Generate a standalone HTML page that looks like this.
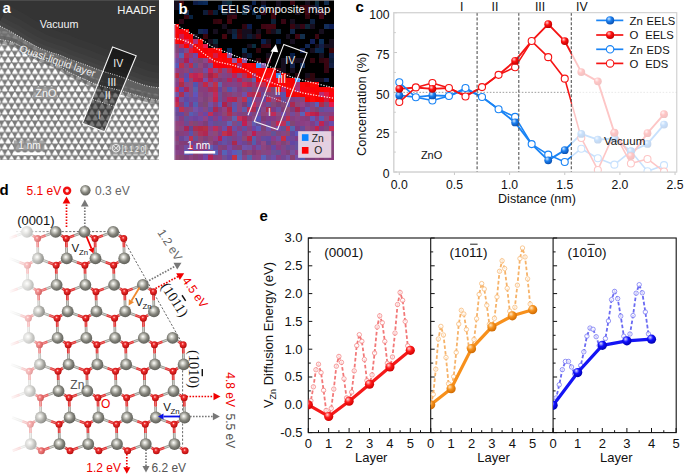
<!DOCTYPE html><html><head><meta charset="utf-8"><style>html,body{margin:0;padding:0;background:#fff;overflow:hidden;}svg{display:block}</style></head><body>
<svg width="685" height="474" viewBox="0 0 685 474">
<defs>
<radialGradient id="gZn" cx="0.45" cy="0.42" r="0.6" fx="0.42" fy="0.38"><stop offset="0" stop-color="#ffffff"/><stop offset="0.22" stop-color="#d6d6ce"/><stop offset="0.6" stop-color="#85857d"/><stop offset="1" stop-color="#5a5a54"/></radialGradient>
<radialGradient id="gO" cx="0.45" cy="0.42" r="0.6" fx="0.42" fy="0.38"><stop offset="0" stop-color="#ffd8d8"/><stop offset="0.3" stop-color="#f03030"/><stop offset="1" stop-color="#b00808"/></radialGradient>
<radialGradient id="gBlueC" cx="0.4" cy="0.35" r="0.65" fx="0.35" fy="0.3"><stop offset="0" stop-color="#d0e8ff"/><stop offset="0.45" stop-color="#1a7ff0"/><stop offset="1" stop-color="#0a50b0"/></radialGradient>
<radialGradient id="gRedC" cx="0.4" cy="0.35" r="0.65" fx="0.35" fy="0.3"><stop offset="0" stop-color="#ffd0d0"/><stop offset="0.45" stop-color="#ff1010"/><stop offset="1" stop-color="#c00000"/></radialGradient>
<radialGradient id="gRedE" cx="0.4" cy="0.35" r="0.65" fx="0.35" fy="0.3"><stop offset="0" stop-color="#ffd8d8"/><stop offset="0.45" stop-color="#ff1a1a"/><stop offset="1" stop-color="#d00000"/></radialGradient>
<radialGradient id="gOrE" cx="0.4" cy="0.35" r="0.65" fx="0.35" fy="0.3"><stop offset="0" stop-color="#ffe8c8"/><stop offset="0.45" stop-color="#f7931e"/><stop offset="1" stop-color="#d06a00"/></radialGradient>
<radialGradient id="gBlE" cx="0.4" cy="0.35" r="0.65" fx="0.35" fy="0.3"><stop offset="0" stop-color="#d8d8ff"/><stop offset="0.45" stop-color="#1010ff"/><stop offset="1" stop-color="#0000b0"/></radialGradient>
<radialGradient id="gZnAtom" cx="0.4" cy="0.35" r="0.65" fx="0.35" fy="0.3"><stop offset="0" stop-color="#ffffff"/><stop offset="0.45" stop-color="#a0a098"/><stop offset="1" stop-color="#5a5a52"/></radialGradient>
<linearGradient id="fadeL" x1="0" y1="0" x2="1" y2="0" gradientUnits="userSpaceOnUse" gradientTransform="translate(0,0) scale(60,1)"><stop offset="0" stop-color="#fff" stop-opacity="1"/><stop offset="0.14" stop-color="#fff" stop-opacity="1"/><stop offset="0.47" stop-color="#fff" stop-opacity="0.68"/><stop offset="0.63" stop-color="#fff" stop-opacity="0.45"/><stop offset="0.83" stop-color="#fff" stop-opacity="0.12"/><stop offset="0.95" stop-color="#fff" stop-opacity="0"/></linearGradient>
<clipPath id="clipA"><rect x="0" y="0" width="159" height="159.5"/></clipPath>
<clipPath id="clipB"><rect x="174" y="0" width="160" height="160"/></clipPath>
<clipPath id="clipC"><rect x="393.8" y="12.7" width="282.9" height="159.3"/></clipPath>
<clipPath id="clipE1"><rect x="308.3" y="238" width="122.4" height="194.6"/></clipPath>
<clipPath id="clipE2"><rect x="430.7" y="238" width="122.4" height="194.6"/></clipPath>
<clipPath id="clipE3"><rect x="553.1" y="238" width="123.1" height="194.6"/></clipPath>
</defs>
<defs>
<filter id="blur06" x="-0.2" y="-0.2" width="1.4" height="1.4"><feGaussianBlur stdDeviation="0.7"/></filter>
<pattern id="latt" patternUnits="userSpaceOnUse" width="6.7" height="11.6" patternTransform="translate(1.5,2)"><rect width="6.7" height="11.6" fill="#7a7a7a"/><g filter="url(#blur06)"><polygon points="-1.95,1.60 1.95,1.60 0.00,-1.95" fill="#ffffff" stroke="#ffffff" stroke-width="1.5" stroke-linejoin="round"/><polygon points="4.75,1.60 8.65,1.60 6.70,-1.95" fill="#ffffff" stroke="#ffffff" stroke-width="1.5" stroke-linejoin="round"/><polygon points="1.40,7.40 5.30,7.40 3.35,3.85" fill="#ffffff" stroke="#ffffff" stroke-width="1.5" stroke-linejoin="round"/><polygon points="-1.95,13.20 1.95,13.20 0.00,9.65" fill="#ffffff" stroke="#ffffff" stroke-width="1.5" stroke-linejoin="round"/><polygon points="4.75,13.20 8.65,13.20 6.70,9.65" fill="#ffffff" stroke="#ffffff" stroke-width="1.5" stroke-linejoin="round"/></g></pattern>
<linearGradient id="qllH" x1="0" y1="0" x2="1" y2="0"><stop offset="0" stop-color="#6e6e6e"/><stop offset="1" stop-color="#5e5e5e"/></linearGradient>
</defs>
<g clip-path="url(#clipA)">
<rect x="0" y="0" width="159" height="160" fill="#343434"/>
<rect x="0" y="0" width="159" height="1" fill="#4a4a4a"/>
<path d="M-2.00,25.00 C0.45,26.28 8.15,30.15 12.70,32.70 C17.25,35.25 21.08,37.88 25.30,40.30 C29.52,42.72 33.78,45.20 38.00,47.20 C42.22,49.20 46.93,50.97 50.60,52.30 C54.27,53.63 56.85,54.05 60.00,55.20 C63.15,56.35 65.45,57.67 69.50,59.20 C73.55,60.73 78.88,62.43 84.30,64.40 C89.72,66.37 96.05,68.98 102.00,71.00 C107.95,73.02 112.83,74.10 120.00,76.50 C127.17,78.90 138.17,83.48 145.00,85.40 C151.83,87.32 158.33,87.57 161.00,88.00" fill="none" stroke="#5a5a5a" stroke-width="44" stroke-opacity="0.1"/>
<path d="M-2.00,25.00 C0.45,26.28 8.15,30.15 12.70,32.70 C17.25,35.25 21.08,37.88 25.30,40.30 C29.52,42.72 33.78,45.20 38.00,47.20 C42.22,49.20 46.93,50.97 50.60,52.30 C54.27,53.63 56.85,54.05 60.00,55.20 C63.15,56.35 65.45,57.67 69.50,59.20 C73.55,60.73 78.88,62.43 84.30,64.40 C89.72,66.37 96.05,68.98 102.00,71.00 C107.95,73.02 112.83,74.10 120.00,76.50 C127.17,78.90 138.17,83.48 145.00,85.40 C151.83,87.32 158.33,87.57 161.00,88.00" fill="none" stroke="#5a5a5a" stroke-width="30" stroke-opacity="0.12"/>
<path d="M-2.00,25.00 C0.45,26.28 8.15,30.15 12.70,32.70 C17.25,35.25 21.08,37.88 25.30,40.30 C29.52,42.72 33.78,45.20 38.00,47.20 C42.22,49.20 46.93,50.97 50.60,52.30 C54.27,53.63 56.85,54.05 60.00,55.20 C63.15,56.35 65.45,57.67 69.50,59.20 C73.55,60.73 78.88,62.43 84.30,64.40 C89.72,66.37 96.05,68.98 102.00,71.00 C107.95,73.02 112.83,74.10 120.00,76.50 C127.17,78.90 138.17,83.48 145.00,85.40 C151.83,87.32 158.33,87.57 161.00,88.00" fill="none" stroke="#5a5a5a" stroke-width="18" stroke-opacity="0.15"/>
<path d="M-2.00,25.00 C0.45,26.28 8.15,30.15 12.70,32.70 C17.25,35.25 21.08,37.88 25.30,40.30 C29.52,42.72 33.78,45.20 38.00,47.20 C42.22,49.20 46.93,50.97 50.60,52.30 C54.27,53.63 56.85,54.05 60.00,55.20 C63.15,56.35 65.45,57.67 69.50,59.20 C73.55,60.73 78.88,62.43 84.30,64.40 C89.72,66.37 96.05,68.98 102.00,71.00 C107.95,73.02 112.83,74.10 120.00,76.50 C127.17,78.90 138.17,83.48 145.00,85.40 C151.83,87.32 158.33,87.57 161.00,88.00" fill="none" stroke="#5a5a5a" stroke-width="9" stroke-opacity="0.2"/>
<path d="M-2.00,25.00 C0.45,26.28 8.15,30.15 12.70,32.70 C17.25,35.25 21.08,37.88 25.30,40.30 C29.52,42.72 33.78,45.20 38.00,47.20 C42.22,49.20 46.93,50.97 50.60,52.30 C54.27,53.63 56.85,54.05 60.00,55.20 C63.15,56.35 65.45,57.67 69.50,59.20 C73.55,60.73 78.88,62.43 84.30,64.40 C89.72,66.37 96.05,68.98 102.00,71.00 C107.95,73.02 112.83,74.10 120.00,76.50 C127.17,78.90 138.17,83.48 145.00,85.40 C151.83,87.32 158.33,87.57 161.00,88.00 L161,160 L-2,160 Z" fill="url(#qllH)"/>
<path d="M-2.00,30.20 C0.45,30.70 8.15,31.55 12.70,33.20 C17.25,34.85 21.08,37.68 25.30,40.10 C29.52,42.52 33.78,45.58 38.00,47.70 C42.22,49.82 46.93,51.20 50.60,52.80 C54.27,54.40 56.85,55.55 60.00,57.30 C63.15,59.05 65.45,60.67 69.50,63.30 C73.55,65.93 79.38,70.43 84.30,73.10 C89.22,75.77 93.05,77.42 99.00,79.30 C104.95,81.18 112.33,82.37 120.00,84.40 C127.67,86.43 138.17,89.82 145.00,91.50 C151.83,93.18 158.33,94.00 161.00,94.50 L161,160 L-2,160 Z" fill="url(#latt)" opacity="0.16"/>
<path d="M-2.00,39.20 C0.45,39.70 8.15,40.55 12.70,42.20 C17.25,43.85 21.08,46.68 25.30,49.10 C29.52,51.52 33.78,54.58 38.00,56.70 C42.22,58.82 46.93,60.20 50.60,61.80 C54.27,63.40 56.85,64.55 60.00,66.30 C63.15,68.05 65.45,70.17 69.50,72.30 C73.55,74.43 79.38,76.93 84.30,79.10 C89.22,81.27 93.05,83.42 99.00,85.30 C104.95,87.18 112.33,88.37 120.00,90.40 C127.67,92.43 138.17,95.82 145.00,97.50 C151.83,99.18 158.33,100.00 161.00,100.50 L161,160 L-2,160 Z" fill="url(#latt)"/>
<path d="M-2.00,39.20 C0.45,39.70 8.15,40.55 12.70,42.20 C17.25,43.85 21.08,46.68 25.30,49.10 C29.52,51.52 33.78,54.58 38.00,56.70 C42.22,58.82 46.93,60.20 50.60,61.80 C54.27,63.40 56.85,64.55 60.00,66.30 C63.15,68.05 65.45,70.17 69.50,72.30 C73.55,74.43 79.38,76.93 84.30,79.10 C89.22,81.27 93.05,83.42 99.00,85.30 C104.95,87.18 112.33,88.37 120.00,90.40 C127.67,92.43 138.17,95.82 145.00,97.50 C151.83,99.18 158.33,100.00 161.00,100.50" fill="none" stroke="#555555" stroke-width="8" stroke-opacity="0.55"/>
<polygon points="112.6,47 136.2,55.8 104.5,131.8 82.4,123.3" fill="#000" fill-opacity="0.5"/>
<polygon points="112.6,47 136.2,55.8 104.5,131.8 82.4,123.3" fill="none" stroke="#f4f4f4" stroke-width="1.1"/>
<path d="M-2.00,25.00 C0.45,26.28 8.15,30.15 12.70,32.70 C17.25,35.25 21.08,37.88 25.30,40.30 C29.52,42.72 33.78,45.20 38.00,47.20 C42.22,49.20 46.93,50.97 50.60,52.30 C54.27,53.63 56.85,54.05 60.00,55.20 C63.15,56.35 65.45,57.67 69.50,59.20 C73.55,60.73 78.88,62.43 84.30,64.40 C89.72,66.37 96.05,68.98 102.00,71.00 C107.95,73.02 112.83,74.10 120.00,76.50 C127.17,78.90 138.17,83.48 145.00,85.40 C151.83,87.32 158.33,87.57 161.00,88.00" fill="none" stroke="#ffffff" stroke-width="0.9" stroke-dasharray="1,1.4" opacity="0.9"/>
<path d="M-2.00,39.20 C0.45,39.70 8.15,40.55 12.70,42.20 C17.25,43.85 21.08,46.68 25.30,49.10 C29.52,51.52 33.78,54.58 38.00,56.70 C42.22,58.82 46.93,60.20 50.60,61.80 C54.27,63.40 56.85,64.55 60.00,66.30 C63.15,68.05 65.45,70.17 69.50,72.30 C73.55,74.43 79.38,76.93 84.30,79.10 C89.22,81.27 93.05,83.42 99.00,85.30 C104.95,87.18 112.33,88.37 120.00,90.40 C127.67,92.43 138.17,95.82 145.00,97.50 C151.83,99.18 158.33,100.00 161.00,100.50" fill="none" stroke="#ffffff" stroke-width="0.9" stroke-dasharray="1,1.4" opacity="0.9"/>
<line x1="92.9" y1="99.5" x2="115.1" y2="106.5" stroke="#fff" stroke-width="0.9" stroke-dasharray="1,1.4" opacity="0.85"/>
<text x="2.50" y="12.80" style="font-family:'Liberation Sans',sans-serif;font-size:15px;font-weight:bold" fill="#fff" text-anchor="start" >a</text>
<text x="117.30" y="14.30" style="font-family:'Liberation Sans',sans-serif;font-size:11.3px;font-weight:normal" fill="#f2f2f2" text-anchor="start" >HAADF</text>
<text x="39.80" y="27.80" style="font-family:'Liberation Sans',sans-serif;font-size:10.8px;font-weight:normal" fill="#f2f2f2" text-anchor="start" >Vacuum</text>
<text x="18.80" y="51.60" style="font-family:'Liberation Sans',sans-serif;font-size:10.3px;font-weight:normal" fill="#f2f2f2" text-anchor="start" transform="rotate(18.8 18.8 51.6)">Quasi-liquid layer</text>
<rect x="33" y="87" width="24" height="12" fill="#8c8c8c" fill-opacity="0.75" filter="url(#blur06)"/>
<text x="35.30" y="97.00" style="font-family:'Liberation Sans',sans-serif;font-size:10.8px;font-weight:normal" fill="#f4f4f4" text-anchor="start" >ZnO</text>
<text x="118.20" y="66.60" style="font-family:'Liberation Sans',sans-serif;font-size:10.5px;font-weight:normal" fill="#f0f0f0" text-anchor="middle" >IV</text>
<text x="111.90" y="86.00" style="font-family:'Liberation Sans',sans-serif;font-size:10.5px;font-weight:normal" fill="#f0f0f0" text-anchor="middle" >III</text>
<text x="107.70" y="98.70" style="font-family:'Liberation Sans',sans-serif;font-size:10.5px;font-weight:normal" fill="#f0f0f0" text-anchor="middle" >II</text>
<text x="99.30" y="118.70" style="font-family:'Liberation Sans',sans-serif;font-size:10.5px;font-weight:normal" fill="#c8c8c8" text-anchor="middle" >I</text>
<rect x="13.8" y="140.4" width="30.6" height="11" fill="#8c8c8c" fill-opacity="0.75" filter="url(#blur06)"/>
<text x="18.30" y="148.90" style="font-family:'Liberation Sans',sans-serif;font-size:10px;font-weight:normal" fill="#f6f6f6" text-anchor="start" >1 nm</text>
<rect x="14.2" y="152.4" width="30.6" height="2.6" fill="#fff"/>
<rect x="110.5" y="142.5" width="38" height="12" fill="#8c8c8c" fill-opacity="0.75" filter="url(#blur06)"/>
<circle cx="116" cy="148.2" r="3.8" fill="none" stroke="#f0f0f0" stroke-width="0.9"/>
<line x1="113.4" y1="145.6" x2="118.6" y2="150.8" stroke="#f0f0f0" stroke-width="0.9"/><line x1="118.6" y1="145.6" x2="113.4" y2="150.8" stroke="#f0f0f0" stroke-width="0.9"/>
<text x="121.80" y="151.80" style="font-family:'Liberation Sans',sans-serif;font-size:9.5px;font-weight:normal" fill="#f0f0f0" text-anchor="start" textLength="24.6" lengthAdjust="spacingAndGlyphs">[1 1 2 0]</text>
</g>
<g clip-path="url(#clipB)">
<g shape-rendering="crispEdges">
<rect x="174.00" y="0.00" width="5.15" height="5.15" fill="#160e1e"/>
<rect x="178.85" y="0.00" width="5.15" height="5.15" fill="#3d050c"/>
<rect x="183.70" y="0.00" width="5.15" height="5.15" fill="#000000"/>
<rect x="188.55" y="0.00" width="5.15" height="5.15" fill="#000000"/>
<rect x="193.39" y="0.00" width="5.15" height="5.15" fill="#0e1c46"/>
<rect x="198.24" y="0.00" width="5.15" height="5.15" fill="#092553"/>
<rect x="203.09" y="0.00" width="5.15" height="5.15" fill="#0a2958"/>
<rect x="207.94" y="0.00" width="5.15" height="5.15" fill="#000000"/>
<rect x="212.79" y="0.00" width="5.15" height="5.15" fill="#000000"/>
<rect x="217.64" y="0.00" width="5.15" height="5.15" fill="#000000"/>
<rect x="222.48" y="0.00" width="5.15" height="5.15" fill="#12223c"/>
<rect x="227.33" y="0.00" width="5.15" height="5.15" fill="#0b2d3d"/>
<rect x="232.18" y="0.00" width="5.15" height="5.15" fill="#000000"/>
<rect x="237.03" y="0.00" width="5.15" height="5.15" fill="#000000"/>
<rect x="241.88" y="0.00" width="5.15" height="5.15" fill="#000000"/>
<rect x="246.73" y="0.00" width="5.15" height="5.15" fill="#000000"/>
<rect x="251.58" y="0.00" width="5.15" height="5.15" fill="#08204e"/>
<rect x="256.42" y="0.00" width="5.15" height="5.15" fill="#000000"/>
<rect x="261.27" y="0.00" width="5.15" height="5.15" fill="#160e1e"/>
<rect x="266.12" y="0.00" width="5.15" height="5.15" fill="#000000"/>
<rect x="270.97" y="0.00" width="5.15" height="5.15" fill="#000000"/>
<rect x="275.82" y="0.00" width="5.15" height="5.15" fill="#160e1e"/>
<rect x="280.67" y="0.00" width="5.15" height="5.15" fill="#000000"/>
<rect x="285.52" y="0.00" width="5.15" height="5.15" fill="#000000"/>
<rect x="290.36" y="0.00" width="5.15" height="5.15" fill="#3b0511"/>
<rect x="295.21" y="0.00" width="5.15" height="5.15" fill="#000000"/>
<rect x="300.06" y="0.00" width="5.15" height="5.15" fill="#000000"/>
<rect x="304.91" y="0.00" width="5.15" height="5.15" fill="#160e1e"/>
<rect x="309.76" y="0.00" width="5.15" height="5.15" fill="#000000"/>
<rect x="314.61" y="0.00" width="5.15" height="5.15" fill="#0d2c3c"/>
<rect x="319.45" y="0.00" width="5.15" height="5.15" fill="#000000"/>
<rect x="324.30" y="0.00" width="5.15" height="5.15" fill="#102c4b"/>
<rect x="329.15" y="0.00" width="5.15" height="5.15" fill="#000000"/>
<rect x="174.00" y="4.85" width="5.15" height="5.15" fill="#160e1e"/>
<rect x="178.85" y="4.85" width="5.15" height="5.15" fill="#000000"/>
<rect x="183.70" y="4.85" width="5.15" height="5.15" fill="#000000"/>
<rect x="188.55" y="4.85" width="5.15" height="5.15" fill="#000000"/>
<rect x="193.39" y="4.85" width="5.15" height="5.15" fill="#000000"/>
<rect x="198.24" y="4.85" width="5.15" height="5.15" fill="#000000"/>
<rect x="203.09" y="4.85" width="5.15" height="5.15" fill="#000000"/>
<rect x="207.94" y="4.85" width="5.15" height="5.15" fill="#000000"/>
<rect x="212.79" y="4.85" width="5.15" height="5.15" fill="#000000"/>
<rect x="217.64" y="4.85" width="5.15" height="5.15" fill="#102a59"/>
<rect x="222.48" y="4.85" width="5.15" height="5.15" fill="#000000"/>
<rect x="227.33" y="4.85" width="5.15" height="5.15" fill="#160e1e"/>
<rect x="232.18" y="4.85" width="5.15" height="5.15" fill="#000000"/>
<rect x="237.03" y="4.85" width="5.15" height="5.15" fill="#000000"/>
<rect x="241.88" y="4.85" width="5.15" height="5.15" fill="#0d1f3b"/>
<rect x="246.73" y="4.85" width="5.15" height="5.15" fill="#111e3f"/>
<rect x="251.58" y="4.85" width="5.15" height="5.15" fill="#000000"/>
<rect x="256.42" y="4.85" width="5.15" height="5.15" fill="#000000"/>
<rect x="261.27" y="4.85" width="5.15" height="5.15" fill="#0d2855"/>
<rect x="266.12" y="4.85" width="5.15" height="5.15" fill="#000000"/>
<rect x="270.97" y="4.85" width="5.15" height="5.15" fill="#000000"/>
<rect x="275.82" y="4.85" width="5.15" height="5.15" fill="#160e1e"/>
<rect x="280.67" y="4.85" width="5.15" height="5.15" fill="#000000"/>
<rect x="285.52" y="4.85" width="5.15" height="5.15" fill="#000000"/>
<rect x="290.36" y="4.85" width="5.15" height="5.15" fill="#000000"/>
<rect x="295.21" y="4.85" width="5.15" height="5.15" fill="#000000"/>
<rect x="300.06" y="4.85" width="5.15" height="5.15" fill="#31050e"/>
<rect x="304.91" y="4.85" width="5.15" height="5.15" fill="#390511"/>
<rect x="309.76" y="4.85" width="5.15" height="5.15" fill="#160e1e"/>
<rect x="314.61" y="4.85" width="5.15" height="5.15" fill="#0d244a"/>
<rect x="319.45" y="4.85" width="5.15" height="5.15" fill="#000000"/>
<rect x="324.30" y="4.85" width="5.15" height="5.15" fill="#000000"/>
<rect x="329.15" y="4.85" width="5.15" height="5.15" fill="#000000"/>
<rect x="174.00" y="9.70" width="5.15" height="5.15" fill="#000000"/>
<rect x="178.85" y="9.70" width="5.15" height="5.15" fill="#000000"/>
<rect x="183.70" y="9.70" width="5.15" height="5.15" fill="#122d55"/>
<rect x="188.55" y="9.70" width="5.15" height="5.15" fill="#000000"/>
<rect x="193.39" y="9.70" width="5.15" height="5.15" fill="#000000"/>
<rect x="198.24" y="9.70" width="5.15" height="5.15" fill="#000000"/>
<rect x="203.09" y="9.70" width="5.15" height="5.15" fill="#0f1d39"/>
<rect x="207.94" y="9.70" width="5.15" height="5.15" fill="#31050f"/>
<rect x="212.79" y="9.70" width="5.15" height="5.15" fill="#081f3a"/>
<rect x="217.64" y="9.70" width="5.15" height="5.15" fill="#000000"/>
<rect x="222.48" y="9.70" width="5.15" height="5.15" fill="#12293c"/>
<rect x="227.33" y="9.70" width="5.15" height="5.15" fill="#160e1e"/>
<rect x="232.18" y="9.70" width="5.15" height="5.15" fill="#160e1e"/>
<rect x="237.03" y="9.70" width="5.15" height="5.15" fill="#000000"/>
<rect x="241.88" y="9.70" width="5.15" height="5.15" fill="#123147"/>
<rect x="246.73" y="9.70" width="5.15" height="5.15" fill="#000000"/>
<rect x="251.58" y="9.70" width="5.15" height="5.15" fill="#092340"/>
<rect x="256.42" y="9.70" width="5.15" height="5.15" fill="#000000"/>
<rect x="261.27" y="9.70" width="5.15" height="5.15" fill="#2d0515"/>
<rect x="266.12" y="9.70" width="5.15" height="5.15" fill="#000000"/>
<rect x="270.97" y="9.70" width="5.15" height="5.15" fill="#3a050c"/>
<rect x="275.82" y="9.70" width="5.15" height="5.15" fill="#000000"/>
<rect x="280.67" y="9.70" width="5.15" height="5.15" fill="#000000"/>
<rect x="285.52" y="9.70" width="5.15" height="5.15" fill="#000000"/>
<rect x="290.36" y="9.70" width="5.15" height="5.15" fill="#000000"/>
<rect x="295.21" y="9.70" width="5.15" height="5.15" fill="#160e1e"/>
<rect x="300.06" y="9.70" width="5.15" height="5.15" fill="#000000"/>
<rect x="304.91" y="9.70" width="5.15" height="5.15" fill="#400511"/>
<rect x="309.76" y="9.70" width="5.15" height="5.15" fill="#000000"/>
<rect x="314.61" y="9.70" width="5.15" height="5.15" fill="#160e1e"/>
<rect x="319.45" y="9.70" width="5.15" height="5.15" fill="#410515"/>
<rect x="324.30" y="9.70" width="5.15" height="5.15" fill="#000000"/>
<rect x="329.15" y="9.70" width="5.15" height="5.15" fill="#000000"/>
<rect x="174.00" y="14.55" width="5.15" height="5.15" fill="#000000"/>
<rect x="178.85" y="14.55" width="5.15" height="5.15" fill="#000000"/>
<rect x="183.70" y="14.55" width="5.15" height="5.15" fill="#39050f"/>
<rect x="188.55" y="14.55" width="5.15" height="5.15" fill="#082240"/>
<rect x="193.39" y="14.55" width="5.15" height="5.15" fill="#000000"/>
<rect x="198.24" y="14.55" width="5.15" height="5.15" fill="#000000"/>
<rect x="203.09" y="14.55" width="5.15" height="5.15" fill="#000000"/>
<rect x="207.94" y="14.55" width="5.15" height="5.15" fill="#000000"/>
<rect x="212.79" y="14.55" width="5.15" height="5.15" fill="#000000"/>
<rect x="217.64" y="14.55" width="5.15" height="5.15" fill="#000000"/>
<rect x="222.48" y="14.55" width="5.15" height="5.15" fill="#000000"/>
<rect x="227.33" y="14.55" width="5.15" height="5.15" fill="#32050d"/>
<rect x="232.18" y="14.55" width="5.15" height="5.15" fill="#3c0515"/>
<rect x="237.03" y="14.55" width="5.15" height="5.15" fill="#000000"/>
<rect x="241.88" y="14.55" width="5.15" height="5.15" fill="#000000"/>
<rect x="246.73" y="14.55" width="5.15" height="5.15" fill="#000000"/>
<rect x="251.58" y="14.55" width="5.15" height="5.15" fill="#000000"/>
<rect x="256.42" y="14.55" width="5.15" height="5.15" fill="#0f3052"/>
<rect x="261.27" y="14.55" width="5.15" height="5.15" fill="#000000"/>
<rect x="266.12" y="14.55" width="5.15" height="5.15" fill="#000000"/>
<rect x="270.97" y="14.55" width="5.15" height="5.15" fill="#40050f"/>
<rect x="275.82" y="14.55" width="5.15" height="5.15" fill="#000000"/>
<rect x="280.67" y="14.55" width="5.15" height="5.15" fill="#000000"/>
<rect x="285.52" y="14.55" width="5.15" height="5.15" fill="#000000"/>
<rect x="290.36" y="14.55" width="5.15" height="5.15" fill="#000000"/>
<rect x="295.21" y="14.55" width="5.15" height="5.15" fill="#000000"/>
<rect x="300.06" y="14.55" width="5.15" height="5.15" fill="#000000"/>
<rect x="304.91" y="14.55" width="5.15" height="5.15" fill="#30050d"/>
<rect x="309.76" y="14.55" width="5.15" height="5.15" fill="#000000"/>
<rect x="314.61" y="14.55" width="5.15" height="5.15" fill="#000000"/>
<rect x="319.45" y="14.55" width="5.15" height="5.15" fill="#410515"/>
<rect x="324.30" y="14.55" width="5.15" height="5.15" fill="#000000"/>
<rect x="329.15" y="14.55" width="5.15" height="5.15" fill="#000000"/>
<rect x="174.00" y="19.39" width="5.15" height="5.15" fill="#000000"/>
<rect x="178.85" y="19.39" width="5.15" height="5.15" fill="#2d0515"/>
<rect x="183.70" y="19.39" width="5.15" height="5.15" fill="#000000"/>
<rect x="188.55" y="19.39" width="5.15" height="5.15" fill="#000000"/>
<rect x="193.39" y="19.39" width="5.15" height="5.15" fill="#000000"/>
<rect x="198.24" y="19.39" width="5.15" height="5.15" fill="#000000"/>
<rect x="203.09" y="19.39" width="5.15" height="5.15" fill="#000000"/>
<rect x="207.94" y="19.39" width="5.15" height="5.15" fill="#000000"/>
<rect x="212.79" y="19.39" width="5.15" height="5.15" fill="#33050e"/>
<rect x="217.64" y="19.39" width="5.15" height="5.15" fill="#3b050e"/>
<rect x="222.48" y="19.39" width="5.15" height="5.15" fill="#000000"/>
<rect x="227.33" y="19.39" width="5.15" height="5.15" fill="#43050f"/>
<rect x="232.18" y="19.39" width="5.15" height="5.15" fill="#000000"/>
<rect x="237.03" y="19.39" width="5.15" height="5.15" fill="#000000"/>
<rect x="241.88" y="19.39" width="5.15" height="5.15" fill="#000000"/>
<rect x="246.73" y="19.39" width="5.15" height="5.15" fill="#000000"/>
<rect x="251.58" y="19.39" width="5.15" height="5.15" fill="#000000"/>
<rect x="256.42" y="19.39" width="5.15" height="5.15" fill="#000000"/>
<rect x="261.27" y="19.39" width="5.15" height="5.15" fill="#000000"/>
<rect x="266.12" y="19.39" width="5.15" height="5.15" fill="#000000"/>
<rect x="270.97" y="19.39" width="5.15" height="5.15" fill="#0d2037"/>
<rect x="275.82" y="19.39" width="5.15" height="5.15" fill="#000000"/>
<rect x="280.67" y="19.39" width="5.15" height="5.15" fill="#380513"/>
<rect x="285.52" y="19.39" width="5.15" height="5.15" fill="#000000"/>
<rect x="290.36" y="19.39" width="5.15" height="5.15" fill="#160e1e"/>
<rect x="295.21" y="19.39" width="5.15" height="5.15" fill="#000000"/>
<rect x="300.06" y="19.39" width="5.15" height="5.15" fill="#000000"/>
<rect x="304.91" y="19.39" width="5.15" height="5.15" fill="#000000"/>
<rect x="309.76" y="19.39" width="5.15" height="5.15" fill="#0e2140"/>
<rect x="314.61" y="19.39" width="5.15" height="5.15" fill="#000000"/>
<rect x="319.45" y="19.39" width="5.15" height="5.15" fill="#000000"/>
<rect x="324.30" y="19.39" width="5.15" height="5.15" fill="#000000"/>
<rect x="329.15" y="19.39" width="5.15" height="5.15" fill="#000000"/>
<rect x="174.00" y="24.24" width="5.15" height="5.15" fill="#f90707"/>
<rect x="178.85" y="24.24" width="5.15" height="5.15" fill="#000000"/>
<rect x="183.70" y="24.24" width="5.15" height="5.15" fill="#000000"/>
<rect x="188.55" y="24.24" width="5.15" height="5.15" fill="#000000"/>
<rect x="193.39" y="24.24" width="5.15" height="5.15" fill="#000000"/>
<rect x="198.24" y="24.24" width="5.15" height="5.15" fill="#000000"/>
<rect x="203.09" y="24.24" width="5.15" height="5.15" fill="#000000"/>
<rect x="207.94" y="24.24" width="5.15" height="5.15" fill="#000000"/>
<rect x="212.79" y="24.24" width="5.15" height="5.15" fill="#000000"/>
<rect x="217.64" y="24.24" width="5.15" height="5.15" fill="#000000"/>
<rect x="222.48" y="24.24" width="5.15" height="5.15" fill="#160e1e"/>
<rect x="227.33" y="24.24" width="5.15" height="5.15" fill="#000000"/>
<rect x="232.18" y="24.24" width="5.15" height="5.15" fill="#000000"/>
<rect x="237.03" y="24.24" width="5.15" height="5.15" fill="#000000"/>
<rect x="241.88" y="24.24" width="5.15" height="5.15" fill="#300510"/>
<rect x="246.73" y="24.24" width="5.15" height="5.15" fill="#0a1d4e"/>
<rect x="251.58" y="24.24" width="5.15" height="5.15" fill="#000000"/>
<rect x="256.42" y="24.24" width="5.15" height="5.15" fill="#000000"/>
<rect x="261.27" y="24.24" width="5.15" height="5.15" fill="#3e0512"/>
<rect x="266.12" y="24.24" width="5.15" height="5.15" fill="#430515"/>
<rect x="270.97" y="24.24" width="5.15" height="5.15" fill="#44050f"/>
<rect x="275.82" y="24.24" width="5.15" height="5.15" fill="#000000"/>
<rect x="280.67" y="24.24" width="5.15" height="5.15" fill="#000000"/>
<rect x="285.52" y="24.24" width="5.15" height="5.15" fill="#000000"/>
<rect x="290.36" y="24.24" width="5.15" height="5.15" fill="#370511"/>
<rect x="295.21" y="24.24" width="5.15" height="5.15" fill="#160e1e"/>
<rect x="300.06" y="24.24" width="5.15" height="5.15" fill="#340513"/>
<rect x="304.91" y="24.24" width="5.15" height="5.15" fill="#0e2537"/>
<rect x="309.76" y="24.24" width="5.15" height="5.15" fill="#160e1e"/>
<rect x="314.61" y="24.24" width="5.15" height="5.15" fill="#000000"/>
<rect x="319.45" y="24.24" width="5.15" height="5.15" fill="#000000"/>
<rect x="324.30" y="24.24" width="5.15" height="5.15" fill="#132d59"/>
<rect x="329.15" y="24.24" width="5.15" height="5.15" fill="#0b1c52"/>
<rect x="174.00" y="29.09" width="5.15" height="5.15" fill="#f6050d"/>
<rect x="178.85" y="29.09" width="5.15" height="5.15" fill="#f7010d"/>
<rect x="183.70" y="29.09" width="5.15" height="5.15" fill="#fc0100"/>
<rect x="188.55" y="29.09" width="5.15" height="5.15" fill="#000000"/>
<rect x="193.39" y="29.09" width="5.15" height="5.15" fill="#000000"/>
<rect x="198.24" y="29.09" width="5.15" height="5.15" fill="#132953"/>
<rect x="203.09" y="29.09" width="5.15" height="5.15" fill="#121d55"/>
<rect x="207.94" y="29.09" width="5.15" height="5.15" fill="#000000"/>
<rect x="212.79" y="29.09" width="5.15" height="5.15" fill="#160e1e"/>
<rect x="217.64" y="29.09" width="5.15" height="5.15" fill="#000000"/>
<rect x="222.48" y="29.09" width="5.15" height="5.15" fill="#000000"/>
<rect x="227.33" y="29.09" width="5.15" height="5.15" fill="#160e1e"/>
<rect x="232.18" y="29.09" width="5.15" height="5.15" fill="#0e213a"/>
<rect x="237.03" y="29.09" width="5.15" height="5.15" fill="#2e050e"/>
<rect x="241.88" y="29.09" width="5.15" height="5.15" fill="#160e1e"/>
<rect x="246.73" y="29.09" width="5.15" height="5.15" fill="#160e1e"/>
<rect x="251.58" y="29.09" width="5.15" height="5.15" fill="#000000"/>
<rect x="256.42" y="29.09" width="5.15" height="5.15" fill="#160e1e"/>
<rect x="261.27" y="29.09" width="5.15" height="5.15" fill="#000000"/>
<rect x="266.12" y="29.09" width="5.15" height="5.15" fill="#35050c"/>
<rect x="270.97" y="29.09" width="5.15" height="5.15" fill="#160e1e"/>
<rect x="275.82" y="29.09" width="5.15" height="5.15" fill="#10283d"/>
<rect x="280.67" y="29.09" width="5.15" height="5.15" fill="#000000"/>
<rect x="285.52" y="29.09" width="5.15" height="5.15" fill="#000000"/>
<rect x="290.36" y="29.09" width="5.15" height="5.15" fill="#112548"/>
<rect x="295.21" y="29.09" width="5.15" height="5.15" fill="#000000"/>
<rect x="300.06" y="29.09" width="5.15" height="5.15" fill="#000000"/>
<rect x="304.91" y="29.09" width="5.15" height="5.15" fill="#000000"/>
<rect x="309.76" y="29.09" width="5.15" height="5.15" fill="#000000"/>
<rect x="314.61" y="29.09" width="5.15" height="5.15" fill="#000000"/>
<rect x="319.45" y="29.09" width="5.15" height="5.15" fill="#160e1e"/>
<rect x="324.30" y="29.09" width="5.15" height="5.15" fill="#000000"/>
<rect x="329.15" y="29.09" width="5.15" height="5.15" fill="#000000"/>
<rect x="174.00" y="33.94" width="5.15" height="5.15" fill="#f90400"/>
<rect x="178.85" y="33.94" width="5.15" height="5.15" fill="#cf194a"/>
<rect x="183.70" y="33.94" width="5.15" height="5.15" fill="#f6010c"/>
<rect x="188.55" y="33.94" width="5.15" height="5.15" fill="#fb0303"/>
<rect x="193.39" y="33.94" width="5.15" height="5.15" fill="#160e1e"/>
<rect x="198.24" y="33.94" width="5.15" height="5.15" fill="#000000"/>
<rect x="203.09" y="33.94" width="5.15" height="5.15" fill="#38050e"/>
<rect x="207.94" y="33.94" width="5.15" height="5.15" fill="#000000"/>
<rect x="212.79" y="33.94" width="5.15" height="5.15" fill="#000000"/>
<rect x="217.64" y="33.94" width="5.15" height="5.15" fill="#000000"/>
<rect x="222.48" y="33.94" width="5.15" height="5.15" fill="#45050f"/>
<rect x="227.33" y="33.94" width="5.15" height="5.15" fill="#000000"/>
<rect x="232.18" y="33.94" width="5.15" height="5.15" fill="#0c2648"/>
<rect x="237.03" y="33.94" width="5.15" height="5.15" fill="#39050c"/>
<rect x="241.88" y="33.94" width="5.15" height="5.15" fill="#160e1e"/>
<rect x="246.73" y="33.94" width="5.15" height="5.15" fill="#0c1c37"/>
<rect x="251.58" y="33.94" width="5.15" height="5.15" fill="#160e1e"/>
<rect x="256.42" y="33.94" width="5.15" height="5.15" fill="#3b0511"/>
<rect x="261.27" y="33.94" width="5.15" height="5.15" fill="#000000"/>
<rect x="266.12" y="33.94" width="5.15" height="5.15" fill="#000000"/>
<rect x="270.97" y="33.94" width="5.15" height="5.15" fill="#000000"/>
<rect x="275.82" y="33.94" width="5.15" height="5.15" fill="#000000"/>
<rect x="280.67" y="33.94" width="5.15" height="5.15" fill="#000000"/>
<rect x="285.52" y="33.94" width="5.15" height="5.15" fill="#160e1e"/>
<rect x="290.36" y="33.94" width="5.15" height="5.15" fill="#000000"/>
<rect x="295.21" y="33.94" width="5.15" height="5.15" fill="#3f0512"/>
<rect x="300.06" y="33.94" width="5.15" height="5.15" fill="#122f4c"/>
<rect x="304.91" y="33.94" width="5.15" height="5.15" fill="#000000"/>
<rect x="309.76" y="33.94" width="5.15" height="5.15" fill="#000000"/>
<rect x="314.61" y="33.94" width="5.15" height="5.15" fill="#3a0511"/>
<rect x="319.45" y="33.94" width="5.15" height="5.15" fill="#000000"/>
<rect x="324.30" y="33.94" width="5.15" height="5.15" fill="#000000"/>
<rect x="329.15" y="33.94" width="5.15" height="5.15" fill="#000000"/>
<rect x="174.00" y="38.79" width="5.15" height="5.15" fill="#fd080a"/>
<rect x="178.85" y="38.79" width="5.15" height="5.15" fill="#f50105"/>
<rect x="183.70" y="38.79" width="5.15" height="5.15" fill="#e61947"/>
<rect x="188.55" y="38.79" width="5.15" height="5.15" fill="#fb0807"/>
<rect x="193.39" y="38.79" width="5.15" height="5.15" fill="#b52d7a"/>
<rect x="198.24" y="38.79" width="5.15" height="5.15" fill="#fa0700"/>
<rect x="203.09" y="38.79" width="5.15" height="5.15" fill="#000000"/>
<rect x="207.94" y="38.79" width="5.15" height="5.15" fill="#160e1e"/>
<rect x="212.79" y="38.79" width="5.15" height="5.15" fill="#0b2c3e"/>
<rect x="217.64" y="38.79" width="5.15" height="5.15" fill="#000000"/>
<rect x="222.48" y="38.79" width="5.15" height="5.15" fill="#000000"/>
<rect x="227.33" y="38.79" width="5.15" height="5.15" fill="#000000"/>
<rect x="232.18" y="38.79" width="5.15" height="5.15" fill="#000000"/>
<rect x="237.03" y="38.79" width="5.15" height="5.15" fill="#000000"/>
<rect x="241.88" y="38.79" width="5.15" height="5.15" fill="#000000"/>
<rect x="246.73" y="38.79" width="5.15" height="5.15" fill="#000000"/>
<rect x="251.58" y="38.79" width="5.15" height="5.15" fill="#000000"/>
<rect x="256.42" y="38.79" width="5.15" height="5.15" fill="#000000"/>
<rect x="261.27" y="38.79" width="5.15" height="5.15" fill="#092151"/>
<rect x="266.12" y="38.79" width="5.15" height="5.15" fill="#160e1e"/>
<rect x="270.97" y="38.79" width="5.15" height="5.15" fill="#000000"/>
<rect x="275.82" y="38.79" width="5.15" height="5.15" fill="#08214e"/>
<rect x="280.67" y="38.79" width="5.15" height="5.15" fill="#000000"/>
<rect x="285.52" y="38.79" width="5.15" height="5.15" fill="#000000"/>
<rect x="290.36" y="38.79" width="5.15" height="5.15" fill="#160e1e"/>
<rect x="295.21" y="38.79" width="5.15" height="5.15" fill="#000000"/>
<rect x="300.06" y="38.79" width="5.15" height="5.15" fill="#000000"/>
<rect x="304.91" y="38.79" width="5.15" height="5.15" fill="#000000"/>
<rect x="309.76" y="38.79" width="5.15" height="5.15" fill="#122059"/>
<rect x="314.61" y="38.79" width="5.15" height="5.15" fill="#000000"/>
<rect x="319.45" y="38.79" width="5.15" height="5.15" fill="#0d2e58"/>
<rect x="324.30" y="38.79" width="5.15" height="5.15" fill="#000000"/>
<rect x="329.15" y="38.79" width="5.15" height="5.15" fill="#160e1e"/>
<rect x="174.00" y="43.64" width="5.15" height="5.15" fill="#824375"/>
<rect x="178.85" y="43.64" width="5.15" height="5.15" fill="#c22857"/>
<rect x="183.70" y="43.64" width="5.15" height="5.15" fill="#fd0500"/>
<rect x="188.55" y="43.64" width="5.15" height="5.15" fill="#a92d71"/>
<rect x="193.39" y="43.64" width="5.15" height="5.15" fill="#f60404"/>
<rect x="198.24" y="43.64" width="5.15" height="5.15" fill="#f5090c"/>
<rect x="203.09" y="43.64" width="5.15" height="5.15" fill="#e8194a"/>
<rect x="207.94" y="43.64" width="5.15" height="5.15" fill="#000000"/>
<rect x="212.79" y="43.64" width="5.15" height="5.15" fill="#160e1e"/>
<rect x="217.64" y="43.64" width="5.15" height="5.15" fill="#000000"/>
<rect x="222.48" y="43.64" width="5.15" height="5.15" fill="#000000"/>
<rect x="227.33" y="43.64" width="5.15" height="5.15" fill="#000000"/>
<rect x="232.18" y="43.64" width="5.15" height="5.15" fill="#000000"/>
<rect x="237.03" y="43.64" width="5.15" height="5.15" fill="#000000"/>
<rect x="241.88" y="43.64" width="5.15" height="5.15" fill="#000000"/>
<rect x="246.73" y="43.64" width="5.15" height="5.15" fill="#160e1e"/>
<rect x="251.58" y="43.64" width="5.15" height="5.15" fill="#092e40"/>
<rect x="256.42" y="43.64" width="5.15" height="5.15" fill="#000000"/>
<rect x="261.27" y="43.64" width="5.15" height="5.15" fill="#330511"/>
<rect x="266.12" y="43.64" width="5.15" height="5.15" fill="#360515"/>
<rect x="270.97" y="43.64" width="5.15" height="5.15" fill="#000000"/>
<rect x="275.82" y="43.64" width="5.15" height="5.15" fill="#000000"/>
<rect x="280.67" y="43.64" width="5.15" height="5.15" fill="#000000"/>
<rect x="285.52" y="43.64" width="5.15" height="5.15" fill="#000000"/>
<rect x="290.36" y="43.64" width="5.15" height="5.15" fill="#000000"/>
<rect x="295.21" y="43.64" width="5.15" height="5.15" fill="#000000"/>
<rect x="300.06" y="43.64" width="5.15" height="5.15" fill="#000000"/>
<rect x="304.91" y="43.64" width="5.15" height="5.15" fill="#102551"/>
<rect x="309.76" y="43.64" width="5.15" height="5.15" fill="#000000"/>
<rect x="314.61" y="43.64" width="5.15" height="5.15" fill="#160e1e"/>
<rect x="319.45" y="43.64" width="5.15" height="5.15" fill="#131e47"/>
<rect x="324.30" y="43.64" width="5.15" height="5.15" fill="#160e1e"/>
<rect x="329.15" y="43.64" width="5.15" height="5.15" fill="#160e1e"/>
<rect x="174.00" y="48.48" width="5.15" height="5.15" fill="#834479"/>
<rect x="178.85" y="48.48" width="5.15" height="5.15" fill="#654696"/>
<rect x="183.70" y="48.48" width="5.15" height="5.15" fill="#824889"/>
<rect x="188.55" y="48.48" width="5.15" height="5.15" fill="#e11937"/>
<rect x="193.39" y="48.48" width="5.15" height="5.15" fill="#f7060d"/>
<rect x="198.24" y="48.48" width="5.15" height="5.15" fill="#f90407"/>
<rect x="203.09" y="48.48" width="5.15" height="5.15" fill="#f80004"/>
<rect x="207.94" y="48.48" width="5.15" height="5.15" fill="#f60609"/>
<rect x="212.79" y="48.48" width="5.15" height="5.15" fill="#f70303"/>
<rect x="217.64" y="48.48" width="5.15" height="5.15" fill="#f90b0c"/>
<rect x="222.48" y="48.48" width="5.15" height="5.15" fill="#000000"/>
<rect x="227.33" y="48.48" width="5.15" height="5.15" fill="#082b56"/>
<rect x="232.18" y="48.48" width="5.15" height="5.15" fill="#000000"/>
<rect x="237.03" y="48.48" width="5.15" height="5.15" fill="#000000"/>
<rect x="241.88" y="48.48" width="5.15" height="5.15" fill="#0c3053"/>
<rect x="246.73" y="48.48" width="5.15" height="5.15" fill="#000000"/>
<rect x="251.58" y="48.48" width="5.15" height="5.15" fill="#000000"/>
<rect x="256.42" y="48.48" width="5.15" height="5.15" fill="#2f050d"/>
<rect x="261.27" y="48.48" width="5.15" height="5.15" fill="#000000"/>
<rect x="266.12" y="48.48" width="5.15" height="5.15" fill="#000000"/>
<rect x="270.97" y="48.48" width="5.15" height="5.15" fill="#000000"/>
<rect x="275.82" y="48.48" width="5.15" height="5.15" fill="#000000"/>
<rect x="280.67" y="48.48" width="5.15" height="5.15" fill="#000000"/>
<rect x="285.52" y="48.48" width="5.15" height="5.15" fill="#000000"/>
<rect x="290.36" y="48.48" width="5.15" height="5.15" fill="#000000"/>
<rect x="295.21" y="48.48" width="5.15" height="5.15" fill="#000000"/>
<rect x="300.06" y="48.48" width="5.15" height="5.15" fill="#112157"/>
<rect x="304.91" y="48.48" width="5.15" height="5.15" fill="#000000"/>
<rect x="309.76" y="48.48" width="5.15" height="5.15" fill="#160e1e"/>
<rect x="314.61" y="48.48" width="5.15" height="5.15" fill="#0b294f"/>
<rect x="319.45" y="48.48" width="5.15" height="5.15" fill="#08274b"/>
<rect x="324.30" y="48.48" width="5.15" height="5.15" fill="#000000"/>
<rect x="329.15" y="48.48" width="5.15" height="5.15" fill="#3c050c"/>
<rect x="174.00" y="53.33" width="5.15" height="5.15" fill="#914487"/>
<rect x="178.85" y="53.33" width="5.15" height="5.15" fill="#5265b6"/>
<rect x="183.70" y="53.33" width="5.15" height="5.15" fill="#b82b4e"/>
<rect x="188.55" y="53.33" width="5.15" height="5.15" fill="#903d72"/>
<rect x="193.39" y="53.33" width="5.15" height="5.15" fill="#6f47a5"/>
<rect x="198.24" y="53.33" width="5.15" height="5.15" fill="#fa020e"/>
<rect x="203.09" y="53.33" width="5.15" height="5.15" fill="#fd0203"/>
<rect x="207.94" y="53.33" width="5.15" height="5.15" fill="#f70b07"/>
<rect x="212.79" y="53.33" width="5.15" height="5.15" fill="#d31944"/>
<rect x="217.64" y="53.33" width="5.15" height="5.15" fill="#fe0105"/>
<rect x="222.48" y="53.33" width="5.15" height="5.15" fill="#fe0100"/>
<rect x="227.33" y="53.33" width="5.15" height="5.15" fill="#8a5aa8"/>
<rect x="232.18" y="53.33" width="5.15" height="5.15" fill="#000000"/>
<rect x="237.03" y="53.33" width="5.15" height="5.15" fill="#000000"/>
<rect x="241.88" y="53.33" width="5.15" height="5.15" fill="#160e1e"/>
<rect x="246.73" y="53.33" width="5.15" height="5.15" fill="#081f3d"/>
<rect x="251.58" y="53.33" width="5.15" height="5.15" fill="#000000"/>
<rect x="256.42" y="53.33" width="5.15" height="5.15" fill="#000000"/>
<rect x="261.27" y="53.33" width="5.15" height="5.15" fill="#000000"/>
<rect x="266.12" y="53.33" width="5.15" height="5.15" fill="#160e1e"/>
<rect x="270.97" y="53.33" width="5.15" height="5.15" fill="#000000"/>
<rect x="275.82" y="53.33" width="5.15" height="5.15" fill="#000000"/>
<rect x="280.67" y="53.33" width="5.15" height="5.15" fill="#000000"/>
<rect x="285.52" y="53.33" width="5.15" height="5.15" fill="#000000"/>
<rect x="290.36" y="53.33" width="5.15" height="5.15" fill="#081d45"/>
<rect x="295.21" y="53.33" width="5.15" height="5.15" fill="#000000"/>
<rect x="300.06" y="53.33" width="5.15" height="5.15" fill="#000000"/>
<rect x="304.91" y="53.33" width="5.15" height="5.15" fill="#000000"/>
<rect x="309.76" y="53.33" width="5.15" height="5.15" fill="#000000"/>
<rect x="314.61" y="53.33" width="5.15" height="5.15" fill="#000000"/>
<rect x="319.45" y="53.33" width="5.15" height="5.15" fill="#160e1e"/>
<rect x="324.30" y="53.33" width="5.15" height="5.15" fill="#000000"/>
<rect x="329.15" y="53.33" width="5.15" height="5.15" fill="#102049"/>
<rect x="174.00" y="58.18" width="5.15" height="5.15" fill="#704ba1"/>
<rect x="178.85" y="58.18" width="5.15" height="5.15" fill="#86407d"/>
<rect x="183.70" y="58.18" width="5.15" height="5.15" fill="#af1f52"/>
<rect x="188.55" y="58.18" width="5.15" height="5.15" fill="#7544a3"/>
<rect x="193.39" y="58.18" width="5.15" height="5.15" fill="#834580"/>
<rect x="198.24" y="58.18" width="5.15" height="5.15" fill="#7f4774"/>
<rect x="203.09" y="58.18" width="5.15" height="5.15" fill="#8d4687"/>
<rect x="207.94" y="58.18" width="5.15" height="5.15" fill="#db193c"/>
<rect x="212.79" y="58.18" width="5.15" height="5.15" fill="#f80802"/>
<rect x="217.64" y="58.18" width="5.15" height="5.15" fill="#fd050b"/>
<rect x="222.48" y="58.18" width="5.15" height="5.15" fill="#fa0402"/>
<rect x="227.33" y="58.18" width="5.15" height="5.15" fill="#fb0508"/>
<rect x="232.18" y="58.18" width="5.15" height="5.15" fill="#8a5aa8"/>
<rect x="237.03" y="58.18" width="5.15" height="5.15" fill="#fe0301"/>
<rect x="241.88" y="58.18" width="5.15" height="5.15" fill="#8a5aa8"/>
<rect x="246.73" y="58.18" width="5.15" height="5.15" fill="#000000"/>
<rect x="251.58" y="58.18" width="5.15" height="5.15" fill="#000000"/>
<rect x="256.42" y="58.18" width="5.15" height="5.15" fill="#300510"/>
<rect x="261.27" y="58.18" width="5.15" height="5.15" fill="#000000"/>
<rect x="266.12" y="58.18" width="5.15" height="5.15" fill="#3a0513"/>
<rect x="270.97" y="58.18" width="5.15" height="5.15" fill="#000000"/>
<rect x="275.82" y="58.18" width="5.15" height="5.15" fill="#000000"/>
<rect x="280.67" y="58.18" width="5.15" height="5.15" fill="#160e1e"/>
<rect x="285.52" y="58.18" width="5.15" height="5.15" fill="#160e1e"/>
<rect x="290.36" y="58.18" width="5.15" height="5.15" fill="#160e1e"/>
<rect x="295.21" y="58.18" width="5.15" height="5.15" fill="#160e1e"/>
<rect x="300.06" y="58.18" width="5.15" height="5.15" fill="#160e1e"/>
<rect x="304.91" y="58.18" width="5.15" height="5.15" fill="#000000"/>
<rect x="309.76" y="58.18" width="5.15" height="5.15" fill="#32050e"/>
<rect x="314.61" y="58.18" width="5.15" height="5.15" fill="#000000"/>
<rect x="319.45" y="58.18" width="5.15" height="5.15" fill="#2e050e"/>
<rect x="324.30" y="58.18" width="5.15" height="5.15" fill="#3a0512"/>
<rect x="329.15" y="58.18" width="5.15" height="5.15" fill="#0d1c37"/>
<rect x="174.00" y="63.03" width="5.15" height="5.15" fill="#5659b9"/>
<rect x="178.85" y="63.03" width="5.15" height="5.15" fill="#bc2e49"/>
<rect x="183.70" y="63.03" width="5.15" height="5.15" fill="#814384"/>
<rect x="188.55" y="63.03" width="5.15" height="5.15" fill="#bd2c4c"/>
<rect x="193.39" y="63.03" width="5.15" height="5.15" fill="#625392"/>
<rect x="198.24" y="63.03" width="5.15" height="5.15" fill="#8e477b"/>
<rect x="203.09" y="63.03" width="5.15" height="5.15" fill="#7f3a7d"/>
<rect x="207.94" y="63.03" width="5.15" height="5.15" fill="#714e95"/>
<rect x="212.79" y="63.03" width="5.15" height="5.15" fill="#f8030e"/>
<rect x="217.64" y="63.03" width="5.15" height="5.15" fill="#f9000b"/>
<rect x="222.48" y="63.03" width="5.15" height="5.15" fill="#f9000b"/>
<rect x="227.33" y="63.03" width="5.15" height="5.15" fill="#fb0406"/>
<rect x="232.18" y="63.03" width="5.15" height="5.15" fill="#f90101"/>
<rect x="237.03" y="63.03" width="5.15" height="5.15" fill="#ad2d6e"/>
<rect x="241.88" y="63.03" width="5.15" height="5.15" fill="#f60002"/>
<rect x="246.73" y="63.03" width="5.15" height="5.15" fill="#f8060d"/>
<rect x="251.58" y="63.03" width="5.15" height="5.15" fill="#f60402"/>
<rect x="256.42" y="63.03" width="5.15" height="5.15" fill="#3a8ff0"/>
<rect x="261.27" y="63.03" width="5.15" height="5.15" fill="#8a5aa8"/>
<rect x="266.12" y="63.03" width="5.15" height="5.15" fill="#000000"/>
<rect x="270.97" y="63.03" width="5.15" height="5.15" fill="#000000"/>
<rect x="275.82" y="63.03" width="5.15" height="5.15" fill="#000000"/>
<rect x="280.67" y="63.03" width="5.15" height="5.15" fill="#160e1e"/>
<rect x="285.52" y="63.03" width="5.15" height="5.15" fill="#000000"/>
<rect x="290.36" y="63.03" width="5.15" height="5.15" fill="#12224c"/>
<rect x="295.21" y="63.03" width="5.15" height="5.15" fill="#000000"/>
<rect x="300.06" y="63.03" width="5.15" height="5.15" fill="#102b56"/>
<rect x="304.91" y="63.03" width="5.15" height="5.15" fill="#000000"/>
<rect x="309.76" y="63.03" width="5.15" height="5.15" fill="#000000"/>
<rect x="314.61" y="63.03" width="5.15" height="5.15" fill="#000000"/>
<rect x="319.45" y="63.03" width="5.15" height="5.15" fill="#000000"/>
<rect x="324.30" y="63.03" width="5.15" height="5.15" fill="#380511"/>
<rect x="329.15" y="63.03" width="5.15" height="5.15" fill="#131f43"/>
<rect x="174.00" y="67.88" width="5.15" height="5.15" fill="#8e3d87"/>
<rect x="178.85" y="67.88" width="5.15" height="5.15" fill="#8b3f7b"/>
<rect x="183.70" y="67.88" width="5.15" height="5.15" fill="#8d4479"/>
<rect x="188.55" y="67.88" width="5.15" height="5.15" fill="#694c96"/>
<rect x="193.39" y="67.88" width="5.15" height="5.15" fill="#874180"/>
<rect x="198.24" y="67.88" width="5.15" height="5.15" fill="#8e4073"/>
<rect x="203.09" y="67.88" width="5.15" height="5.15" fill="#724ca1"/>
<rect x="207.94" y="67.88" width="5.15" height="5.15" fill="#c52454"/>
<rect x="212.79" y="67.88" width="5.15" height="5.15" fill="#8f4484"/>
<rect x="217.64" y="67.88" width="5.15" height="5.15" fill="#bc2b48"/>
<rect x="222.48" y="67.88" width="5.15" height="5.15" fill="#834685"/>
<rect x="227.33" y="67.88" width="5.15" height="5.15" fill="#c22a4b"/>
<rect x="232.18" y="67.88" width="5.15" height="5.15" fill="#fe0503"/>
<rect x="237.03" y="67.88" width="5.15" height="5.15" fill="#f90709"/>
<rect x="241.88" y="67.88" width="5.15" height="5.15" fill="#f80206"/>
<rect x="246.73" y="67.88" width="5.15" height="5.15" fill="#f70305"/>
<rect x="251.58" y="67.88" width="5.15" height="5.15" fill="#f70900"/>
<rect x="256.42" y="67.88" width="5.15" height="5.15" fill="#fe0507"/>
<rect x="261.27" y="67.88" width="5.15" height="5.15" fill="#fd0308"/>
<rect x="266.12" y="67.88" width="5.15" height="5.15" fill="#fc0405"/>
<rect x="270.97" y="67.88" width="5.15" height="5.15" fill="#f60301"/>
<rect x="275.82" y="67.88" width="5.15" height="5.15" fill="#3c0515"/>
<rect x="280.67" y="67.88" width="5.15" height="5.15" fill="#160e1e"/>
<rect x="285.52" y="67.88" width="5.15" height="5.15" fill="#000000"/>
<rect x="290.36" y="67.88" width="5.15" height="5.15" fill="#160e1e"/>
<rect x="295.21" y="67.88" width="5.15" height="5.15" fill="#000000"/>
<rect x="300.06" y="67.88" width="5.15" height="5.15" fill="#000000"/>
<rect x="304.91" y="67.88" width="5.15" height="5.15" fill="#000000"/>
<rect x="309.76" y="67.88" width="5.15" height="5.15" fill="#000000"/>
<rect x="314.61" y="67.88" width="5.15" height="5.15" fill="#000000"/>
<rect x="319.45" y="67.88" width="5.15" height="5.15" fill="#000000"/>
<rect x="324.30" y="67.88" width="5.15" height="5.15" fill="#340512"/>
<rect x="329.15" y="67.88" width="5.15" height="5.15" fill="#000000"/>
<rect x="174.00" y="72.73" width="5.15" height="5.15" fill="#b82a46"/>
<rect x="178.85" y="72.73" width="5.15" height="5.15" fill="#84427e"/>
<rect x="183.70" y="72.73" width="5.15" height="5.15" fill="#6449a5"/>
<rect x="188.55" y="72.73" width="5.15" height="5.15" fill="#c22c4f"/>
<rect x="193.39" y="72.73" width="5.15" height="5.15" fill="#bd2356"/>
<rect x="198.24" y="72.73" width="5.15" height="5.15" fill="#c22f51"/>
<rect x="203.09" y="72.73" width="5.15" height="5.15" fill="#884175"/>
<rect x="207.94" y="72.73" width="5.15" height="5.15" fill="#aa2149"/>
<rect x="212.79" y="72.73" width="5.15" height="5.15" fill="#bc2b49"/>
<rect x="217.64" y="72.73" width="5.15" height="5.15" fill="#8a447b"/>
<rect x="222.48" y="72.73" width="5.15" height="5.15" fill="#7f4489"/>
<rect x="227.33" y="72.73" width="5.15" height="5.15" fill="#88407c"/>
<rect x="232.18" y="72.73" width="5.15" height="5.15" fill="#bd2159"/>
<rect x="237.03" y="72.73" width="5.15" height="5.15" fill="#804888"/>
<rect x="241.88" y="72.73" width="5.15" height="5.15" fill="#bd2b53"/>
<rect x="246.73" y="72.73" width="5.15" height="5.15" fill="#f70b0d"/>
<rect x="251.58" y="72.73" width="5.15" height="5.15" fill="#aa2d69"/>
<rect x="256.42" y="72.73" width="5.15" height="5.15" fill="#fd0202"/>
<rect x="261.27" y="72.73" width="5.15" height="5.15" fill="#f60409"/>
<rect x="266.12" y="72.73" width="5.15" height="5.15" fill="#fd0b0e"/>
<rect x="270.97" y="72.73" width="5.15" height="5.15" fill="#fa0507"/>
<rect x="275.82" y="72.73" width="5.15" height="5.15" fill="#3a8ff0"/>
<rect x="280.67" y="72.73" width="5.15" height="5.15" fill="#fc0604"/>
<rect x="285.52" y="72.73" width="5.15" height="5.15" fill="#3c050c"/>
<rect x="290.36" y="72.73" width="5.15" height="5.15" fill="#000000"/>
<rect x="295.21" y="72.73" width="5.15" height="5.15" fill="#2d050d"/>
<rect x="300.06" y="72.73" width="5.15" height="5.15" fill="#000000"/>
<rect x="304.91" y="72.73" width="5.15" height="5.15" fill="#160e1e"/>
<rect x="309.76" y="72.73" width="5.15" height="5.15" fill="#2d050c"/>
<rect x="314.61" y="72.73" width="5.15" height="5.15" fill="#000000"/>
<rect x="319.45" y="72.73" width="5.15" height="5.15" fill="#000000"/>
<rect x="324.30" y="72.73" width="5.15" height="5.15" fill="#000000"/>
<rect x="329.15" y="72.73" width="5.15" height="5.15" fill="#000000"/>
<rect x="174.00" y="77.58" width="5.15" height="5.15" fill="#854785"/>
<rect x="178.85" y="77.58" width="5.15" height="5.15" fill="#c43058"/>
<rect x="183.70" y="77.58" width="5.15" height="5.15" fill="#5052b8"/>
<rect x="188.55" y="77.58" width="5.15" height="5.15" fill="#8e4478"/>
<rect x="193.39" y="77.58" width="5.15" height="5.15" fill="#c0224c"/>
<rect x="198.24" y="77.58" width="5.15" height="5.15" fill="#b12354"/>
<rect x="203.09" y="77.58" width="5.15" height="5.15" fill="#754ca6"/>
<rect x="207.94" y="77.58" width="5.15" height="5.15" fill="#b62655"/>
<rect x="212.79" y="77.58" width="5.15" height="5.15" fill="#883d86"/>
<rect x="217.64" y="77.58" width="5.15" height="5.15" fill="#813a76"/>
<rect x="222.48" y="77.58" width="5.15" height="5.15" fill="#7e417d"/>
<rect x="227.33" y="77.58" width="5.15" height="5.15" fill="#b82456"/>
<rect x="232.18" y="77.58" width="5.15" height="5.15" fill="#833d82"/>
<rect x="237.03" y="77.58" width="5.15" height="5.15" fill="#bd1f55"/>
<rect x="241.88" y="77.58" width="5.15" height="5.15" fill="#8a3f7b"/>
<rect x="246.73" y="77.58" width="5.15" height="5.15" fill="#7f4872"/>
<rect x="251.58" y="77.58" width="5.15" height="5.15" fill="#605caf"/>
<rect x="256.42" y="77.58" width="5.15" height="5.15" fill="#f9060b"/>
<rect x="261.27" y="77.58" width="5.15" height="5.15" fill="#fb0404"/>
<rect x="266.12" y="77.58" width="5.15" height="5.15" fill="#e61949"/>
<rect x="270.97" y="77.58" width="5.15" height="5.15" fill="#f6050b"/>
<rect x="275.82" y="77.58" width="5.15" height="5.15" fill="#f6050d"/>
<rect x="280.67" y="77.58" width="5.15" height="5.15" fill="#f6030a"/>
<rect x="285.52" y="77.58" width="5.15" height="5.15" fill="#f60103"/>
<rect x="290.36" y="77.58" width="5.15" height="5.15" fill="#fa0104"/>
<rect x="295.21" y="77.58" width="5.15" height="5.15" fill="#3a8ff0"/>
<rect x="300.06" y="77.58" width="5.15" height="5.15" fill="#000000"/>
<rect x="304.91" y="77.58" width="5.15" height="5.15" fill="#3d050d"/>
<rect x="309.76" y="77.58" width="5.15" height="5.15" fill="#30050f"/>
<rect x="314.61" y="77.58" width="5.15" height="5.15" fill="#160e1e"/>
<rect x="319.45" y="77.58" width="5.15" height="5.15" fill="#160e1e"/>
<rect x="324.30" y="77.58" width="5.15" height="5.15" fill="#122255"/>
<rect x="329.15" y="77.58" width="5.15" height="5.15" fill="#000000"/>
<rect x="174.00" y="82.42" width="5.15" height="5.15" fill="#863d89"/>
<rect x="178.85" y="82.42" width="5.15" height="5.15" fill="#b12c46"/>
<rect x="183.70" y="82.42" width="5.15" height="5.15" fill="#8c4381"/>
<rect x="188.55" y="82.42" width="5.15" height="5.15" fill="#8b4881"/>
<rect x="193.39" y="82.42" width="5.15" height="5.15" fill="#5154b0"/>
<rect x="198.24" y="82.42" width="5.15" height="5.15" fill="#8f3d7b"/>
<rect x="203.09" y="82.42" width="5.15" height="5.15" fill="#c32746"/>
<rect x="207.94" y="82.42" width="5.15" height="5.15" fill="#8b4787"/>
<rect x="212.79" y="82.42" width="5.15" height="5.15" fill="#c23048"/>
<rect x="217.64" y="82.42" width="5.15" height="5.15" fill="#5c65ab"/>
<rect x="222.48" y="82.42" width="5.15" height="5.15" fill="#873d7d"/>
<rect x="227.33" y="82.42" width="5.15" height="5.15" fill="#853f83"/>
<rect x="232.18" y="82.42" width="5.15" height="5.15" fill="#814288"/>
<rect x="237.03" y="82.42" width="5.15" height="5.15" fill="#8a3e7b"/>
<rect x="241.88" y="82.42" width="5.15" height="5.15" fill="#c52a53"/>
<rect x="246.73" y="82.42" width="5.15" height="5.15" fill="#b32659"/>
<rect x="251.58" y="82.42" width="5.15" height="5.15" fill="#914175"/>
<rect x="256.42" y="82.42" width="5.15" height="5.15" fill="#c12152"/>
<rect x="261.27" y="82.42" width="5.15" height="5.15" fill="#bd2e55"/>
<rect x="266.12" y="82.42" width="5.15" height="5.15" fill="#fc070b"/>
<rect x="270.97" y="82.42" width="5.15" height="5.15" fill="#fc020a"/>
<rect x="275.82" y="82.42" width="5.15" height="5.15" fill="#fe0807"/>
<rect x="280.67" y="82.42" width="5.15" height="5.15" fill="#fc0409"/>
<rect x="285.52" y="82.42" width="5.15" height="5.15" fill="#f90701"/>
<rect x="290.36" y="82.42" width="5.15" height="5.15" fill="#f60305"/>
<rect x="295.21" y="82.42" width="5.15" height="5.15" fill="#ac2d6d"/>
<rect x="300.06" y="82.42" width="5.15" height="5.15" fill="#fa0408"/>
<rect x="304.91" y="82.42" width="5.15" height="5.15" fill="#f70004"/>
<rect x="309.76" y="82.42" width="5.15" height="5.15" fill="#fa0a02"/>
<rect x="314.61" y="82.42" width="5.15" height="5.15" fill="#fc0206"/>
<rect x="319.45" y="82.42" width="5.15" height="5.15" fill="#000000"/>
<rect x="324.30" y="82.42" width="5.15" height="5.15" fill="#000000"/>
<rect x="329.15" y="82.42" width="5.15" height="5.15" fill="#000000"/>
<rect x="174.00" y="87.27" width="5.15" height="5.15" fill="#c52852"/>
<rect x="178.85" y="87.27" width="5.15" height="5.15" fill="#6645a6"/>
<rect x="183.70" y="87.27" width="5.15" height="5.15" fill="#ad2656"/>
<rect x="188.55" y="87.27" width="5.15" height="5.15" fill="#874882"/>
<rect x="193.39" y="87.27" width="5.15" height="5.15" fill="#5960ab"/>
<rect x="198.24" y="87.27" width="5.15" height="5.15" fill="#873e7d"/>
<rect x="203.09" y="87.27" width="5.15" height="5.15" fill="#8b3c7a"/>
<rect x="207.94" y="87.27" width="5.15" height="5.15" fill="#ab2c59"/>
<rect x="212.79" y="87.27" width="5.15" height="5.15" fill="#b82d48"/>
<rect x="217.64" y="87.27" width="5.15" height="5.15" fill="#6445a1"/>
<rect x="222.48" y="87.27" width="5.15" height="5.15" fill="#894878"/>
<rect x="227.33" y="87.27" width="5.15" height="5.15" fill="#4f57af"/>
<rect x="232.18" y="87.27" width="5.15" height="5.15" fill="#75519a"/>
<rect x="237.03" y="87.27" width="5.15" height="5.15" fill="#803d83"/>
<rect x="241.88" y="87.27" width="5.15" height="5.15" fill="#7f497b"/>
<rect x="246.73" y="87.27" width="5.15" height="5.15" fill="#6d4a94"/>
<rect x="251.58" y="87.27" width="5.15" height="5.15" fill="#874673"/>
<rect x="256.42" y="87.27" width="5.15" height="5.15" fill="#853c82"/>
<rect x="261.27" y="87.27" width="5.15" height="5.15" fill="#7f3a81"/>
<rect x="266.12" y="87.27" width="5.15" height="5.15" fill="#bd2f4e"/>
<rect x="270.97" y="87.27" width="5.15" height="5.15" fill="#7e4775"/>
<rect x="275.82" y="87.27" width="5.15" height="5.15" fill="#fd0200"/>
<rect x="280.67" y="87.27" width="5.15" height="5.15" fill="#ac2d75"/>
<rect x="285.52" y="87.27" width="5.15" height="5.15" fill="#f9060c"/>
<rect x="290.36" y="87.27" width="5.15" height="5.15" fill="#f90806"/>
<rect x="295.21" y="87.27" width="5.15" height="5.15" fill="#b12d75"/>
<rect x="300.06" y="87.27" width="5.15" height="5.15" fill="#fb010b"/>
<rect x="304.91" y="87.27" width="5.15" height="5.15" fill="#f5050d"/>
<rect x="309.76" y="87.27" width="5.15" height="5.15" fill="#f9000a"/>
<rect x="314.61" y="87.27" width="5.15" height="5.15" fill="#fd0201"/>
<rect x="319.45" y="87.27" width="5.15" height="5.15" fill="#f70606"/>
<rect x="324.30" y="87.27" width="5.15" height="5.15" fill="#fe040b"/>
<rect x="329.15" y="87.27" width="5.15" height="5.15" fill="#f60904"/>
<rect x="174.00" y="92.12" width="5.15" height="5.15" fill="#6f52a7"/>
<rect x="178.85" y="92.12" width="5.15" height="5.15" fill="#ab2f53"/>
<rect x="183.70" y="92.12" width="5.15" height="5.15" fill="#684da8"/>
<rect x="188.55" y="92.12" width="5.15" height="5.15" fill="#844983"/>
<rect x="193.39" y="92.12" width="5.15" height="5.15" fill="#6154bb"/>
<rect x="198.24" y="92.12" width="5.15" height="5.15" fill="#87467c"/>
<rect x="203.09" y="92.12" width="5.15" height="5.15" fill="#843e80"/>
<rect x="207.94" y="92.12" width="5.15" height="5.15" fill="#894783"/>
<rect x="212.79" y="92.12" width="5.15" height="5.15" fill="#c22959"/>
<rect x="217.64" y="92.12" width="5.15" height="5.15" fill="#695097"/>
<rect x="222.48" y="92.12" width="5.15" height="5.15" fill="#843e75"/>
<rect x="227.33" y="92.12" width="5.15" height="5.15" fill="#8d3e75"/>
<rect x="232.18" y="92.12" width="5.15" height="5.15" fill="#804985"/>
<rect x="237.03" y="92.12" width="5.15" height="5.15" fill="#87427e"/>
<rect x="241.88" y="92.12" width="5.15" height="5.15" fill="#714fa9"/>
<rect x="246.73" y="92.12" width="5.15" height="5.15" fill="#b52c58"/>
<rect x="251.58" y="92.12" width="5.15" height="5.15" fill="#b52850"/>
<rect x="256.42" y="92.12" width="5.15" height="5.15" fill="#b5284b"/>
<rect x="261.27" y="92.12" width="5.15" height="5.15" fill="#6c4797"/>
<rect x="266.12" y="92.12" width="5.15" height="5.15" fill="#83437a"/>
<rect x="270.97" y="92.12" width="5.15" height="5.15" fill="#82487d"/>
<rect x="275.82" y="92.12" width="5.15" height="5.15" fill="#6b4599"/>
<rect x="280.67" y="92.12" width="5.15" height="5.15" fill="#5a53ac"/>
<rect x="285.52" y="92.12" width="5.15" height="5.15" fill="#fa020d"/>
<rect x="290.36" y="92.12" width="5.15" height="5.15" fill="#f50508"/>
<rect x="295.21" y="92.12" width="5.15" height="5.15" fill="#f60a05"/>
<rect x="300.06" y="92.12" width="5.15" height="5.15" fill="#f80000"/>
<rect x="304.91" y="92.12" width="5.15" height="5.15" fill="#fc050c"/>
<rect x="309.76" y="92.12" width="5.15" height="5.15" fill="#fd070d"/>
<rect x="314.61" y="92.12" width="5.15" height="5.15" fill="#f50303"/>
<rect x="319.45" y="92.12" width="5.15" height="5.15" fill="#ba2d73"/>
<rect x="324.30" y="92.12" width="5.15" height="5.15" fill="#e61943"/>
<rect x="329.15" y="92.12" width="5.15" height="5.15" fill="#fc020e"/>
<rect x="174.00" y="96.97" width="5.15" height="5.15" fill="#ba1e58"/>
<rect x="178.85" y="96.97" width="5.15" height="5.15" fill="#70509d"/>
<rect x="183.70" y="96.97" width="5.15" height="5.15" fill="#6247a3"/>
<rect x="188.55" y="96.97" width="5.15" height="5.15" fill="#6f4b9a"/>
<rect x="193.39" y="96.97" width="5.15" height="5.15" fill="#694ba5"/>
<rect x="198.24" y="96.97" width="5.15" height="5.15" fill="#874885"/>
<rect x="203.09" y="96.97" width="5.15" height="5.15" fill="#7f437a"/>
<rect x="207.94" y="96.97" width="5.15" height="5.15" fill="#91487b"/>
<rect x="212.79" y="96.97" width="5.15" height="5.15" fill="#c7244a"/>
<rect x="217.64" y="96.97" width="5.15" height="5.15" fill="#684f96"/>
<rect x="222.48" y="96.97" width="5.15" height="5.15" fill="#863c7c"/>
<rect x="227.33" y="96.97" width="5.15" height="5.15" fill="#bb2356"/>
<rect x="232.18" y="96.97" width="5.15" height="5.15" fill="#b72749"/>
<rect x="237.03" y="96.97" width="5.15" height="5.15" fill="#8d487f"/>
<rect x="241.88" y="96.97" width="5.15" height="5.15" fill="#c0314e"/>
<rect x="246.73" y="96.97" width="5.15" height="5.15" fill="#5259b0"/>
<rect x="251.58" y="96.97" width="5.15" height="5.15" fill="#913c81"/>
<rect x="256.42" y="96.97" width="5.15" height="5.15" fill="#884184"/>
<rect x="261.27" y="96.97" width="5.15" height="5.15" fill="#69449b"/>
<rect x="266.12" y="96.97" width="5.15" height="5.15" fill="#c3284a"/>
<rect x="270.97" y="96.97" width="5.15" height="5.15" fill="#8e4883"/>
<rect x="275.82" y="96.97" width="5.15" height="5.15" fill="#ae2b52"/>
<rect x="280.67" y="96.97" width="5.15" height="5.15" fill="#624f9e"/>
<rect x="285.52" y="96.97" width="5.15" height="5.15" fill="#883f78"/>
<rect x="290.36" y="96.97" width="5.15" height="5.15" fill="#7f4084"/>
<rect x="295.21" y="96.97" width="5.15" height="5.15" fill="#824389"/>
<rect x="300.06" y="96.97" width="5.15" height="5.15" fill="#89477a"/>
<rect x="304.91" y="96.97" width="5.15" height="5.15" fill="#f50403"/>
<rect x="309.76" y="96.97" width="5.15" height="5.15" fill="#fe090d"/>
<rect x="314.61" y="96.97" width="5.15" height="5.15" fill="#fd0301"/>
<rect x="319.45" y="96.97" width="5.15" height="5.15" fill="#f9000c"/>
<rect x="324.30" y="96.97" width="5.15" height="5.15" fill="#d4193d"/>
<rect x="329.15" y="96.97" width="5.15" height="5.15" fill="#f60308"/>
<rect x="174.00" y="101.82" width="5.15" height="5.15" fill="#c52c4b"/>
<rect x="178.85" y="101.82" width="5.15" height="5.15" fill="#873d7c"/>
<rect x="183.70" y="101.82" width="5.15" height="5.15" fill="#5157b1"/>
<rect x="188.55" y="101.82" width="5.15" height="5.15" fill="#803b87"/>
<rect x="193.39" y="101.82" width="5.15" height="5.15" fill="#525fb1"/>
<rect x="198.24" y="101.82" width="5.15" height="5.15" fill="#7e4482"/>
<rect x="203.09" y="101.82" width="5.15" height="5.15" fill="#7e4973"/>
<rect x="207.94" y="101.82" width="5.15" height="5.15" fill="#724fa6"/>
<rect x="212.79" y="101.82" width="5.15" height="5.15" fill="#84407f"/>
<rect x="217.64" y="101.82" width="5.15" height="5.15" fill="#5b59b9"/>
<rect x="222.48" y="101.82" width="5.15" height="5.15" fill="#ad214c"/>
<rect x="227.33" y="101.82" width="5.15" height="5.15" fill="#82407b"/>
<rect x="232.18" y="101.82" width="5.15" height="5.15" fill="#6253a9"/>
<rect x="237.03" y="101.82" width="5.15" height="5.15" fill="#8a4880"/>
<rect x="241.88" y="101.82" width="5.15" height="5.15" fill="#7e3b74"/>
<rect x="246.73" y="101.82" width="5.15" height="5.15" fill="#4e54ae"/>
<rect x="251.58" y="101.82" width="5.15" height="5.15" fill="#c63058"/>
<rect x="256.42" y="101.82" width="5.15" height="5.15" fill="#90417e"/>
<rect x="261.27" y="101.82" width="5.15" height="5.15" fill="#893e83"/>
<rect x="266.12" y="101.82" width="5.15" height="5.15" fill="#6b4f97"/>
<rect x="270.97" y="101.82" width="5.15" height="5.15" fill="#854879"/>
<rect x="275.82" y="101.82" width="5.15" height="5.15" fill="#7e3f76"/>
<rect x="280.67" y="101.82" width="5.15" height="5.15" fill="#854875"/>
<rect x="285.52" y="101.82" width="5.15" height="5.15" fill="#6848a7"/>
<rect x="290.36" y="101.82" width="5.15" height="5.15" fill="#aa2952"/>
<rect x="295.21" y="101.82" width="5.15" height="5.15" fill="#88477a"/>
<rect x="300.06" y="101.82" width="5.15" height="5.15" fill="#914488"/>
<rect x="304.91" y="101.82" width="5.15" height="5.15" fill="#803d80"/>
<rect x="309.76" y="101.82" width="5.15" height="5.15" fill="#7f4788"/>
<rect x="314.61" y="101.82" width="5.15" height="5.15" fill="#5a5eb6"/>
<rect x="319.45" y="101.82" width="5.15" height="5.15" fill="#b62848"/>
<rect x="324.30" y="101.82" width="5.15" height="5.15" fill="#804778"/>
<rect x="329.15" y="101.82" width="5.15" height="5.15" fill="#e61949"/>
<rect x="174.00" y="106.67" width="5.15" height="5.15" fill="#694ca0"/>
<rect x="178.85" y="106.67" width="5.15" height="5.15" fill="#c0314d"/>
<rect x="183.70" y="106.67" width="5.15" height="5.15" fill="#8e407b"/>
<rect x="188.55" y="106.67" width="5.15" height="5.15" fill="#844980"/>
<rect x="193.39" y="106.67" width="5.15" height="5.15" fill="#7552a8"/>
<rect x="198.24" y="106.67" width="5.15" height="5.15" fill="#73489e"/>
<rect x="203.09" y="106.67" width="5.15" height="5.15" fill="#864783"/>
<rect x="207.94" y="106.67" width="5.15" height="5.15" fill="#624e9c"/>
<rect x="212.79" y="106.67" width="5.15" height="5.15" fill="#b02650"/>
<rect x="217.64" y="106.67" width="5.15" height="5.15" fill="#813d7c"/>
<rect x="222.48" y="106.67" width="5.15" height="5.15" fill="#8f4382"/>
<rect x="227.33" y="106.67" width="5.15" height="5.15" fill="#b42547"/>
<rect x="232.18" y="106.67" width="5.15" height="5.15" fill="#5b57ae"/>
<rect x="237.03" y="106.67" width="5.15" height="5.15" fill="#91447e"/>
<rect x="241.88" y="106.67" width="5.15" height="5.15" fill="#5f5aa9"/>
<rect x="246.73" y="106.67" width="5.15" height="5.15" fill="#bb2a54"/>
<rect x="251.58" y="106.67" width="5.15" height="5.15" fill="#aa2c51"/>
<rect x="256.42" y="106.67" width="5.15" height="5.15" fill="#634492"/>
<rect x="261.27" y="106.67" width="5.15" height="5.15" fill="#894787"/>
<rect x="266.12" y="106.67" width="5.15" height="5.15" fill="#af2a48"/>
<rect x="270.97" y="106.67" width="5.15" height="5.15" fill="#7e3b88"/>
<rect x="275.82" y="106.67" width="5.15" height="5.15" fill="#6a50a1"/>
<rect x="280.67" y="106.67" width="5.15" height="5.15" fill="#803d78"/>
<rect x="285.52" y="106.67" width="5.15" height="5.15" fill="#8f4973"/>
<rect x="290.36" y="106.67" width="5.15" height="5.15" fill="#7e3d7b"/>
<rect x="295.21" y="106.67" width="5.15" height="5.15" fill="#ab224a"/>
<rect x="300.06" y="106.67" width="5.15" height="5.15" fill="#813a86"/>
<rect x="304.91" y="106.67" width="5.15" height="5.15" fill="#6752a9"/>
<rect x="309.76" y="106.67" width="5.15" height="5.15" fill="#8b437b"/>
<rect x="314.61" y="106.67" width="5.15" height="5.15" fill="#7e4774"/>
<rect x="319.45" y="106.67" width="5.15" height="5.15" fill="#62529b"/>
<rect x="324.30" y="106.67" width="5.15" height="5.15" fill="#7349a1"/>
<rect x="329.15" y="106.67" width="5.15" height="5.15" fill="#744c9b"/>
<rect x="174.00" y="111.52" width="5.15" height="5.15" fill="#6a4892"/>
<rect x="178.85" y="111.52" width="5.15" height="5.15" fill="#64479f"/>
<rect x="183.70" y="111.52" width="5.15" height="5.15" fill="#874677"/>
<rect x="188.55" y="111.52" width="5.15" height="5.15" fill="#565eb3"/>
<rect x="193.39" y="111.52" width="5.15" height="5.15" fill="#6651a2"/>
<rect x="198.24" y="111.52" width="5.15" height="5.15" fill="#894189"/>
<rect x="203.09" y="111.52" width="5.15" height="5.15" fill="#6c46a4"/>
<rect x="207.94" y="111.52" width="5.15" height="5.15" fill="#c32c55"/>
<rect x="212.79" y="111.52" width="5.15" height="5.15" fill="#803a83"/>
<rect x="217.64" y="111.52" width="5.15" height="5.15" fill="#823d87"/>
<rect x="222.48" y="111.52" width="5.15" height="5.15" fill="#8e4676"/>
<rect x="227.33" y="111.52" width="5.15" height="5.15" fill="#b22e4d"/>
<rect x="232.18" y="111.52" width="5.15" height="5.15" fill="#874481"/>
<rect x="237.03" y="111.52" width="5.15" height="5.15" fill="#813f85"/>
<rect x="241.88" y="111.52" width="5.15" height="5.15" fill="#7e457d"/>
<rect x="246.73" y="111.52" width="5.15" height="5.15" fill="#744598"/>
<rect x="251.58" y="111.52" width="5.15" height="5.15" fill="#82447b"/>
<rect x="256.42" y="111.52" width="5.15" height="5.15" fill="#7146a3"/>
<rect x="261.27" y="111.52" width="5.15" height="5.15" fill="#904377"/>
<rect x="266.12" y="111.52" width="5.15" height="5.15" fill="#90447f"/>
<rect x="270.97" y="111.52" width="5.15" height="5.15" fill="#c02b58"/>
<rect x="275.82" y="111.52" width="5.15" height="5.15" fill="#8b4982"/>
<rect x="280.67" y="111.52" width="5.15" height="5.15" fill="#7149a7"/>
<rect x="285.52" y="111.52" width="5.15" height="5.15" fill="#914377"/>
<rect x="290.36" y="111.52" width="5.15" height="5.15" fill="#744b9a"/>
<rect x="295.21" y="111.52" width="5.15" height="5.15" fill="#8e447e"/>
<rect x="300.06" y="111.52" width="5.15" height="5.15" fill="#5b62b7"/>
<rect x="304.91" y="111.52" width="5.15" height="5.15" fill="#c62e51"/>
<rect x="309.76" y="111.52" width="5.15" height="5.15" fill="#c1224b"/>
<rect x="314.61" y="111.52" width="5.15" height="5.15" fill="#b41f52"/>
<rect x="319.45" y="111.52" width="5.15" height="5.15" fill="#874182"/>
<rect x="324.30" y="111.52" width="5.15" height="5.15" fill="#804482"/>
<rect x="329.15" y="111.52" width="5.15" height="5.15" fill="#893d81"/>
<rect x="174.00" y="116.36" width="5.15" height="5.15" fill="#744e95"/>
<rect x="178.85" y="116.36" width="5.15" height="5.15" fill="#863d82"/>
<rect x="183.70" y="116.36" width="5.15" height="5.15" fill="#625299"/>
<rect x="188.55" y="116.36" width="5.15" height="5.15" fill="#75469c"/>
<rect x="193.39" y="116.36" width="5.15" height="5.15" fill="#6d449d"/>
<rect x="198.24" y="116.36" width="5.15" height="5.15" fill="#7049a3"/>
<rect x="203.09" y="116.36" width="5.15" height="5.15" fill="#914184"/>
<rect x="207.94" y="116.36" width="5.15" height="5.15" fill="#6348a0"/>
<rect x="212.79" y="116.36" width="5.15" height="5.15" fill="#8b3b83"/>
<rect x="217.64" y="116.36" width="5.15" height="5.15" fill="#6449a9"/>
<rect x="222.48" y="116.36" width="5.15" height="5.15" fill="#8b3b83"/>
<rect x="227.33" y="116.36" width="5.15" height="5.15" fill="#85447a"/>
<rect x="232.18" y="116.36" width="5.15" height="5.15" fill="#6062ad"/>
<rect x="237.03" y="116.36" width="5.15" height="5.15" fill="#c23059"/>
<rect x="241.88" y="116.36" width="5.15" height="5.15" fill="#b02654"/>
<rect x="246.73" y="116.36" width="5.15" height="5.15" fill="#8a3c77"/>
<rect x="251.58" y="116.36" width="5.15" height="5.15" fill="#864986"/>
<rect x="256.42" y="116.36" width="5.15" height="5.15" fill="#5552b4"/>
<rect x="261.27" y="116.36" width="5.15" height="5.15" fill="#803b73"/>
<rect x="266.12" y="116.36" width="5.15" height="5.15" fill="#7f3a88"/>
<rect x="270.97" y="116.36" width="5.15" height="5.15" fill="#853a85"/>
<rect x="275.82" y="116.36" width="5.15" height="5.15" fill="#87427e"/>
<rect x="280.67" y="116.36" width="5.15" height="5.15" fill="#8a3c7b"/>
<rect x="285.52" y="116.36" width="5.15" height="5.15" fill="#c22c4c"/>
<rect x="290.36" y="116.36" width="5.15" height="5.15" fill="#863f81"/>
<rect x="295.21" y="116.36" width="5.15" height="5.15" fill="#884486"/>
<rect x="300.06" y="116.36" width="5.15" height="5.15" fill="#8b3c7f"/>
<rect x="304.91" y="116.36" width="5.15" height="5.15" fill="#853d7c"/>
<rect x="309.76" y="116.36" width="5.15" height="5.15" fill="#6156b6"/>
<rect x="314.61" y="116.36" width="5.15" height="5.15" fill="#8a3d82"/>
<rect x="319.45" y="116.36" width="5.15" height="5.15" fill="#575cb5"/>
<rect x="324.30" y="116.36" width="5.15" height="5.15" fill="#894782"/>
<rect x="329.15" y="116.36" width="5.15" height="5.15" fill="#b92856"/>
<rect x="174.00" y="121.21" width="5.15" height="5.15" fill="#91427d"/>
<rect x="178.85" y="121.21" width="5.15" height="5.15" fill="#913d7d"/>
<rect x="183.70" y="121.21" width="5.15" height="5.15" fill="#6e4a93"/>
<rect x="188.55" y="121.21" width="5.15" height="5.15" fill="#914174"/>
<rect x="193.39" y="121.21" width="5.15" height="5.15" fill="#7f4976"/>
<rect x="198.24" y="121.21" width="5.15" height="5.15" fill="#853f86"/>
<rect x="203.09" y="121.21" width="5.15" height="5.15" fill="#7e3e77"/>
<rect x="207.94" y="121.21" width="5.15" height="5.15" fill="#694ba5"/>
<rect x="212.79" y="121.21" width="5.15" height="5.15" fill="#684d92"/>
<rect x="217.64" y="121.21" width="5.15" height="5.15" fill="#694f92"/>
<rect x="222.48" y="121.21" width="5.15" height="5.15" fill="#714b93"/>
<rect x="227.33" y="121.21" width="5.15" height="5.15" fill="#6063b5"/>
<rect x="232.18" y="121.21" width="5.15" height="5.15" fill="#834984"/>
<rect x="237.03" y="121.21" width="5.15" height="5.15" fill="#62539d"/>
<rect x="241.88" y="121.21" width="5.15" height="5.15" fill="#c31f52"/>
<rect x="246.73" y="121.21" width="5.15" height="5.15" fill="#8e4982"/>
<rect x="251.58" y="121.21" width="5.15" height="5.15" fill="#615caf"/>
<rect x="256.42" y="121.21" width="5.15" height="5.15" fill="#644d97"/>
<rect x="261.27" y="121.21" width="5.15" height="5.15" fill="#844188"/>
<rect x="266.12" y="121.21" width="5.15" height="5.15" fill="#6b4797"/>
<rect x="270.97" y="121.21" width="5.15" height="5.15" fill="#8a4575"/>
<rect x="275.82" y="121.21" width="5.15" height="5.15" fill="#c72551"/>
<rect x="280.67" y="121.21" width="5.15" height="5.15" fill="#be3058"/>
<rect x="285.52" y="121.21" width="5.15" height="5.15" fill="#565da9"/>
<rect x="290.36" y="121.21" width="5.15" height="5.15" fill="#824675"/>
<rect x="295.21" y="121.21" width="5.15" height="5.15" fill="#843f86"/>
<rect x="300.06" y="121.21" width="5.15" height="5.15" fill="#8c3f82"/>
<rect x="304.91" y="121.21" width="5.15" height="5.15" fill="#8d4287"/>
<rect x="309.76" y="121.21" width="5.15" height="5.15" fill="#813d87"/>
<rect x="314.61" y="121.21" width="5.15" height="5.15" fill="#6950a8"/>
<rect x="319.45" y="121.21" width="5.15" height="5.15" fill="#bf2351"/>
<rect x="324.30" y="121.21" width="5.15" height="5.15" fill="#7f3d88"/>
<rect x="329.15" y="121.21" width="5.15" height="5.15" fill="#694ba9"/>
<rect x="174.00" y="126.06" width="5.15" height="5.15" fill="#904779"/>
<rect x="178.85" y="126.06" width="5.15" height="5.15" fill="#884681"/>
<rect x="183.70" y="126.06" width="5.15" height="5.15" fill="#ab2657"/>
<rect x="188.55" y="126.06" width="5.15" height="5.15" fill="#634793"/>
<rect x="193.39" y="126.06" width="5.15" height="5.15" fill="#ac2e51"/>
<rect x="198.24" y="126.06" width="5.15" height="5.15" fill="#b22a46"/>
<rect x="203.09" y="126.06" width="5.15" height="5.15" fill="#b32f46"/>
<rect x="207.94" y="126.06" width="5.15" height="5.15" fill="#8e3c86"/>
<rect x="212.79" y="126.06" width="5.15" height="5.15" fill="#bc2d59"/>
<rect x="217.64" y="126.06" width="5.15" height="5.15" fill="#8f3a79"/>
<rect x="222.48" y="126.06" width="5.15" height="5.15" fill="#6a4fa6"/>
<rect x="227.33" y="126.06" width="5.15" height="5.15" fill="#b02856"/>
<rect x="232.18" y="126.06" width="5.15" height="5.15" fill="#684ea6"/>
<rect x="237.03" y="126.06" width="5.15" height="5.15" fill="#893d80"/>
<rect x="241.88" y="126.06" width="5.15" height="5.15" fill="#624ea1"/>
<rect x="246.73" y="126.06" width="5.15" height="5.15" fill="#893f7e"/>
<rect x="251.58" y="126.06" width="5.15" height="5.15" fill="#6d45a5"/>
<rect x="256.42" y="126.06" width="5.15" height="5.15" fill="#5a5abb"/>
<rect x="261.27" y="126.06" width="5.15" height="5.15" fill="#804276"/>
<rect x="266.12" y="126.06" width="5.15" height="5.15" fill="#6e4fa7"/>
<rect x="270.97" y="126.06" width="5.15" height="5.15" fill="#8d427a"/>
<rect x="275.82" y="126.06" width="5.15" height="5.15" fill="#7347a7"/>
<rect x="280.67" y="126.06" width="5.15" height="5.15" fill="#665092"/>
<rect x="285.52" y="126.06" width="5.15" height="5.15" fill="#c23053"/>
<rect x="290.36" y="126.06" width="5.15" height="5.15" fill="#5564af"/>
<rect x="295.21" y="126.06" width="5.15" height="5.15" fill="#7e3a83"/>
<rect x="300.06" y="126.06" width="5.15" height="5.15" fill="#684a98"/>
<rect x="304.91" y="126.06" width="5.15" height="5.15" fill="#91467d"/>
<rect x="309.76" y="126.06" width="5.15" height="5.15" fill="#913c79"/>
<rect x="314.61" y="126.06" width="5.15" height="5.15" fill="#c4224c"/>
<rect x="319.45" y="126.06" width="5.15" height="5.15" fill="#823a84"/>
<rect x="324.30" y="126.06" width="5.15" height="5.15" fill="#7e467c"/>
<rect x="329.15" y="126.06" width="5.15" height="5.15" fill="#c62b56"/>
<rect x="174.00" y="130.91" width="5.15" height="5.15" fill="#803e7e"/>
<rect x="178.85" y="130.91" width="5.15" height="5.15" fill="#87407b"/>
<rect x="183.70" y="130.91" width="5.15" height="5.15" fill="#853f87"/>
<rect x="188.55" y="130.91" width="5.15" height="5.15" fill="#5a52aa"/>
<rect x="193.39" y="130.91" width="5.15" height="5.15" fill="#8b4573"/>
<rect x="198.24" y="130.91" width="5.15" height="5.15" fill="#ad3159"/>
<rect x="203.09" y="130.91" width="5.15" height="5.15" fill="#b02852"/>
<rect x="207.94" y="130.91" width="5.15" height="5.15" fill="#884788"/>
<rect x="212.79" y="130.91" width="5.15" height="5.15" fill="#8f4977"/>
<rect x="217.64" y="130.91" width="5.15" height="5.15" fill="#7e3e89"/>
<rect x="222.48" y="130.91" width="5.15" height="5.15" fill="#c1314b"/>
<rect x="227.33" y="130.91" width="5.15" height="5.15" fill="#b7234c"/>
<rect x="232.18" y="130.91" width="5.15" height="5.15" fill="#8c3e7c"/>
<rect x="237.03" y="130.91" width="5.15" height="5.15" fill="#6550a7"/>
<rect x="241.88" y="130.91" width="5.15" height="5.15" fill="#8a3d7e"/>
<rect x="246.73" y="130.91" width="5.15" height="5.15" fill="#8c4985"/>
<rect x="251.58" y="130.91" width="5.15" height="5.15" fill="#bc1e54"/>
<rect x="256.42" y="130.91" width="5.15" height="5.15" fill="#8b4182"/>
<rect x="261.27" y="130.91" width="5.15" height="5.15" fill="#87447d"/>
<rect x="266.12" y="130.91" width="5.15" height="5.15" fill="#854784"/>
<rect x="270.97" y="130.91" width="5.15" height="5.15" fill="#635398"/>
<rect x="275.82" y="130.91" width="5.15" height="5.15" fill="#7f4681"/>
<rect x="280.67" y="130.91" width="5.15" height="5.15" fill="#834786"/>
<rect x="285.52" y="130.91" width="5.15" height="5.15" fill="#894973"/>
<rect x="290.36" y="130.91" width="5.15" height="5.15" fill="#66469a"/>
<rect x="295.21" y="130.91" width="5.15" height="5.15" fill="#5b55ba"/>
<rect x="300.06" y="130.91" width="5.15" height="5.15" fill="#903f7a"/>
<rect x="304.91" y="130.91" width="5.15" height="5.15" fill="#6a4f9b"/>
<rect x="309.76" y="130.91" width="5.15" height="5.15" fill="#883e81"/>
<rect x="314.61" y="130.91" width="5.15" height="5.15" fill="#6a45a1"/>
<rect x="319.45" y="130.91" width="5.15" height="5.15" fill="#5852aa"/>
<rect x="324.30" y="130.91" width="5.15" height="5.15" fill="#8a4285"/>
<rect x="329.15" y="130.91" width="5.15" height="5.15" fill="#7e3e80"/>
<rect x="174.00" y="135.76" width="5.15" height="5.15" fill="#903e78"/>
<rect x="178.85" y="135.76" width="5.15" height="5.15" fill="#6b4595"/>
<rect x="183.70" y="135.76" width="5.15" height="5.15" fill="#7152a3"/>
<rect x="188.55" y="135.76" width="5.15" height="5.15" fill="#c0314e"/>
<rect x="193.39" y="135.76" width="5.15" height="5.15" fill="#665195"/>
<rect x="198.24" y="135.76" width="5.15" height="5.15" fill="#8f4373"/>
<rect x="203.09" y="135.76" width="5.15" height="5.15" fill="#7f417b"/>
<rect x="207.94" y="135.76" width="5.15" height="5.15" fill="#8a4674"/>
<rect x="212.79" y="135.76" width="5.15" height="5.15" fill="#8c4089"/>
<rect x="217.64" y="135.76" width="5.15" height="5.15" fill="#b52055"/>
<rect x="222.48" y="135.76" width="5.15" height="5.15" fill="#664ca8"/>
<rect x="227.33" y="135.76" width="5.15" height="5.15" fill="#694b94"/>
<rect x="232.18" y="135.76" width="5.15" height="5.15" fill="#7e4186"/>
<rect x="237.03" y="135.76" width="5.15" height="5.15" fill="#72479a"/>
<rect x="241.88" y="135.76" width="5.15" height="5.15" fill="#8c4775"/>
<rect x="246.73" y="135.76" width="5.15" height="5.15" fill="#bc2449"/>
<rect x="251.58" y="135.76" width="5.15" height="5.15" fill="#585ca9"/>
<rect x="256.42" y="135.76" width="5.15" height="5.15" fill="#834087"/>
<rect x="261.27" y="135.76" width="5.15" height="5.15" fill="#664a9c"/>
<rect x="266.12" y="135.76" width="5.15" height="5.15" fill="#6447a1"/>
<rect x="270.97" y="135.76" width="5.15" height="5.15" fill="#8c3c88"/>
<rect x="275.82" y="135.76" width="5.15" height="5.15" fill="#704ea3"/>
<rect x="280.67" y="135.76" width="5.15" height="5.15" fill="#c62e46"/>
<rect x="285.52" y="135.76" width="5.15" height="5.15" fill="#6647a9"/>
<rect x="290.36" y="135.76" width="5.15" height="5.15" fill="#704796"/>
<rect x="295.21" y="135.76" width="5.15" height="5.15" fill="#803c87"/>
<rect x="300.06" y="135.76" width="5.15" height="5.15" fill="#624fa3"/>
<rect x="304.91" y="135.76" width="5.15" height="5.15" fill="#5c60b8"/>
<rect x="309.76" y="135.76" width="5.15" height="5.15" fill="#5d60b2"/>
<rect x="314.61" y="135.76" width="5.15" height="5.15" fill="#4f53ac"/>
<rect x="319.45" y="135.76" width="5.15" height="5.15" fill="#864086"/>
<rect x="324.30" y="135.76" width="5.15" height="5.15" fill="#ae2655"/>
<rect x="329.15" y="135.76" width="5.15" height="5.15" fill="#8c4579"/>
<rect x="174.00" y="140.61" width="5.15" height="5.15" fill="#824981"/>
<rect x="178.85" y="140.61" width="5.15" height="5.15" fill="#843c78"/>
<rect x="183.70" y="140.61" width="5.15" height="5.15" fill="#813c76"/>
<rect x="188.55" y="140.61" width="5.15" height="5.15" fill="#6249a1"/>
<rect x="193.39" y="140.61" width="5.15" height="5.15" fill="#883b7d"/>
<rect x="198.24" y="140.61" width="5.15" height="5.15" fill="#8f4876"/>
<rect x="203.09" y="140.61" width="5.15" height="5.15" fill="#6d5096"/>
<rect x="207.94" y="140.61" width="5.15" height="5.15" fill="#8d487f"/>
<rect x="212.79" y="140.61" width="5.15" height="5.15" fill="#803a76"/>
<rect x="217.64" y="140.61" width="5.15" height="5.15" fill="#65499d"/>
<rect x="222.48" y="140.61" width="5.15" height="5.15" fill="#6451a5"/>
<rect x="227.33" y="140.61" width="5.15" height="5.15" fill="#704595"/>
<rect x="232.18" y="140.61" width="5.15" height="5.15" fill="#ab294e"/>
<rect x="237.03" y="140.61" width="5.15" height="5.15" fill="#7245a3"/>
<rect x="241.88" y="140.61" width="5.15" height="5.15" fill="#6f4592"/>
<rect x="246.73" y="140.61" width="5.15" height="5.15" fill="#843e74"/>
<rect x="251.58" y="140.61" width="5.15" height="5.15" fill="#535cae"/>
<rect x="256.42" y="140.61" width="5.15" height="5.15" fill="#7e3e88"/>
<rect x="261.27" y="140.61" width="5.15" height="5.15" fill="#914883"/>
<rect x="266.12" y="140.61" width="5.15" height="5.15" fill="#634593"/>
<rect x="270.97" y="140.61" width="5.15" height="5.15" fill="#824574"/>
<rect x="275.82" y="140.61" width="5.15" height="5.15" fill="#914080"/>
<rect x="280.67" y="140.61" width="5.15" height="5.15" fill="#804477"/>
<rect x="285.52" y="140.61" width="5.15" height="5.15" fill="#884785"/>
<rect x="290.36" y="140.61" width="5.15" height="5.15" fill="#6347a4"/>
<rect x="295.21" y="140.61" width="5.15" height="5.15" fill="#6350a0"/>
<rect x="300.06" y="140.61" width="5.15" height="5.15" fill="#745092"/>
<rect x="304.91" y="140.61" width="5.15" height="5.15" fill="#5855b7"/>
<rect x="309.76" y="140.61" width="5.15" height="5.15" fill="#605fb6"/>
<rect x="314.61" y="140.61" width="5.15" height="5.15" fill="#c41e50"/>
<rect x="319.45" y="140.61" width="5.15" height="5.15" fill="#bc1f57"/>
<rect x="324.30" y="140.61" width="5.15" height="5.15" fill="#6a4ea9"/>
<rect x="329.15" y="140.61" width="5.15" height="5.15" fill="#87467d"/>
<rect x="174.00" y="145.45" width="5.15" height="5.15" fill="#843a7d"/>
<rect x="178.85" y="145.45" width="5.15" height="5.15" fill="#814081"/>
<rect x="183.70" y="145.45" width="5.15" height="5.15" fill="#704da1"/>
<rect x="188.55" y="145.45" width="5.15" height="5.15" fill="#c12e55"/>
<rect x="193.39" y="145.45" width="5.15" height="5.15" fill="#6d4ca7"/>
<rect x="198.24" y="145.45" width="5.15" height="5.15" fill="#8f3a81"/>
<rect x="203.09" y="145.45" width="5.15" height="5.15" fill="#8d3f7b"/>
<rect x="207.94" y="145.45" width="5.15" height="5.15" fill="#5b61b5"/>
<rect x="212.79" y="145.45" width="5.15" height="5.15" fill="#6848a0"/>
<rect x="217.64" y="145.45" width="5.15" height="5.15" fill="#874079"/>
<rect x="222.48" y="145.45" width="5.15" height="5.15" fill="#7f407d"/>
<rect x="227.33" y="145.45" width="5.15" height="5.15" fill="#7546a7"/>
<rect x="232.18" y="145.45" width="5.15" height="5.15" fill="#823d81"/>
<rect x="237.03" y="145.45" width="5.15" height="5.15" fill="#853f75"/>
<rect x="241.88" y="145.45" width="5.15" height="5.15" fill="#7252a9"/>
<rect x="246.73" y="145.45" width="5.15" height="5.15" fill="#7350a0"/>
<rect x="251.58" y="145.45" width="5.15" height="5.15" fill="#853a86"/>
<rect x="256.42" y="145.45" width="5.15" height="5.15" fill="#6d4ea3"/>
<rect x="261.27" y="145.45" width="5.15" height="5.15" fill="#8c4681"/>
<rect x="266.12" y="145.45" width="5.15" height="5.15" fill="#83407e"/>
<rect x="270.97" y="145.45" width="5.15" height="5.15" fill="#6748a3"/>
<rect x="275.82" y="145.45" width="5.15" height="5.15" fill="#8e3a81"/>
<rect x="280.67" y="145.45" width="5.15" height="5.15" fill="#7e4887"/>
<rect x="285.52" y="145.45" width="5.15" height="5.15" fill="#684c95"/>
<rect x="290.36" y="145.45" width="5.15" height="5.15" fill="#744b92"/>
<rect x="295.21" y="145.45" width="5.15" height="5.15" fill="#65529e"/>
<rect x="300.06" y="145.45" width="5.15" height="5.15" fill="#5965b4"/>
<rect x="304.91" y="145.45" width="5.15" height="5.15" fill="#7e427b"/>
<rect x="309.76" y="145.45" width="5.15" height="5.15" fill="#8a4189"/>
<rect x="314.61" y="145.45" width="5.15" height="5.15" fill="#84477d"/>
<rect x="319.45" y="145.45" width="5.15" height="5.15" fill="#8f3d85"/>
<rect x="324.30" y="145.45" width="5.15" height="5.15" fill="#6c4ea7"/>
<rect x="329.15" y="145.45" width="5.15" height="5.15" fill="#8d3f82"/>
<rect x="174.00" y="150.30" width="5.15" height="5.15" fill="#874388"/>
<rect x="178.85" y="150.30" width="5.15" height="5.15" fill="#853f85"/>
<rect x="183.70" y="150.30" width="5.15" height="5.15" fill="#605eb2"/>
<rect x="188.55" y="150.30" width="5.15" height="5.15" fill="#5f52ad"/>
<rect x="193.39" y="150.30" width="5.15" height="5.15" fill="#8e4073"/>
<rect x="198.24" y="150.30" width="5.15" height="5.15" fill="#854686"/>
<rect x="203.09" y="150.30" width="5.15" height="5.15" fill="#624ca2"/>
<rect x="207.94" y="150.30" width="5.15" height="5.15" fill="#854987"/>
<rect x="212.79" y="150.30" width="5.15" height="5.15" fill="#5a62b8"/>
<rect x="217.64" y="150.30" width="5.15" height="5.15" fill="#813c83"/>
<rect x="222.48" y="150.30" width="5.15" height="5.15" fill="#5662b7"/>
<rect x="227.33" y="150.30" width="5.15" height="5.15" fill="#6b49a6"/>
<rect x="232.18" y="150.30" width="5.15" height="5.15" fill="#5c5aba"/>
<rect x="237.03" y="150.30" width="5.15" height="5.15" fill="#5b64a9"/>
<rect x="241.88" y="150.30" width="5.15" height="5.15" fill="#824077"/>
<rect x="246.73" y="150.30" width="5.15" height="5.15" fill="#8b4775"/>
<rect x="251.58" y="150.30" width="5.15" height="5.15" fill="#823b78"/>
<rect x="256.42" y="150.30" width="5.15" height="5.15" fill="#904078"/>
<rect x="261.27" y="150.30" width="5.15" height="5.15" fill="#854883"/>
<rect x="266.12" y="150.30" width="5.15" height="5.15" fill="#884387"/>
<rect x="270.97" y="150.30" width="5.15" height="5.15" fill="#6d5293"/>
<rect x="275.82" y="150.30" width="5.15" height="5.15" fill="#645397"/>
<rect x="280.67" y="150.30" width="5.15" height="5.15" fill="#864289"/>
<rect x="285.52" y="150.30" width="5.15" height="5.15" fill="#7e427d"/>
<rect x="290.36" y="150.30" width="5.15" height="5.15" fill="#74539e"/>
<rect x="295.21" y="150.30" width="5.15" height="5.15" fill="#8e3e89"/>
<rect x="300.06" y="150.30" width="5.15" height="5.15" fill="#823c85"/>
<rect x="304.91" y="150.30" width="5.15" height="5.15" fill="#754894"/>
<rect x="309.76" y="150.30" width="5.15" height="5.15" fill="#754aa2"/>
<rect x="314.61" y="150.30" width="5.15" height="5.15" fill="#b52853"/>
<rect x="319.45" y="150.30" width="5.15" height="5.15" fill="#894089"/>
<rect x="324.30" y="150.30" width="5.15" height="5.15" fill="#814374"/>
<rect x="329.15" y="150.30" width="5.15" height="5.15" fill="#7f4872"/>
<rect x="174.00" y="155.15" width="5.15" height="5.15" fill="#8c4676"/>
<rect x="178.85" y="155.15" width="5.15" height="5.15" fill="#834672"/>
<rect x="183.70" y="155.15" width="5.15" height="5.15" fill="#7e3f7c"/>
<rect x="188.55" y="155.15" width="5.15" height="5.15" fill="#8c427f"/>
<rect x="193.39" y="155.15" width="5.15" height="5.15" fill="#843f74"/>
<rect x="198.24" y="155.15" width="5.15" height="5.15" fill="#863a83"/>
<rect x="203.09" y="155.15" width="5.15" height="5.15" fill="#7349a7"/>
<rect x="207.94" y="155.15" width="5.15" height="5.15" fill="#b42457"/>
<rect x="212.79" y="155.15" width="5.15" height="5.15" fill="#883e7b"/>
<rect x="217.64" y="155.15" width="5.15" height="5.15" fill="#903d78"/>
<rect x="222.48" y="155.15" width="5.15" height="5.15" fill="#714f95"/>
<rect x="227.33" y="155.15" width="5.15" height="5.15" fill="#6445a3"/>
<rect x="232.18" y="155.15" width="5.15" height="5.15" fill="#c23147"/>
<rect x="237.03" y="155.15" width="5.15" height="5.15" fill="#5964b9"/>
<rect x="241.88" y="155.15" width="5.15" height="5.15" fill="#874687"/>
<rect x="246.73" y="155.15" width="5.15" height="5.15" fill="#5563a9"/>
<rect x="251.58" y="155.15" width="5.15" height="5.15" fill="#864388"/>
<rect x="256.42" y="155.15" width="5.15" height="5.15" fill="#8d4383"/>
<rect x="261.27" y="155.15" width="5.15" height="5.15" fill="#5b63bb"/>
<rect x="266.12" y="155.15" width="5.15" height="5.15" fill="#734d94"/>
<rect x="270.97" y="155.15" width="5.15" height="5.15" fill="#6f50a7"/>
<rect x="275.82" y="155.15" width="5.15" height="5.15" fill="#8c3d83"/>
<rect x="280.67" y="155.15" width="5.15" height="5.15" fill="#744792"/>
<rect x="285.52" y="155.15" width="5.15" height="5.15" fill="#7453a4"/>
<rect x="290.36" y="155.15" width="5.15" height="5.15" fill="#894072"/>
<rect x="295.21" y="155.15" width="5.15" height="5.15" fill="#7550a7"/>
<rect x="300.06" y="155.15" width="5.15" height="5.15" fill="#585eae"/>
<rect x="304.91" y="155.15" width="5.15" height="5.15" fill="#854873"/>
<rect x="309.76" y="155.15" width="5.15" height="5.15" fill="#7f4280"/>
<rect x="314.61" y="155.15" width="5.15" height="5.15" fill="#8c4480"/>
<rect x="319.45" y="155.15" width="5.15" height="5.15" fill="#893d76"/>
<rect x="324.30" y="155.15" width="5.15" height="5.15" fill="#824583"/>
<rect x="329.15" y="155.15" width="5.15" height="5.15" fill="#8a3b7e"/>
</g>
<rect x="174" y="0" width="160" height="0.8" fill="#888"/>
<rect x="174" y="24" width="1.3" height="136" fill="#c0b0d0" fill-opacity="0.8"/>
<path d="M172.00,23.00 C174.02,24.08 180.38,27.43 184.10,29.50 C187.82,31.57 190.92,33.42 194.30,35.40 C197.68,37.38 201.03,39.28 204.40,41.40 C207.77,43.52 211.13,46.42 214.50,48.10 C217.87,49.78 221.22,50.23 224.60,51.50 C227.98,52.77 231.42,54.43 234.80,55.70 C238.18,56.97 241.70,58.22 244.90,59.10 C248.10,59.98 249.67,59.67 254.00,61.00 C258.33,62.33 265.27,64.67 270.90,67.10 C276.53,69.53 282.18,73.35 287.80,75.60 C293.42,77.85 296.57,78.45 304.60,80.60 C312.63,82.75 330.77,87.18 336.00,88.50" fill="none" stroke="#fff" stroke-width="1.2" stroke-dasharray="1.2,1.5" opacity="0.95"/>
<path d="M172.00,38.00 C174.02,38.42 180.38,39.23 184.10,40.50 C187.82,41.77 190.92,43.35 194.30,45.60 C197.68,47.85 201.03,51.47 204.40,54.00 C207.77,56.53 211.13,59.25 214.50,60.80 C217.87,62.35 221.22,62.47 224.60,63.30 C227.98,64.13 231.42,64.78 234.80,65.80 C238.18,66.82 241.70,67.92 244.90,69.40 C248.10,70.88 249.67,72.55 254.00,74.70 C258.33,76.85 265.27,80.05 270.90,82.30 C276.53,84.55 282.18,86.37 287.80,88.20 C293.42,90.03 296.57,91.57 304.60,93.30 C312.63,95.03 330.77,97.72 336.00,98.60" fill="none" stroke="#fff" stroke-width="1.2" stroke-dasharray="1.2,1.5" opacity="0.95"/>
<polygon points="283.8,44.4 307.1,52.9 277.6,129.5 254.3,121.5" fill="none" stroke="#f4f4f4" stroke-width="1.1"/>
<line x1="264.9" y1="95.1" x2="286.4" y2="102.9" stroke="#fff" stroke-width="0.9" stroke-dasharray="1,1.4" opacity="0.85"/>
<line x1="248" y1="115.2" x2="274" y2="48.5" stroke="#fff" stroke-width="1.1"/>
<polygon points="275.9,44.3 270.6,51.6 278.2,52.3" fill="#fff"/>
<text x="290.30" y="64.20" style="font-family:'Liberation Sans',sans-serif;font-size:10.5px;font-weight:normal" fill="#e8e8e8" text-anchor="middle" >IV</text>
<text x="281.80" y="82.70" style="font-family:'Liberation Sans',sans-serif;font-size:10.5px;font-weight:normal" fill="#f0f0f0" text-anchor="middle" >III</text>
<text x="277.60" y="95.40" style="font-family:'Liberation Sans',sans-serif;font-size:10.5px;font-weight:normal" fill="#f0f0f0" text-anchor="middle" >II</text>
<text x="269.50" y="115.80" style="font-family:'Liberation Sans',sans-serif;font-size:10.5px;font-weight:normal" fill="#f0f0f0" text-anchor="middle" >I</text>
<text x="178.50" y="14.00" style="font-family:'Liberation Sans',sans-serif;font-size:15px;font-weight:bold" fill="#fff" text-anchor="start" >b</text>
<text x="220.70" y="13.10" style="font-family:'Liberation Sans',sans-serif;font-size:11.4px;font-weight:normal" fill="#f4f4f4" text-anchor="start" >EELS composite map</text>
<text x="186.90" y="149.00" style="font-family:'Liberation Sans',sans-serif;font-size:10.5px;font-weight:normal" fill="#fff" text-anchor="start" >1 nm</text>
<rect x="184.4" y="151" width="30.8" height="2.6" fill="#fff"/>
<rect x="298.1" y="131.2" width="33.2" height="26.6" fill="#efe0ea" fill-opacity="0.9"/>
<rect x="301.9" y="134.2" width="6.6" height="6.7" fill="#0a84ff"/>
<rect x="301.9" y="147" width="6.6" height="6.7" fill="#ff0000"/>
<text x="311.80" y="141.60" style="font-family:'Liberation Sans',sans-serif;font-size:10.3px;font-weight:normal" fill="#222" text-anchor="start" >Zn</text>
<text x="314.20" y="154.20" style="font-family:'Liberation Sans',sans-serif;font-size:10.3px;font-weight:normal" fill="#222" text-anchor="start" >O</text>
</g>
<g>
<rect x="393.8" y="12.7" width="282.9" height="159.3" fill="none" stroke="#cfcfcf" stroke-width="1"/>
<line x1="393.8" y1="172.00" x2="397" y2="172.00" stroke="#c8c8c8" stroke-width="1"/>
<line x1="393.8" y1="152.09" x2="395.8" y2="152.09" stroke="#c8c8c8" stroke-width="1"/>
<text x="389.60" y="178.30" style="font-family:'Liberation Sans',sans-serif;font-size:12.2px;font-weight:normal" fill="#111" text-anchor="end" >0</text>
<line x1="393.8" y1="132.18" x2="397" y2="132.18" stroke="#c8c8c8" stroke-width="1"/>
<line x1="393.8" y1="112.26" x2="395.8" y2="112.26" stroke="#c8c8c8" stroke-width="1"/>
<text x="389.60" y="138.48" style="font-family:'Liberation Sans',sans-serif;font-size:12.2px;font-weight:normal" fill="#111" text-anchor="end" >25</text>
<line x1="393.8" y1="92.35" x2="397" y2="92.35" stroke="#c8c8c8" stroke-width="1"/>
<line x1="393.8" y1="72.44" x2="395.8" y2="72.44" stroke="#c8c8c8" stroke-width="1"/>
<text x="389.60" y="98.65" style="font-family:'Liberation Sans',sans-serif;font-size:12.2px;font-weight:normal" fill="#111" text-anchor="end" >50</text>
<line x1="393.8" y1="52.53" x2="397" y2="52.53" stroke="#c8c8c8" stroke-width="1"/>
<line x1="393.8" y1="32.61" x2="395.8" y2="32.61" stroke="#c8c8c8" stroke-width="1"/>
<text x="389.60" y="58.83" style="font-family:'Liberation Sans',sans-serif;font-size:12.2px;font-weight:normal" fill="#111" text-anchor="end" >75</text>
<line x1="393.8" y1="12.70" x2="397" y2="12.70" stroke="#c8c8c8" stroke-width="1"/>
<text x="389.60" y="19.00" style="font-family:'Liberation Sans',sans-serif;font-size:12.2px;font-weight:normal" fill="#111" text-anchor="end" >100</text>
<line x1="399.30" y1="172" x2="399.30" y2="175" stroke="#c8c8c8" stroke-width="1"/>
<text x="399.30" y="189.20" style="font-family:'Liberation Sans',sans-serif;font-size:12.2px;font-weight:normal" fill="#111" text-anchor="middle" >0.0</text>
<line x1="454.45" y1="172" x2="454.45" y2="175" stroke="#c8c8c8" stroke-width="1"/>
<text x="454.45" y="189.20" style="font-family:'Liberation Sans',sans-serif;font-size:12.2px;font-weight:normal" fill="#111" text-anchor="middle" >0.5</text>
<line x1="509.60" y1="172" x2="509.60" y2="175" stroke="#c8c8c8" stroke-width="1"/>
<text x="509.60" y="189.20" style="font-family:'Liberation Sans',sans-serif;font-size:12.2px;font-weight:normal" fill="#111" text-anchor="middle" >1.0</text>
<line x1="564.75" y1="172" x2="564.75" y2="175" stroke="#c8c8c8" stroke-width="1"/>
<text x="564.75" y="189.20" style="font-family:'Liberation Sans',sans-serif;font-size:12.2px;font-weight:normal" fill="#111" text-anchor="middle" >1.5</text>
<line x1="619.90" y1="172" x2="619.90" y2="175" stroke="#c8c8c8" stroke-width="1"/>
<text x="619.90" y="189.20" style="font-family:'Liberation Sans',sans-serif;font-size:12.2px;font-weight:normal" fill="#111" text-anchor="middle" >2.0</text>
<line x1="675.05" y1="172" x2="675.05" y2="175" stroke="#c8c8c8" stroke-width="1"/>
<text x="675.05" y="189.20" style="font-family:'Liberation Sans',sans-serif;font-size:12.2px;font-weight:normal" fill="#111" text-anchor="middle" >2.5</text>
<text x="365.60" y="104.40" style="font-family:'Liberation Sans',sans-serif;font-size:12.8px;font-weight:normal" fill="#111" text-anchor="middle" transform="rotate(-90 365.6 104.4)">Concentration (%)</text>
<text x="537.00" y="202.70" style="font-family:'Liberation Sans',sans-serif;font-size:12.5px;font-weight:normal" fill="#111" text-anchor="middle" >Distance (nm)</text>
<text x="355.50" y="12.20" style="font-family:'Liberation Sans',sans-serif;font-size:15px;font-weight:bold" fill="#000" text-anchor="start" >c</text>
<text x="461.70" y="10.60" style="font-family:'Liberation Sans',sans-serif;font-size:12.3px;font-weight:normal" fill="#111" text-anchor="middle" >I</text>
<text x="495.00" y="10.60" style="font-family:'Liberation Sans',sans-serif;font-size:12.3px;font-weight:normal" fill="#111" text-anchor="middle" >II</text>
<text x="540.00" y="10.60" style="font-family:'Liberation Sans',sans-serif;font-size:12.3px;font-weight:normal" fill="#111" text-anchor="middle" >III</text>
<text x="581.80" y="10.60" style="font-family:'Liberation Sans',sans-serif;font-size:12.3px;font-weight:normal" fill="#111" text-anchor="middle" >IV</text>
<line x1="393.8" y1="92.35" x2="676.7" y2="92.35" stroke="#888" stroke-width="0.8" stroke-dasharray="1.6,1.6"/>
<g clip-path="url(#clipC)">
<polyline points="399.30,95.38 415.85,97.13 432.39,95.38 448.94,96.01 465.48,89.16 482.02,96.97 498.57,109.24 515.12,122.46 531.66,144.12 548.21,160.37 564.75,150.18 581.29,133.93 597.84,139.66 614.38,138.55 630.93,151.29 647.48,143.96 664.02,124.53" fill="none" stroke="#1a84f5" stroke-width="1.9" stroke-linejoin="round"/>
<polyline points="399.30,88.85 415.85,87.57 432.39,88.85 448.94,88.05 465.48,95.54 482.02,87.25 498.57,74.83 515.12,60.81 531.66,41.06 548.21,24.17 564.75,41.06 581.29,72.12 597.84,81.36 614.38,132.81 630.93,156.07 647.48,133.13 664.02,114.17" fill="none" stroke="#f51414" stroke-width="1.9" stroke-linejoin="round"/>
<polyline points="399.30,82.31 415.85,97.29 432.39,100.47 448.94,96.01 465.48,88.05 482.02,96.97 498.57,109.24 515.12,116.88 531.66,144.12 548.21,154.64 564.75,161.96 581.29,148.74 597.84,158.30 614.38,164.67 630.93,151.29 647.48,171.20 664.02,165.15" fill="none" stroke="#1a84f5" stroke-width="1.6" stroke-linejoin="round"/>
<polyline points="399.30,102.07 415.85,87.41 432.39,82.95 448.94,88.05 465.48,96.49 482.02,87.09 498.57,74.83 515.12,67.18 531.66,41.06 548.21,57.14 564.75,78.65 581.29,138.07 597.84,169.93 614.38,132.81 630.93,163.56 647.48,158.94 664.02,171.52" fill="none" stroke="#f51414" stroke-width="1.6" stroke-linejoin="round"/>
<circle cx="399.30" cy="82.31" r="3.5" fill="#fff" stroke="#1a84f5" stroke-width="1.1"/>
<circle cx="415.85" cy="97.29" r="3.5" fill="#fff" stroke="#1a84f5" stroke-width="1.1"/>
<circle cx="432.39" cy="100.47" r="3.5" fill="#fff" stroke="#1a84f5" stroke-width="1.1"/>
<circle cx="448.94" cy="96.01" r="3.5" fill="#fff" stroke="#1a84f5" stroke-width="1.1"/>
<circle cx="465.48" cy="88.05" r="3.5" fill="#fff" stroke="#1a84f5" stroke-width="1.1"/>
<circle cx="482.02" cy="96.97" r="3.5" fill="#fff" stroke="#1a84f5" stroke-width="1.1"/>
<circle cx="498.57" cy="109.24" r="3.5" fill="#fff" stroke="#1a84f5" stroke-width="1.1"/>
<circle cx="515.12" cy="116.88" r="3.5" fill="#fff" stroke="#1a84f5" stroke-width="1.1"/>
<circle cx="531.66" cy="144.12" r="3.5" fill="#fff" stroke="#1a84f5" stroke-width="1.1"/>
<circle cx="548.21" cy="154.64" r="3.5" fill="#fff" stroke="#1a84f5" stroke-width="1.1"/>
<circle cx="564.75" cy="161.96" r="3.5" fill="#fff" stroke="#1a84f5" stroke-width="1.1"/>
<circle cx="581.29" cy="148.74" r="3.5" fill="#fff" stroke="#1a84f5" stroke-width="1.1"/>
<circle cx="597.84" cy="158.30" r="3.5" fill="#fff" stroke="#1a84f5" stroke-width="1.1"/>
<circle cx="614.38" cy="164.67" r="3.5" fill="#fff" stroke="#1a84f5" stroke-width="1.1"/>
<circle cx="630.93" cy="151.29" r="3.5" fill="#fff" stroke="#1a84f5" stroke-width="1.1"/>
<circle cx="647.48" cy="171.20" r="3.5" fill="#fff" stroke="#1a84f5" stroke-width="1.1"/>
<circle cx="664.02" cy="165.15" r="3.5" fill="#fff" stroke="#1a84f5" stroke-width="1.1"/>
<circle cx="399.30" cy="102.07" r="3.5" fill="#fff" stroke="#f51414" stroke-width="1.1"/>
<circle cx="415.85" cy="87.41" r="3.5" fill="#fff" stroke="#f51414" stroke-width="1.1"/>
<circle cx="432.39" cy="82.95" r="3.5" fill="#fff" stroke="#f51414" stroke-width="1.1"/>
<circle cx="448.94" cy="88.05" r="3.5" fill="#fff" stroke="#f51414" stroke-width="1.1"/>
<circle cx="465.48" cy="96.49" r="3.5" fill="#fff" stroke="#f51414" stroke-width="1.1"/>
<circle cx="482.02" cy="87.09" r="3.5" fill="#fff" stroke="#f51414" stroke-width="1.1"/>
<circle cx="498.57" cy="74.83" r="3.5" fill="#fff" stroke="#f51414" stroke-width="1.1"/>
<circle cx="515.12" cy="67.18" r="3.5" fill="#fff" stroke="#f51414" stroke-width="1.1"/>
<circle cx="531.66" cy="41.06" r="3.5" fill="#fff" stroke="#f51414" stroke-width="1.1"/>
<circle cx="548.21" cy="57.14" r="3.5" fill="#fff" stroke="#f51414" stroke-width="1.1"/>
<circle cx="564.75" cy="78.65" r="3.5" fill="#fff" stroke="#f51414" stroke-width="1.1"/>
<circle cx="581.29" cy="138.07" r="3.5" fill="#fff" stroke="#f51414" stroke-width="1.1"/>
<circle cx="597.84" cy="169.93" r="3.5" fill="#fff" stroke="#f51414" stroke-width="1.1"/>
<circle cx="614.38" cy="132.81" r="3.5" fill="#fff" stroke="#f51414" stroke-width="1.1"/>
<circle cx="630.93" cy="163.56" r="3.5" fill="#fff" stroke="#f51414" stroke-width="1.1"/>
<circle cx="647.48" cy="158.94" r="3.5" fill="#fff" stroke="#f51414" stroke-width="1.1"/>
<circle cx="664.02" cy="171.52" r="3.5" fill="#fff" stroke="#f51414" stroke-width="1.1"/>
<circle cx="399.30" cy="95.38" r="3.9" fill="url(#gBlueC)"/>
<circle cx="432.39" cy="95.38" r="3.9" fill="url(#gBlueC)"/>
<circle cx="515.12" cy="122.46" r="3.9" fill="url(#gBlueC)"/>
<circle cx="548.21" cy="160.37" r="3.9" fill="url(#gBlueC)"/>
<circle cx="564.75" cy="150.18" r="3.9" fill="url(#gBlueC)"/>
<circle cx="581.29" cy="133.93" r="3.9" fill="url(#gBlueC)"/>
<circle cx="597.84" cy="139.66" r="3.9" fill="url(#gBlueC)"/>
<circle cx="614.38" cy="138.55" r="3.9" fill="url(#gBlueC)"/>
<circle cx="630.93" cy="151.29" r="3.9" fill="url(#gBlueC)"/>
<circle cx="647.48" cy="143.96" r="3.9" fill="url(#gBlueC)"/>
<circle cx="664.02" cy="124.53" r="3.9" fill="url(#gBlueC)"/>
<circle cx="399.30" cy="88.85" r="3.9" fill="url(#gRedC)"/>
<circle cx="432.39" cy="88.85" r="3.9" fill="url(#gRedC)"/>
<circle cx="515.12" cy="60.81" r="3.9" fill="url(#gRedC)"/>
<circle cx="548.21" cy="24.17" r="3.9" fill="url(#gRedC)"/>
<circle cx="564.75" cy="41.06" r="3.9" fill="url(#gRedC)"/>
<circle cx="581.29" cy="72.12" r="3.9" fill="url(#gRedC)"/>
<circle cx="597.84" cy="81.36" r="3.9" fill="url(#gRedC)"/>
<circle cx="614.38" cy="132.81" r="3.9" fill="url(#gRedC)"/>
<circle cx="630.93" cy="156.07" r="3.9" fill="url(#gRedC)"/>
<circle cx="647.48" cy="133.13" r="3.9" fill="url(#gRedC)"/>
<circle cx="664.02" cy="114.17" r="3.9" fill="url(#gRedC)"/>
<rect x="571.8" y="12.7" width="105" height="159.3" fill="#fff" fill-opacity="0.76"/>
</g>
<line x1="477.1" y1="12.7" x2="477.1" y2="172" stroke="#555" stroke-width="1.1" stroke-dasharray="3,1.8"/>
<line x1="518.8" y1="12.7" x2="518.8" y2="172" stroke="#555" stroke-width="1.1" stroke-dasharray="3,1.8"/>
<line x1="571.3" y1="12.7" x2="571.3" y2="172" stroke="#555" stroke-width="1.1" stroke-dasharray="3,1.8"/>
<rect x="393.8" y="12.7" width="282.9" height="159.3" fill="none" stroke="#d4d4d4" stroke-width="1"/>
<text x="420.90" y="159.30" style="font-family:'Liberation Sans',sans-serif;font-size:11px;font-weight:normal" fill="#111" text-anchor="start" >ZnO</text>
<text x="603.90" y="144.90" style="font-family:'Liberation Sans',sans-serif;font-size:11.5px;font-weight:normal" fill="#111" text-anchor="start" >Vacuum</text>
<line x1="596.2" y1="20.4" x2="623.3" y2="20.4" stroke="#1a84f5" stroke-width="1.7"/>
<circle cx="610.1" cy="20.4" r="4.1" fill="url(#gBlueC)"/>
<text x="629.50" y="24.60" style="font-family:'Liberation Sans',sans-serif;font-size:11.4px;font-weight:normal" fill="#111" text-anchor="start" >Zn</text>
<text x="646.60" y="24.60" style="font-family:'Liberation Sans',sans-serif;font-size:11.2px;font-weight:normal" fill="#111" text-anchor="start" >EELS</text>
<line x1="596.2" y1="35" x2="623.3" y2="35" stroke="#f51414" stroke-width="1.7"/>
<circle cx="610.1" cy="35" r="4.1" fill="url(#gRedC)"/>
<text x="629.50" y="39.20" style="font-family:'Liberation Sans',sans-serif;font-size:11.4px;font-weight:normal" fill="#111" text-anchor="start" >O</text>
<text x="645.20" y="39.20" style="font-family:'Liberation Sans',sans-serif;font-size:11.2px;font-weight:normal" fill="#111" text-anchor="start" >EELS</text>
<line x1="596.2" y1="49.3" x2="623.3" y2="49.3" stroke="#1a84f5" stroke-width="1.7"/>
<circle cx="610.1" cy="49.3" r="3.7" fill="#fff" stroke="#1a84f5" stroke-width="1.1"/>
<text x="629.50" y="53.50" style="font-family:'Liberation Sans',sans-serif;font-size:11.4px;font-weight:normal" fill="#111" text-anchor="start" >Zn</text>
<text x="646.60" y="53.50" style="font-family:'Liberation Sans',sans-serif;font-size:11.2px;font-weight:normal" fill="#111" text-anchor="start" >EDS</text>
<line x1="596.2" y1="63.4" x2="623.3" y2="63.4" stroke="#f51414" stroke-width="1.7"/>
<circle cx="610.1" cy="63.4" r="3.7" fill="#fff" stroke="#f51414" stroke-width="1.1"/>
<text x="629.50" y="67.60" style="font-family:'Liberation Sans',sans-serif;font-size:11.4px;font-weight:normal" fill="#111" text-anchor="start" >O</text>
<text x="645.20" y="67.60" style="font-family:'Liberation Sans',sans-serif;font-size:11.2px;font-weight:normal" fill="#111" text-anchor="start" >EDS</text>
</g>
<g>
<rect x="308.3" y="238" width="367.9" height="194.6" fill="none" stroke="#111" stroke-width="1.1"/>
<line x1="308.3" y1="432.60" x2="312.30" y2="432.60" stroke="#111" stroke-width="1"/>
<line x1="308.3" y1="418.70" x2="310.80" y2="418.70" stroke="#111" stroke-width="1"/>
<line x1="308.3" y1="404.80" x2="312.30" y2="404.80" stroke="#111" stroke-width="1"/>
<line x1="308.3" y1="390.90" x2="310.80" y2="390.90" stroke="#111" stroke-width="1"/>
<line x1="308.3" y1="377.00" x2="312.30" y2="377.00" stroke="#111" stroke-width="1"/>
<line x1="308.3" y1="363.10" x2="310.80" y2="363.10" stroke="#111" stroke-width="1"/>
<line x1="308.3" y1="349.20" x2="312.30" y2="349.20" stroke="#111" stroke-width="1"/>
<line x1="308.3" y1="335.30" x2="310.80" y2="335.30" stroke="#111" stroke-width="1"/>
<line x1="308.3" y1="321.40" x2="312.30" y2="321.40" stroke="#111" stroke-width="1"/>
<line x1="308.3" y1="307.50" x2="310.80" y2="307.50" stroke="#111" stroke-width="1"/>
<line x1="308.3" y1="293.60" x2="312.30" y2="293.60" stroke="#111" stroke-width="1"/>
<line x1="308.3" y1="279.70" x2="310.80" y2="279.70" stroke="#111" stroke-width="1"/>
<line x1="308.3" y1="265.80" x2="312.30" y2="265.80" stroke="#111" stroke-width="1"/>
<line x1="308.3" y1="251.90" x2="310.80" y2="251.90" stroke="#111" stroke-width="1"/>
<line x1="308.3" y1="238.00" x2="312.30" y2="238.00" stroke="#111" stroke-width="1"/>
<line x1="308.30" y1="432.6" x2="308.30" y2="428" stroke="#111" stroke-width="1"/>
<line x1="318.50" y1="432.6" x2="318.50" y2="430.2" stroke="#111" stroke-width="1"/>
<text x="308.30" y="448.00" style="font-family:'Liberation Sans',sans-serif;font-size:13px;font-weight:normal" fill="#111" text-anchor="middle" >0</text>
<line x1="328.70" y1="432.6" x2="328.70" y2="428" stroke="#111" stroke-width="1"/>
<line x1="338.90" y1="432.6" x2="338.90" y2="430.2" stroke="#111" stroke-width="1"/>
<text x="328.70" y="448.00" style="font-family:'Liberation Sans',sans-serif;font-size:13px;font-weight:normal" fill="#111" text-anchor="middle" >1</text>
<line x1="349.10" y1="432.6" x2="349.10" y2="428" stroke="#111" stroke-width="1"/>
<line x1="359.30" y1="432.6" x2="359.30" y2="430.2" stroke="#111" stroke-width="1"/>
<text x="349.10" y="448.00" style="font-family:'Liberation Sans',sans-serif;font-size:13px;font-weight:normal" fill="#111" text-anchor="middle" >2</text>
<line x1="369.50" y1="432.6" x2="369.50" y2="428" stroke="#111" stroke-width="1"/>
<line x1="379.70" y1="432.6" x2="379.70" y2="430.2" stroke="#111" stroke-width="1"/>
<text x="369.50" y="448.00" style="font-family:'Liberation Sans',sans-serif;font-size:13px;font-weight:normal" fill="#111" text-anchor="middle" >3</text>
<line x1="389.90" y1="432.6" x2="389.90" y2="428" stroke="#111" stroke-width="1"/>
<line x1="400.10" y1="432.6" x2="400.10" y2="430.2" stroke="#111" stroke-width="1"/>
<text x="389.90" y="448.00" style="font-family:'Liberation Sans',sans-serif;font-size:13px;font-weight:normal" fill="#111" text-anchor="middle" >4</text>
<line x1="410.30" y1="432.6" x2="410.30" y2="428" stroke="#111" stroke-width="1"/>
<line x1="420.50" y1="432.6" x2="420.50" y2="430.2" stroke="#111" stroke-width="1"/>
<text x="410.30" y="448.00" style="font-family:'Liberation Sans',sans-serif;font-size:13px;font-weight:normal" fill="#111" text-anchor="middle" >5</text>
<line x1="430.70" y1="432.6" x2="430.70" y2="428" stroke="#111" stroke-width="1"/>
<text x="371.20" y="461.60" style="font-family:'Liberation Sans',sans-serif;font-size:13px;font-weight:normal" fill="#111" text-anchor="middle" >Layer</text>
<line x1="430.7" y1="238" x2="430.7" y2="432.6" stroke="#111" stroke-width="1.1"/>
<line x1="430.7" y1="432.60" x2="434.70" y2="432.60" stroke="#111" stroke-width="1"/>
<line x1="430.7" y1="418.70" x2="433.20" y2="418.70" stroke="#111" stroke-width="1"/>
<line x1="430.7" y1="404.80" x2="434.70" y2="404.80" stroke="#111" stroke-width="1"/>
<line x1="430.7" y1="390.90" x2="433.20" y2="390.90" stroke="#111" stroke-width="1"/>
<line x1="430.7" y1="377.00" x2="434.70" y2="377.00" stroke="#111" stroke-width="1"/>
<line x1="430.7" y1="363.10" x2="433.20" y2="363.10" stroke="#111" stroke-width="1"/>
<line x1="430.7" y1="349.20" x2="434.70" y2="349.20" stroke="#111" stroke-width="1"/>
<line x1="430.7" y1="335.30" x2="433.20" y2="335.30" stroke="#111" stroke-width="1"/>
<line x1="430.7" y1="321.40" x2="434.70" y2="321.40" stroke="#111" stroke-width="1"/>
<line x1="430.7" y1="307.50" x2="433.20" y2="307.50" stroke="#111" stroke-width="1"/>
<line x1="430.7" y1="293.60" x2="434.70" y2="293.60" stroke="#111" stroke-width="1"/>
<line x1="430.7" y1="279.70" x2="433.20" y2="279.70" stroke="#111" stroke-width="1"/>
<line x1="430.7" y1="265.80" x2="434.70" y2="265.80" stroke="#111" stroke-width="1"/>
<line x1="430.7" y1="251.90" x2="433.20" y2="251.90" stroke="#111" stroke-width="1"/>
<line x1="430.7" y1="238.00" x2="434.70" y2="238.00" stroke="#111" stroke-width="1"/>
<line x1="430.70" y1="432.6" x2="430.70" y2="428" stroke="#111" stroke-width="1"/>
<line x1="440.90" y1="432.6" x2="440.90" y2="430.2" stroke="#111" stroke-width="1"/>
<text x="430.70" y="448.00" style="font-family:'Liberation Sans',sans-serif;font-size:13px;font-weight:normal" fill="#111" text-anchor="middle" >0</text>
<line x1="451.10" y1="432.6" x2="451.10" y2="428" stroke="#111" stroke-width="1"/>
<line x1="461.30" y1="432.6" x2="461.30" y2="430.2" stroke="#111" stroke-width="1"/>
<text x="451.10" y="448.00" style="font-family:'Liberation Sans',sans-serif;font-size:13px;font-weight:normal" fill="#111" text-anchor="middle" >1</text>
<line x1="471.50" y1="432.6" x2="471.50" y2="428" stroke="#111" stroke-width="1"/>
<line x1="481.70" y1="432.6" x2="481.70" y2="430.2" stroke="#111" stroke-width="1"/>
<text x="471.50" y="448.00" style="font-family:'Liberation Sans',sans-serif;font-size:13px;font-weight:normal" fill="#111" text-anchor="middle" >2</text>
<line x1="491.90" y1="432.6" x2="491.90" y2="428" stroke="#111" stroke-width="1"/>
<line x1="502.10" y1="432.6" x2="502.10" y2="430.2" stroke="#111" stroke-width="1"/>
<text x="491.90" y="448.00" style="font-family:'Liberation Sans',sans-serif;font-size:13px;font-weight:normal" fill="#111" text-anchor="middle" >3</text>
<line x1="512.30" y1="432.6" x2="512.30" y2="428" stroke="#111" stroke-width="1"/>
<line x1="522.50" y1="432.6" x2="522.50" y2="430.2" stroke="#111" stroke-width="1"/>
<text x="512.30" y="448.00" style="font-family:'Liberation Sans',sans-serif;font-size:13px;font-weight:normal" fill="#111" text-anchor="middle" >4</text>
<line x1="532.70" y1="432.6" x2="532.70" y2="428" stroke="#111" stroke-width="1"/>
<line x1="542.90" y1="432.6" x2="542.90" y2="430.2" stroke="#111" stroke-width="1"/>
<text x="532.70" y="448.00" style="font-family:'Liberation Sans',sans-serif;font-size:13px;font-weight:normal" fill="#111" text-anchor="middle" >5</text>
<line x1="553.10" y1="432.6" x2="553.10" y2="428" stroke="#111" stroke-width="1"/>
<text x="493.60" y="461.60" style="font-family:'Liberation Sans',sans-serif;font-size:13px;font-weight:normal" fill="#111" text-anchor="middle" >Layer</text>
<line x1="553.1" y1="238" x2="553.1" y2="432.6" stroke="#111" stroke-width="1.1"/>
<line x1="553.1" y1="432.60" x2="557.10" y2="432.60" stroke="#111" stroke-width="1"/>
<line x1="553.1" y1="418.70" x2="555.60" y2="418.70" stroke="#111" stroke-width="1"/>
<line x1="553.1" y1="404.80" x2="557.10" y2="404.80" stroke="#111" stroke-width="1"/>
<line x1="553.1" y1="390.90" x2="555.60" y2="390.90" stroke="#111" stroke-width="1"/>
<line x1="553.1" y1="377.00" x2="557.10" y2="377.00" stroke="#111" stroke-width="1"/>
<line x1="553.1" y1="363.10" x2="555.60" y2="363.10" stroke="#111" stroke-width="1"/>
<line x1="553.1" y1="349.20" x2="557.10" y2="349.20" stroke="#111" stroke-width="1"/>
<line x1="553.1" y1="335.30" x2="555.60" y2="335.30" stroke="#111" stroke-width="1"/>
<line x1="553.1" y1="321.40" x2="557.10" y2="321.40" stroke="#111" stroke-width="1"/>
<line x1="553.1" y1="307.50" x2="555.60" y2="307.50" stroke="#111" stroke-width="1"/>
<line x1="553.1" y1="293.60" x2="557.10" y2="293.60" stroke="#111" stroke-width="1"/>
<line x1="553.1" y1="279.70" x2="555.60" y2="279.70" stroke="#111" stroke-width="1"/>
<line x1="553.1" y1="265.80" x2="557.10" y2="265.80" stroke="#111" stroke-width="1"/>
<line x1="553.1" y1="251.90" x2="555.60" y2="251.90" stroke="#111" stroke-width="1"/>
<line x1="553.1" y1="238.00" x2="557.10" y2="238.00" stroke="#111" stroke-width="1"/>
<line x1="553.10" y1="432.6" x2="553.10" y2="428" stroke="#111" stroke-width="1"/>
<line x1="565.40" y1="432.6" x2="565.40" y2="430.2" stroke="#111" stroke-width="1"/>
<text x="553.10" y="448.00" style="font-family:'Liberation Sans',sans-serif;font-size:13px;font-weight:normal" fill="#111" text-anchor="middle" >0</text>
<line x1="577.70" y1="432.6" x2="577.70" y2="428" stroke="#111" stroke-width="1"/>
<line x1="590.00" y1="432.6" x2="590.00" y2="430.2" stroke="#111" stroke-width="1"/>
<text x="577.70" y="448.00" style="font-family:'Liberation Sans',sans-serif;font-size:13px;font-weight:normal" fill="#111" text-anchor="middle" >1</text>
<line x1="602.30" y1="432.6" x2="602.30" y2="428" stroke="#111" stroke-width="1"/>
<line x1="614.60" y1="432.6" x2="614.60" y2="430.2" stroke="#111" stroke-width="1"/>
<text x="602.30" y="448.00" style="font-family:'Liberation Sans',sans-serif;font-size:13px;font-weight:normal" fill="#111" text-anchor="middle" >2</text>
<line x1="626.90" y1="432.6" x2="626.90" y2="428" stroke="#111" stroke-width="1"/>
<line x1="639.20" y1="432.6" x2="639.20" y2="430.2" stroke="#111" stroke-width="1"/>
<text x="626.90" y="448.00" style="font-family:'Liberation Sans',sans-serif;font-size:13px;font-weight:normal" fill="#111" text-anchor="middle" >3</text>
<line x1="651.50" y1="432.6" x2="651.50" y2="428" stroke="#111" stroke-width="1"/>
<line x1="663.80" y1="432.6" x2="663.80" y2="430.2" stroke="#111" stroke-width="1"/>
<text x="651.50" y="448.00" style="font-family:'Liberation Sans',sans-serif;font-size:13px;font-weight:normal" fill="#111" text-anchor="middle" >4</text>
<line x1="676.10" y1="432.6" x2="676.10" y2="428" stroke="#111" stroke-width="1"/>
<text x="676.10" y="448.00" style="font-family:'Liberation Sans',sans-serif;font-size:13px;font-weight:normal" fill="#111" text-anchor="middle" >5</text>
<text x="616.30" y="461.60" style="font-family:'Liberation Sans',sans-serif;font-size:13px;font-weight:normal" fill="#111" text-anchor="middle" >Layer</text>
<text x="302.60" y="436.90" style="font-family:'Liberation Sans',sans-serif;font-size:13px;font-weight:normal" fill="#111" text-anchor="end" >-0.5</text>
<text x="302.60" y="409.10" style="font-family:'Liberation Sans',sans-serif;font-size:13px;font-weight:normal" fill="#111" text-anchor="end" >0.0</text>
<text x="302.60" y="381.30" style="font-family:'Liberation Sans',sans-serif;font-size:13px;font-weight:normal" fill="#111" text-anchor="end" >0.5</text>
<text x="302.60" y="353.50" style="font-family:'Liberation Sans',sans-serif;font-size:13px;font-weight:normal" fill="#111" text-anchor="end" >1.0</text>
<text x="302.60" y="325.70" style="font-family:'Liberation Sans',sans-serif;font-size:13px;font-weight:normal" fill="#111" text-anchor="end" >1.5</text>
<text x="302.60" y="297.90" style="font-family:'Liberation Sans',sans-serif;font-size:13px;font-weight:normal" fill="#111" text-anchor="end" >2.0</text>
<text x="302.60" y="270.10" style="font-family:'Liberation Sans',sans-serif;font-size:13px;font-weight:normal" fill="#111" text-anchor="end" >2.5</text>
<text x="302.60" y="242.30" style="font-family:'Liberation Sans',sans-serif;font-size:13px;font-weight:normal" fill="#111" text-anchor="end" >3.0</text>
<text x="259.50" y="220.80" style="font-family:'Liberation Sans',sans-serif;font-size:15px;font-weight:bold" fill="#000" text-anchor="start" >e</text>
<text transform="translate(272.6 335) rotate(-90)" style="font-family:'Liberation Sans',sans-serif;font-size:13px" fill="#111" text-anchor="middle">V<tspan dy="3.4" style="font-size:9px">Zn</tspan><tspan dy="-3.4"> Diffusion Energy (eV)</tspan></text>
<text x="324.20" y="256.70" style="font-family:'Liberation Sans',sans-serif;font-size:13.5px;font-weight:normal" fill="#111" text-anchor="start" >(0001)</text>
<text x="449.40" y="256.80" style="font-family:'Liberation Sans',sans-serif;font-size:13.5px;font-weight:normal" fill="#111" text-anchor="start" >(1011)</text>
<line x1="470.1" y1="244.2" x2="477.6" y2="244.2" stroke="#222" stroke-width="1"/>
<text x="567.50" y="256.80" style="font-family:'Liberation Sans',sans-serif;font-size:13.5px;font-weight:normal" fill="#111" text-anchor="start" >(1010)</text>
<line x1="587.5" y1="244.4" x2="594.8" y2="244.4" stroke="#222" stroke-width="1"/>
<g clip-path="url(#clipE1)">
<polyline points="308.30,404.80 310.85,400.69 313.40,386.83 315.95,369.72 318.50,364.21 321.05,372.64 323.60,390.34 326.15,410.37 328.70,416.48 331.25,408.28 333.80,389.07 336.35,366.20 338.90,356.43 341.45,362.38 344.00,378.81 346.55,397.86 349.10,401.19 351.65,392.11 354.20,370.86 356.75,345.56 359.30,334.74 361.85,341.32 364.40,359.49 366.95,380.55 369.50,384.23 372.05,374.90 374.60,353.02 377.15,326.96 379.70,315.84 382.25,322.65 384.80,341.42 387.35,363.17 389.90,366.99 392.45,356.97 395.00,333.05 397.55,304.50 400.10,292.49 402.65,300.33 405.20,321.40 407.75,345.78 410.30,350.31" fill="none" stroke="#f27878" stroke-width="1.8" stroke-dasharray="3.6,2.2"/>
<circle cx="310.85" cy="400.69" r="2.2" fill="#fff" fill-opacity="0.7" stroke="#f27878" stroke-width="0.7"/>
<circle cx="313.40" cy="386.83" r="2.2" fill="#fff" fill-opacity="0.7" stroke="#f27878" stroke-width="0.7"/>
<circle cx="315.95" cy="369.72" r="2.2" fill="#fff" fill-opacity="0.7" stroke="#f27878" stroke-width="0.7"/>
<circle cx="318.50" cy="364.21" r="2.2" fill="#fff" fill-opacity="0.7" stroke="#f27878" stroke-width="0.7"/>
<circle cx="321.05" cy="372.64" r="2.2" fill="#fff" fill-opacity="0.7" stroke="#f27878" stroke-width="0.7"/>
<circle cx="323.60" cy="390.34" r="2.2" fill="#fff" fill-opacity="0.7" stroke="#f27878" stroke-width="0.7"/>
<circle cx="326.15" cy="410.37" r="2.2" fill="#fff" fill-opacity="0.7" stroke="#f27878" stroke-width="0.7"/>
<circle cx="331.25" cy="408.28" r="2.2" fill="#fff" fill-opacity="0.7" stroke="#f27878" stroke-width="0.7"/>
<circle cx="333.80" cy="389.07" r="2.2" fill="#fff" fill-opacity="0.7" stroke="#f27878" stroke-width="0.7"/>
<circle cx="336.35" cy="366.20" r="2.2" fill="#fff" fill-opacity="0.7" stroke="#f27878" stroke-width="0.7"/>
<circle cx="338.90" cy="356.43" r="2.2" fill="#fff" fill-opacity="0.7" stroke="#f27878" stroke-width="0.7"/>
<circle cx="341.45" cy="362.38" r="2.2" fill="#fff" fill-opacity="0.7" stroke="#f27878" stroke-width="0.7"/>
<circle cx="344.00" cy="378.81" r="2.2" fill="#fff" fill-opacity="0.7" stroke="#f27878" stroke-width="0.7"/>
<circle cx="346.55" cy="397.86" r="2.2" fill="#fff" fill-opacity="0.7" stroke="#f27878" stroke-width="0.7"/>
<circle cx="351.65" cy="392.11" r="2.2" fill="#fff" fill-opacity="0.7" stroke="#f27878" stroke-width="0.7"/>
<circle cx="354.20" cy="370.86" r="2.2" fill="#fff" fill-opacity="0.7" stroke="#f27878" stroke-width="0.7"/>
<circle cx="356.75" cy="345.56" r="2.2" fill="#fff" fill-opacity="0.7" stroke="#f27878" stroke-width="0.7"/>
<circle cx="359.30" cy="334.74" r="2.2" fill="#fff" fill-opacity="0.7" stroke="#f27878" stroke-width="0.7"/>
<circle cx="361.85" cy="341.32" r="2.2" fill="#fff" fill-opacity="0.7" stroke="#f27878" stroke-width="0.7"/>
<circle cx="364.40" cy="359.49" r="2.2" fill="#fff" fill-opacity="0.7" stroke="#f27878" stroke-width="0.7"/>
<circle cx="366.95" cy="380.55" r="2.2" fill="#fff" fill-opacity="0.7" stroke="#f27878" stroke-width="0.7"/>
<circle cx="372.05" cy="374.90" r="2.2" fill="#fff" fill-opacity="0.7" stroke="#f27878" stroke-width="0.7"/>
<circle cx="374.60" cy="353.02" r="2.2" fill="#fff" fill-opacity="0.7" stroke="#f27878" stroke-width="0.7"/>
<circle cx="377.15" cy="326.96" r="2.2" fill="#fff" fill-opacity="0.7" stroke="#f27878" stroke-width="0.7"/>
<circle cx="379.70" cy="315.84" r="2.2" fill="#fff" fill-opacity="0.7" stroke="#f27878" stroke-width="0.7"/>
<circle cx="382.25" cy="322.65" r="2.2" fill="#fff" fill-opacity="0.7" stroke="#f27878" stroke-width="0.7"/>
<circle cx="384.80" cy="341.42" r="2.2" fill="#fff" fill-opacity="0.7" stroke="#f27878" stroke-width="0.7"/>
<circle cx="387.35" cy="363.17" r="2.2" fill="#fff" fill-opacity="0.7" stroke="#f27878" stroke-width="0.7"/>
<circle cx="392.45" cy="356.97" r="2.2" fill="#fff" fill-opacity="0.7" stroke="#f27878" stroke-width="0.7"/>
<circle cx="395.00" cy="333.05" r="2.2" fill="#fff" fill-opacity="0.7" stroke="#f27878" stroke-width="0.7"/>
<circle cx="397.55" cy="304.50" r="2.2" fill="#fff" fill-opacity="0.7" stroke="#f27878" stroke-width="0.7"/>
<circle cx="400.10" cy="292.49" r="2.2" fill="#fff" fill-opacity="0.7" stroke="#f27878" stroke-width="0.7"/>
<circle cx="402.65" cy="300.33" r="2.2" fill="#fff" fill-opacity="0.7" stroke="#f27878" stroke-width="0.7"/>
<circle cx="405.20" cy="321.40" r="2.2" fill="#fff" fill-opacity="0.7" stroke="#f27878" stroke-width="0.7"/>
<circle cx="407.75" cy="345.78" r="2.2" fill="#fff" fill-opacity="0.7" stroke="#f27878" stroke-width="0.7"/>
<polyline points="308.30,404.80 328.70,416.48 349.10,401.19 369.50,384.23 389.90,366.99 410.30,350.31" fill="none" stroke="#f51a1a" stroke-width="3.2" stroke-linejoin="round"/>
<circle cx="308.30" cy="404.80" r="4.6" fill="url(#gRedE)"/>
<circle cx="328.70" cy="416.48" r="4.6" fill="url(#gRedE)"/>
<circle cx="349.10" cy="401.19" r="4.6" fill="url(#gRedE)"/>
<circle cx="369.50" cy="384.23" r="4.6" fill="url(#gRedE)"/>
<circle cx="389.90" cy="366.99" r="4.6" fill="url(#gRedE)"/>
<circle cx="410.30" cy="350.31" r="4.6" fill="url(#gRedE)"/>
</g>
<g clip-path="url(#clipE2)">
<polyline points="430.70,404.80 433.25,394.34 435.80,369.12 438.35,338.97 440.90,326.40 443.45,334.94 446.00,357.54 448.55,383.66 451.10,388.68 453.65,376.67 456.20,352.40 458.75,324.04 461.30,310.28 463.85,314.03 466.40,329.46 468.95,347.81 471.50,348.64 474.05,339.43 476.60,318.83 479.15,294.43 481.70,283.59 484.25,289.01 486.80,305.28 489.35,324.25 491.90,326.96 494.45,318.30 497.00,296.91 499.55,271.28 502.10,260.80 504.65,268.50 507.20,288.32 509.75,311.17 512.30,315.84 514.85,307.30 517.40,285.16 519.95,258.49 522.50,248.01 525.05,256.96 527.60,278.87 530.15,304.01 532.70,309.72" fill="none" stroke="#f6b36a" stroke-width="1.8" stroke-dasharray="3.6,2.2"/>
<circle cx="433.25" cy="394.34" r="2.2" fill="#fff" fill-opacity="0.7" stroke="#f6b36a" stroke-width="0.7"/>
<circle cx="435.80" cy="369.12" r="2.2" fill="#fff" fill-opacity="0.7" stroke="#f6b36a" stroke-width="0.7"/>
<circle cx="438.35" cy="338.97" r="2.2" fill="#fff" fill-opacity="0.7" stroke="#f6b36a" stroke-width="0.7"/>
<circle cx="440.90" cy="326.40" r="2.2" fill="#fff" fill-opacity="0.7" stroke="#f6b36a" stroke-width="0.7"/>
<circle cx="443.45" cy="334.94" r="2.2" fill="#fff" fill-opacity="0.7" stroke="#f6b36a" stroke-width="0.7"/>
<circle cx="446.00" cy="357.54" r="2.2" fill="#fff" fill-opacity="0.7" stroke="#f6b36a" stroke-width="0.7"/>
<circle cx="448.55" cy="383.66" r="2.2" fill="#fff" fill-opacity="0.7" stroke="#f6b36a" stroke-width="0.7"/>
<circle cx="453.65" cy="376.67" r="2.2" fill="#fff" fill-opacity="0.7" stroke="#f6b36a" stroke-width="0.7"/>
<circle cx="456.20" cy="352.40" r="2.2" fill="#fff" fill-opacity="0.7" stroke="#f6b36a" stroke-width="0.7"/>
<circle cx="458.75" cy="324.04" r="2.2" fill="#fff" fill-opacity="0.7" stroke="#f6b36a" stroke-width="0.7"/>
<circle cx="461.30" cy="310.28" r="2.2" fill="#fff" fill-opacity="0.7" stroke="#f6b36a" stroke-width="0.7"/>
<circle cx="463.85" cy="314.03" r="2.2" fill="#fff" fill-opacity="0.7" stroke="#f6b36a" stroke-width="0.7"/>
<circle cx="466.40" cy="329.46" r="2.2" fill="#fff" fill-opacity="0.7" stroke="#f6b36a" stroke-width="0.7"/>
<circle cx="468.95" cy="347.81" r="2.2" fill="#fff" fill-opacity="0.7" stroke="#f6b36a" stroke-width="0.7"/>
<circle cx="474.05" cy="339.43" r="2.2" fill="#fff" fill-opacity="0.7" stroke="#f6b36a" stroke-width="0.7"/>
<circle cx="476.60" cy="318.83" r="2.2" fill="#fff" fill-opacity="0.7" stroke="#f6b36a" stroke-width="0.7"/>
<circle cx="479.15" cy="294.43" r="2.2" fill="#fff" fill-opacity="0.7" stroke="#f6b36a" stroke-width="0.7"/>
<circle cx="481.70" cy="283.59" r="2.2" fill="#fff" fill-opacity="0.7" stroke="#f6b36a" stroke-width="0.7"/>
<circle cx="484.25" cy="289.01" r="2.2" fill="#fff" fill-opacity="0.7" stroke="#f6b36a" stroke-width="0.7"/>
<circle cx="486.80" cy="305.28" r="2.2" fill="#fff" fill-opacity="0.7" stroke="#f6b36a" stroke-width="0.7"/>
<circle cx="489.35" cy="324.25" r="2.2" fill="#fff" fill-opacity="0.7" stroke="#f6b36a" stroke-width="0.7"/>
<circle cx="494.45" cy="318.30" r="2.2" fill="#fff" fill-opacity="0.7" stroke="#f6b36a" stroke-width="0.7"/>
<circle cx="497.00" cy="296.91" r="2.2" fill="#fff" fill-opacity="0.7" stroke="#f6b36a" stroke-width="0.7"/>
<circle cx="499.55" cy="271.28" r="2.2" fill="#fff" fill-opacity="0.7" stroke="#f6b36a" stroke-width="0.7"/>
<circle cx="502.10" cy="260.80" r="2.2" fill="#fff" fill-opacity="0.7" stroke="#f6b36a" stroke-width="0.7"/>
<circle cx="504.65" cy="268.50" r="2.2" fill="#fff" fill-opacity="0.7" stroke="#f6b36a" stroke-width="0.7"/>
<circle cx="507.20" cy="288.32" r="2.2" fill="#fff" fill-opacity="0.7" stroke="#f6b36a" stroke-width="0.7"/>
<circle cx="509.75" cy="311.17" r="2.2" fill="#fff" fill-opacity="0.7" stroke="#f6b36a" stroke-width="0.7"/>
<circle cx="514.85" cy="307.30" r="2.2" fill="#fff" fill-opacity="0.7" stroke="#f6b36a" stroke-width="0.7"/>
<circle cx="517.40" cy="285.16" r="2.2" fill="#fff" fill-opacity="0.7" stroke="#f6b36a" stroke-width="0.7"/>
<circle cx="519.95" cy="258.49" r="2.2" fill="#fff" fill-opacity="0.7" stroke="#f6b36a" stroke-width="0.7"/>
<circle cx="522.50" cy="248.01" r="2.2" fill="#fff" fill-opacity="0.7" stroke="#f6b36a" stroke-width="0.7"/>
<circle cx="525.05" cy="256.96" r="2.2" fill="#fff" fill-opacity="0.7" stroke="#f6b36a" stroke-width="0.7"/>
<circle cx="527.60" cy="278.87" r="2.2" fill="#fff" fill-opacity="0.7" stroke="#f6b36a" stroke-width="0.7"/>
<circle cx="530.15" cy="304.01" r="2.2" fill="#fff" fill-opacity="0.7" stroke="#f6b36a" stroke-width="0.7"/>
<polyline points="430.70,404.80 451.10,388.68 471.50,348.64 491.90,326.96 512.30,315.84 532.70,309.72" fill="none" stroke="#f7901c" stroke-width="3.2" stroke-linejoin="round"/>
<circle cx="430.70" cy="404.80" r="4.6" fill="url(#gOrE)"/>
<circle cx="451.10" cy="388.68" r="4.6" fill="url(#gOrE)"/>
<circle cx="471.50" cy="348.64" r="4.6" fill="url(#gOrE)"/>
<circle cx="491.90" cy="326.96" r="4.6" fill="url(#gOrE)"/>
<circle cx="512.30" cy="315.84" r="4.6" fill="url(#gOrE)"/>
<circle cx="532.70" cy="309.72" r="4.6" fill="url(#gOrE)"/>
</g>
<g clip-path="url(#clipE3)">
<polyline points="553.10,405.36 556.18,397.95 559.25,384.77 562.33,369.66 565.40,361.43 568.48,361.46 571.55,366.99 574.62,373.90 577.70,372.55 580.77,365.44 583.85,351.85 586.93,336.11 590.00,328.07 593.08,329.30 596.15,336.69 599.23,345.63 602.30,345.31 605.38,338.55 608.45,320.93 611.52,299.69 614.60,291.38 617.68,298.58 620.75,316.12 623.83,336.25 626.90,340.86 629.98,334.01 633.05,315.55 636.12,293.21 639.20,284.70 642.28,292.79 645.35,311.95 648.43,333.87 651.50,339.19" fill="none" stroke="#6a6af2" stroke-width="1.8" stroke-dasharray="3.6,2.2"/>
<circle cx="556.18" cy="397.95" r="2.2" fill="#fff" fill-opacity="0.7" stroke="#6a6af2" stroke-width="0.7"/>
<circle cx="559.25" cy="384.77" r="2.2" fill="#fff" fill-opacity="0.7" stroke="#6a6af2" stroke-width="0.7"/>
<circle cx="562.33" cy="369.66" r="2.2" fill="#fff" fill-opacity="0.7" stroke="#6a6af2" stroke-width="0.7"/>
<circle cx="565.40" cy="361.43" r="2.2" fill="#fff" fill-opacity="0.7" stroke="#6a6af2" stroke-width="0.7"/>
<circle cx="568.48" cy="361.46" r="2.2" fill="#fff" fill-opacity="0.7" stroke="#6a6af2" stroke-width="0.7"/>
<circle cx="571.55" cy="366.99" r="2.2" fill="#fff" fill-opacity="0.7" stroke="#6a6af2" stroke-width="0.7"/>
<circle cx="574.62" cy="373.90" r="2.2" fill="#fff" fill-opacity="0.7" stroke="#6a6af2" stroke-width="0.7"/>
<circle cx="580.77" cy="365.44" r="2.2" fill="#fff" fill-opacity="0.7" stroke="#6a6af2" stroke-width="0.7"/>
<circle cx="583.85" cy="351.85" r="2.2" fill="#fff" fill-opacity="0.7" stroke="#6a6af2" stroke-width="0.7"/>
<circle cx="586.93" cy="336.11" r="2.2" fill="#fff" fill-opacity="0.7" stroke="#6a6af2" stroke-width="0.7"/>
<circle cx="590.00" cy="328.07" r="2.2" fill="#fff" fill-opacity="0.7" stroke="#6a6af2" stroke-width="0.7"/>
<circle cx="593.08" cy="329.30" r="2.2" fill="#fff" fill-opacity="0.7" stroke="#6a6af2" stroke-width="0.7"/>
<circle cx="596.15" cy="336.69" r="2.2" fill="#fff" fill-opacity="0.7" stroke="#6a6af2" stroke-width="0.7"/>
<circle cx="599.23" cy="345.63" r="2.2" fill="#fff" fill-opacity="0.7" stroke="#6a6af2" stroke-width="0.7"/>
<circle cx="605.38" cy="338.55" r="2.2" fill="#fff" fill-opacity="0.7" stroke="#6a6af2" stroke-width="0.7"/>
<circle cx="608.45" cy="320.93" r="2.2" fill="#fff" fill-opacity="0.7" stroke="#6a6af2" stroke-width="0.7"/>
<circle cx="611.52" cy="299.69" r="2.2" fill="#fff" fill-opacity="0.7" stroke="#6a6af2" stroke-width="0.7"/>
<circle cx="614.60" cy="291.38" r="2.2" fill="#fff" fill-opacity="0.7" stroke="#6a6af2" stroke-width="0.7"/>
<circle cx="617.68" cy="298.58" r="2.2" fill="#fff" fill-opacity="0.7" stroke="#6a6af2" stroke-width="0.7"/>
<circle cx="620.75" cy="316.12" r="2.2" fill="#fff" fill-opacity="0.7" stroke="#6a6af2" stroke-width="0.7"/>
<circle cx="623.83" cy="336.25" r="2.2" fill="#fff" fill-opacity="0.7" stroke="#6a6af2" stroke-width="0.7"/>
<circle cx="629.98" cy="334.01" r="2.2" fill="#fff" fill-opacity="0.7" stroke="#6a6af2" stroke-width="0.7"/>
<circle cx="633.05" cy="315.55" r="2.2" fill="#fff" fill-opacity="0.7" stroke="#6a6af2" stroke-width="0.7"/>
<circle cx="636.12" cy="293.21" r="2.2" fill="#fff" fill-opacity="0.7" stroke="#6a6af2" stroke-width="0.7"/>
<circle cx="639.20" cy="284.70" r="2.2" fill="#fff" fill-opacity="0.7" stroke="#6a6af2" stroke-width="0.7"/>
<circle cx="642.28" cy="292.79" r="2.2" fill="#fff" fill-opacity="0.7" stroke="#6a6af2" stroke-width="0.7"/>
<circle cx="645.35" cy="311.95" r="2.2" fill="#fff" fill-opacity="0.7" stroke="#6a6af2" stroke-width="0.7"/>
<circle cx="648.43" cy="333.87" r="2.2" fill="#fff" fill-opacity="0.7" stroke="#6a6af2" stroke-width="0.7"/>
<polyline points="553.10,405.36 577.70,372.55 602.30,345.31 626.90,340.86 651.50,339.19" fill="none" stroke="#1414f5" stroke-width="3.2" stroke-linejoin="round"/>
<circle cx="553.10" cy="405.36" r="4.6" fill="url(#gBlE)"/>
<circle cx="577.70" cy="372.55" r="4.6" fill="url(#gBlE)"/>
<circle cx="602.30" cy="345.31" r="4.6" fill="url(#gBlE)"/>
<circle cx="626.90" cy="340.86" r="4.6" fill="url(#gBlE)"/>
<circle cx="651.50" cy="339.19" r="4.6" fill="url(#gBlE)"/>
</g>
</g>
<g>
<polyline points="16,231.6 119,231.6 182.6,344 182.6,446.5" fill="none" stroke="#444" stroke-width="0.8" stroke-dasharray="2.2,1.6"/>
<line x1="26.90" y1="231.80" x2="32.84" y2="235.61" stroke="#96968f" stroke-width="2.7"/>
<line x1="26.90" y1="231.80" x2="32.84" y2="235.61" stroke="#ececE6" stroke-width="0.9" stroke-opacity="0.8"/>
<line x1="32.84" y1="235.61" x2="37.50" y2="238.60" stroke="#dd2a2a" stroke-width="2.7"/>
<line x1="32.84" y1="235.61" x2="37.50" y2="238.60" stroke="#f7a8a8" stroke-width="0.8" stroke-opacity="0.7"/>
<line x1="26.90" y1="231.80" x2="16.74" y2="235.61" stroke="#96968f" stroke-width="2.7"/>
<line x1="26.90" y1="231.80" x2="16.74" y2="235.61" stroke="#ececE6" stroke-width="0.9" stroke-opacity="0.8"/>
<line x1="16.74" y1="235.61" x2="8.75" y2="238.60" stroke="#dd2a2a" stroke-width="2.7"/>
<line x1="16.74" y1="235.61" x2="8.75" y2="238.60" stroke="#f7a8a8" stroke-width="0.8" stroke-opacity="0.7"/>
<line x1="55.65" y1="231.80" x2="61.59" y2="235.61" stroke="#96968f" stroke-width="2.7"/>
<line x1="55.65" y1="231.80" x2="61.59" y2="235.61" stroke="#ececE6" stroke-width="0.9" stroke-opacity="0.8"/>
<line x1="61.59" y1="235.61" x2="66.25" y2="238.60" stroke="#dd2a2a" stroke-width="2.7"/>
<line x1="61.59" y1="235.61" x2="66.25" y2="238.60" stroke="#f7a8a8" stroke-width="0.8" stroke-opacity="0.7"/>
<line x1="55.65" y1="231.80" x2="45.49" y2="235.61" stroke="#96968f" stroke-width="2.7"/>
<line x1="55.65" y1="231.80" x2="45.49" y2="235.61" stroke="#ececE6" stroke-width="0.9" stroke-opacity="0.8"/>
<line x1="45.49" y1="235.61" x2="37.50" y2="238.60" stroke="#dd2a2a" stroke-width="2.7"/>
<line x1="45.49" y1="235.61" x2="37.50" y2="238.60" stroke="#f7a8a8" stroke-width="0.8" stroke-opacity="0.7"/>
<line x1="84.40" y1="231.80" x2="90.34" y2="235.61" stroke="#96968f" stroke-width="2.7"/>
<line x1="84.40" y1="231.80" x2="90.34" y2="235.61" stroke="#ececE6" stroke-width="0.9" stroke-opacity="0.8"/>
<line x1="90.34" y1="235.61" x2="95.00" y2="238.60" stroke="#dd2a2a" stroke-width="2.7"/>
<line x1="90.34" y1="235.61" x2="95.00" y2="238.60" stroke="#f7a8a8" stroke-width="0.8" stroke-opacity="0.7"/>
<line x1="84.40" y1="231.80" x2="74.24" y2="235.61" stroke="#96968f" stroke-width="2.7"/>
<line x1="84.40" y1="231.80" x2="74.24" y2="235.61" stroke="#ececE6" stroke-width="0.9" stroke-opacity="0.8"/>
<line x1="74.24" y1="235.61" x2="66.25" y2="238.60" stroke="#dd2a2a" stroke-width="2.7"/>
<line x1="74.24" y1="235.61" x2="66.25" y2="238.60" stroke="#f7a8a8" stroke-width="0.8" stroke-opacity="0.7"/>
<line x1="113.15" y1="231.80" x2="119.09" y2="235.61" stroke="#96968f" stroke-width="2.7"/>
<line x1="113.15" y1="231.80" x2="119.09" y2="235.61" stroke="#ececE6" stroke-width="0.9" stroke-opacity="0.8"/>
<line x1="119.09" y1="235.61" x2="123.75" y2="238.60" stroke="#dd2a2a" stroke-width="2.7"/>
<line x1="119.09" y1="235.61" x2="123.75" y2="238.60" stroke="#f7a8a8" stroke-width="0.8" stroke-opacity="0.7"/>
<line x1="113.15" y1="231.80" x2="102.99" y2="235.61" stroke="#96968f" stroke-width="2.7"/>
<line x1="113.15" y1="231.80" x2="102.99" y2="235.61" stroke="#ececE6" stroke-width="0.9" stroke-opacity="0.8"/>
<line x1="102.99" y1="235.61" x2="95.00" y2="238.60" stroke="#dd2a2a" stroke-width="2.7"/>
<line x1="102.99" y1="235.61" x2="95.00" y2="238.60" stroke="#f7a8a8" stroke-width="0.8" stroke-opacity="0.7"/>
<line x1="9.23" y1="258.33" x2="19.39" y2="262.14" stroke="#96968f" stroke-width="2.7"/>
<line x1="9.23" y1="258.33" x2="19.39" y2="262.14" stroke="#ececE6" stroke-width="0.9" stroke-opacity="0.8"/>
<line x1="19.39" y1="262.14" x2="27.38" y2="265.13" stroke="#dd2a2a" stroke-width="2.7"/>
<line x1="19.39" y1="262.14" x2="27.38" y2="265.13" stroke="#f7a8a8" stroke-width="0.8" stroke-opacity="0.7"/>
<line x1="37.98" y1="258.33" x2="32.04" y2="262.14" stroke="#96968f" stroke-width="2.7"/>
<line x1="37.98" y1="258.33" x2="32.04" y2="262.14" stroke="#ececE6" stroke-width="0.9" stroke-opacity="0.8"/>
<line x1="32.04" y1="262.14" x2="27.38" y2="265.13" stroke="#dd2a2a" stroke-width="2.7"/>
<line x1="32.04" y1="262.14" x2="27.38" y2="265.13" stroke="#f7a8a8" stroke-width="0.8" stroke-opacity="0.7"/>
<line x1="37.98" y1="258.33" x2="48.14" y2="262.14" stroke="#96968f" stroke-width="2.7"/>
<line x1="37.98" y1="258.33" x2="48.14" y2="262.14" stroke="#ececE6" stroke-width="0.9" stroke-opacity="0.8"/>
<line x1="48.14" y1="262.14" x2="56.13" y2="265.13" stroke="#dd2a2a" stroke-width="2.7"/>
<line x1="48.14" y1="262.14" x2="56.13" y2="265.13" stroke="#f7a8a8" stroke-width="0.8" stroke-opacity="0.7"/>
<line x1="66.73" y1="258.33" x2="60.79" y2="262.14" stroke="#96968f" stroke-width="2.7"/>
<line x1="66.73" y1="258.33" x2="60.79" y2="262.14" stroke="#ececE6" stroke-width="0.9" stroke-opacity="0.8"/>
<line x1="60.79" y1="262.14" x2="56.13" y2="265.13" stroke="#dd2a2a" stroke-width="2.7"/>
<line x1="60.79" y1="262.14" x2="56.13" y2="265.13" stroke="#f7a8a8" stroke-width="0.8" stroke-opacity="0.7"/>
<line x1="66.73" y1="258.33" x2="76.89" y2="262.14" stroke="#96968f" stroke-width="2.7"/>
<line x1="66.73" y1="258.33" x2="76.89" y2="262.14" stroke="#ececE6" stroke-width="0.9" stroke-opacity="0.8"/>
<line x1="76.89" y1="262.14" x2="84.88" y2="265.13" stroke="#dd2a2a" stroke-width="2.7"/>
<line x1="76.89" y1="262.14" x2="84.88" y2="265.13" stroke="#f7a8a8" stroke-width="0.8" stroke-opacity="0.7"/>
<line x1="95.48" y1="258.33" x2="89.54" y2="262.14" stroke="#96968f" stroke-width="2.7"/>
<line x1="95.48" y1="258.33" x2="89.54" y2="262.14" stroke="#ececE6" stroke-width="0.9" stroke-opacity="0.8"/>
<line x1="89.54" y1="262.14" x2="84.88" y2="265.13" stroke="#dd2a2a" stroke-width="2.7"/>
<line x1="89.54" y1="262.14" x2="84.88" y2="265.13" stroke="#f7a8a8" stroke-width="0.8" stroke-opacity="0.7"/>
<line x1="95.48" y1="258.33" x2="105.64" y2="262.14" stroke="#96968f" stroke-width="2.7"/>
<line x1="95.48" y1="258.33" x2="105.64" y2="262.14" stroke="#ececE6" stroke-width="0.9" stroke-opacity="0.8"/>
<line x1="105.64" y1="262.14" x2="113.63" y2="265.13" stroke="#dd2a2a" stroke-width="2.7"/>
<line x1="105.64" y1="262.14" x2="113.63" y2="265.13" stroke="#f7a8a8" stroke-width="0.8" stroke-opacity="0.7"/>
<line x1="124.23" y1="258.33" x2="118.29" y2="262.14" stroke="#96968f" stroke-width="2.7"/>
<line x1="124.23" y1="258.33" x2="118.29" y2="262.14" stroke="#ececE6" stroke-width="0.9" stroke-opacity="0.8"/>
<line x1="118.29" y1="262.14" x2="113.63" y2="265.13" stroke="#dd2a2a" stroke-width="2.7"/>
<line x1="118.29" y1="262.14" x2="113.63" y2="265.13" stroke="#f7a8a8" stroke-width="0.8" stroke-opacity="0.7"/>
<line x1="27.86" y1="284.86" x2="33.80" y2="288.67" stroke="#96968f" stroke-width="2.7"/>
<line x1="27.86" y1="284.86" x2="33.80" y2="288.67" stroke="#ececE6" stroke-width="0.9" stroke-opacity="0.8"/>
<line x1="33.80" y1="288.67" x2="38.46" y2="291.66" stroke="#dd2a2a" stroke-width="2.7"/>
<line x1="33.80" y1="288.67" x2="38.46" y2="291.66" stroke="#f7a8a8" stroke-width="0.8" stroke-opacity="0.7"/>
<line x1="27.86" y1="284.86" x2="17.70" y2="288.67" stroke="#96968f" stroke-width="2.7"/>
<line x1="27.86" y1="284.86" x2="17.70" y2="288.67" stroke="#ececE6" stroke-width="0.9" stroke-opacity="0.8"/>
<line x1="17.70" y1="288.67" x2="9.71" y2="291.66" stroke="#dd2a2a" stroke-width="2.7"/>
<line x1="17.70" y1="288.67" x2="9.71" y2="291.66" stroke="#f7a8a8" stroke-width="0.8" stroke-opacity="0.7"/>
<line x1="56.61" y1="284.86" x2="62.55" y2="288.67" stroke="#96968f" stroke-width="2.7"/>
<line x1="56.61" y1="284.86" x2="62.55" y2="288.67" stroke="#ececE6" stroke-width="0.9" stroke-opacity="0.8"/>
<line x1="62.55" y1="288.67" x2="67.21" y2="291.66" stroke="#dd2a2a" stroke-width="2.7"/>
<line x1="62.55" y1="288.67" x2="67.21" y2="291.66" stroke="#f7a8a8" stroke-width="0.8" stroke-opacity="0.7"/>
<line x1="56.61" y1="284.86" x2="46.45" y2="288.67" stroke="#96968f" stroke-width="2.7"/>
<line x1="56.61" y1="284.86" x2="46.45" y2="288.67" stroke="#ececE6" stroke-width="0.9" stroke-opacity="0.8"/>
<line x1="46.45" y1="288.67" x2="38.46" y2="291.66" stroke="#dd2a2a" stroke-width="2.7"/>
<line x1="46.45" y1="288.67" x2="38.46" y2="291.66" stroke="#f7a8a8" stroke-width="0.8" stroke-opacity="0.7"/>
<line x1="85.36" y1="284.86" x2="91.30" y2="288.67" stroke="#96968f" stroke-width="2.7"/>
<line x1="85.36" y1="284.86" x2="91.30" y2="288.67" stroke="#ececE6" stroke-width="0.9" stroke-opacity="0.8"/>
<line x1="91.30" y1="288.67" x2="95.96" y2="291.66" stroke="#dd2a2a" stroke-width="2.7"/>
<line x1="91.30" y1="288.67" x2="95.96" y2="291.66" stroke="#f7a8a8" stroke-width="0.8" stroke-opacity="0.7"/>
<line x1="85.36" y1="284.86" x2="75.20" y2="288.67" stroke="#96968f" stroke-width="2.7"/>
<line x1="85.36" y1="284.86" x2="75.20" y2="288.67" stroke="#ececE6" stroke-width="0.9" stroke-opacity="0.8"/>
<line x1="75.20" y1="288.67" x2="67.21" y2="291.66" stroke="#dd2a2a" stroke-width="2.7"/>
<line x1="75.20" y1="288.67" x2="67.21" y2="291.66" stroke="#f7a8a8" stroke-width="0.8" stroke-opacity="0.7"/>
<line x1="114.11" y1="284.86" x2="120.05" y2="288.67" stroke="#96968f" stroke-width="2.7"/>
<line x1="114.11" y1="284.86" x2="120.05" y2="288.67" stroke="#ececE6" stroke-width="0.9" stroke-opacity="0.8"/>
<line x1="120.05" y1="288.67" x2="124.71" y2="291.66" stroke="#dd2a2a" stroke-width="2.7"/>
<line x1="120.05" y1="288.67" x2="124.71" y2="291.66" stroke="#f7a8a8" stroke-width="0.8" stroke-opacity="0.7"/>
<line x1="114.11" y1="284.86" x2="103.95" y2="288.67" stroke="#96968f" stroke-width="2.7"/>
<line x1="114.11" y1="284.86" x2="103.95" y2="288.67" stroke="#ececE6" stroke-width="0.9" stroke-opacity="0.8"/>
<line x1="103.95" y1="288.67" x2="95.96" y2="291.66" stroke="#dd2a2a" stroke-width="2.7"/>
<line x1="103.95" y1="288.67" x2="95.96" y2="291.66" stroke="#f7a8a8" stroke-width="0.8" stroke-opacity="0.7"/>
<line x1="142.86" y1="284.86" x2="148.80" y2="288.67" stroke="#96968f" stroke-width="2.7"/>
<line x1="142.86" y1="284.86" x2="148.80" y2="288.67" stroke="#ececE6" stroke-width="0.9" stroke-opacity="0.8"/>
<line x1="148.80" y1="288.67" x2="153.46" y2="291.66" stroke="#dd2a2a" stroke-width="2.7"/>
<line x1="148.80" y1="288.67" x2="153.46" y2="291.66" stroke="#f7a8a8" stroke-width="0.8" stroke-opacity="0.7"/>
<line x1="142.86" y1="284.86" x2="132.70" y2="288.67" stroke="#96968f" stroke-width="2.7"/>
<line x1="142.86" y1="284.86" x2="132.70" y2="288.67" stroke="#ececE6" stroke-width="0.9" stroke-opacity="0.8"/>
<line x1="132.70" y1="288.67" x2="124.71" y2="291.66" stroke="#dd2a2a" stroke-width="2.7"/>
<line x1="132.70" y1="288.67" x2="124.71" y2="291.66" stroke="#f7a8a8" stroke-width="0.8" stroke-opacity="0.7"/>
<line x1="10.19" y1="311.39" x2="20.35" y2="315.20" stroke="#96968f" stroke-width="2.7"/>
<line x1="10.19" y1="311.39" x2="20.35" y2="315.20" stroke="#ececE6" stroke-width="0.9" stroke-opacity="0.8"/>
<line x1="20.35" y1="315.20" x2="28.34" y2="318.19" stroke="#dd2a2a" stroke-width="2.7"/>
<line x1="20.35" y1="315.20" x2="28.34" y2="318.19" stroke="#f7a8a8" stroke-width="0.8" stroke-opacity="0.7"/>
<line x1="38.94" y1="311.39" x2="33.00" y2="315.20" stroke="#96968f" stroke-width="2.7"/>
<line x1="38.94" y1="311.39" x2="33.00" y2="315.20" stroke="#ececE6" stroke-width="0.9" stroke-opacity="0.8"/>
<line x1="33.00" y1="315.20" x2="28.34" y2="318.19" stroke="#dd2a2a" stroke-width="2.7"/>
<line x1="33.00" y1="315.20" x2="28.34" y2="318.19" stroke="#f7a8a8" stroke-width="0.8" stroke-opacity="0.7"/>
<line x1="38.94" y1="311.39" x2="49.10" y2="315.20" stroke="#96968f" stroke-width="2.7"/>
<line x1="38.94" y1="311.39" x2="49.10" y2="315.20" stroke="#ececE6" stroke-width="0.9" stroke-opacity="0.8"/>
<line x1="49.10" y1="315.20" x2="57.09" y2="318.19" stroke="#dd2a2a" stroke-width="2.7"/>
<line x1="49.10" y1="315.20" x2="57.09" y2="318.19" stroke="#f7a8a8" stroke-width="0.8" stroke-opacity="0.7"/>
<line x1="67.69" y1="311.39" x2="61.75" y2="315.20" stroke="#96968f" stroke-width="2.7"/>
<line x1="67.69" y1="311.39" x2="61.75" y2="315.20" stroke="#ececE6" stroke-width="0.9" stroke-opacity="0.8"/>
<line x1="61.75" y1="315.20" x2="57.09" y2="318.19" stroke="#dd2a2a" stroke-width="2.7"/>
<line x1="61.75" y1="315.20" x2="57.09" y2="318.19" stroke="#f7a8a8" stroke-width="0.8" stroke-opacity="0.7"/>
<line x1="67.69" y1="311.39" x2="77.85" y2="315.20" stroke="#96968f" stroke-width="2.7"/>
<line x1="67.69" y1="311.39" x2="77.85" y2="315.20" stroke="#ececE6" stroke-width="0.9" stroke-opacity="0.8"/>
<line x1="77.85" y1="315.20" x2="85.84" y2="318.19" stroke="#dd2a2a" stroke-width="2.7"/>
<line x1="77.85" y1="315.20" x2="85.84" y2="318.19" stroke="#f7a8a8" stroke-width="0.8" stroke-opacity="0.7"/>
<line x1="96.44" y1="311.39" x2="90.50" y2="315.20" stroke="#96968f" stroke-width="2.7"/>
<line x1="96.44" y1="311.39" x2="90.50" y2="315.20" stroke="#ececE6" stroke-width="0.9" stroke-opacity="0.8"/>
<line x1="90.50" y1="315.20" x2="85.84" y2="318.19" stroke="#dd2a2a" stroke-width="2.7"/>
<line x1="90.50" y1="315.20" x2="85.84" y2="318.19" stroke="#f7a8a8" stroke-width="0.8" stroke-opacity="0.7"/>
<line x1="96.44" y1="311.39" x2="106.60" y2="315.20" stroke="#96968f" stroke-width="2.7"/>
<line x1="96.44" y1="311.39" x2="106.60" y2="315.20" stroke="#ececE6" stroke-width="0.9" stroke-opacity="0.8"/>
<line x1="106.60" y1="315.20" x2="114.59" y2="318.19" stroke="#dd2a2a" stroke-width="2.7"/>
<line x1="106.60" y1="315.20" x2="114.59" y2="318.19" stroke="#f7a8a8" stroke-width="0.8" stroke-opacity="0.7"/>
<line x1="125.19" y1="311.39" x2="119.25" y2="315.20" stroke="#96968f" stroke-width="2.7"/>
<line x1="125.19" y1="311.39" x2="119.25" y2="315.20" stroke="#ececE6" stroke-width="0.9" stroke-opacity="0.8"/>
<line x1="119.25" y1="315.20" x2="114.59" y2="318.19" stroke="#dd2a2a" stroke-width="2.7"/>
<line x1="119.25" y1="315.20" x2="114.59" y2="318.19" stroke="#f7a8a8" stroke-width="0.8" stroke-opacity="0.7"/>
<line x1="125.19" y1="311.39" x2="135.35" y2="315.20" stroke="#96968f" stroke-width="2.7"/>
<line x1="125.19" y1="311.39" x2="135.35" y2="315.20" stroke="#ececE6" stroke-width="0.9" stroke-opacity="0.8"/>
<line x1="135.35" y1="315.20" x2="143.34" y2="318.19" stroke="#dd2a2a" stroke-width="2.7"/>
<line x1="135.35" y1="315.20" x2="143.34" y2="318.19" stroke="#f7a8a8" stroke-width="0.8" stroke-opacity="0.7"/>
<line x1="153.94" y1="311.39" x2="148.00" y2="315.20" stroke="#96968f" stroke-width="2.7"/>
<line x1="153.94" y1="311.39" x2="148.00" y2="315.20" stroke="#ececE6" stroke-width="0.9" stroke-opacity="0.8"/>
<line x1="148.00" y1="315.20" x2="143.34" y2="318.19" stroke="#dd2a2a" stroke-width="2.7"/>
<line x1="148.00" y1="315.20" x2="143.34" y2="318.19" stroke="#f7a8a8" stroke-width="0.8" stroke-opacity="0.7"/>
<line x1="28.82" y1="337.92" x2="34.76" y2="341.73" stroke="#96968f" stroke-width="2.7"/>
<line x1="28.82" y1="337.92" x2="34.76" y2="341.73" stroke="#ececE6" stroke-width="0.9" stroke-opacity="0.8"/>
<line x1="34.76" y1="341.73" x2="39.42" y2="344.72" stroke="#dd2a2a" stroke-width="2.7"/>
<line x1="34.76" y1="341.73" x2="39.42" y2="344.72" stroke="#f7a8a8" stroke-width="0.8" stroke-opacity="0.7"/>
<line x1="28.82" y1="337.92" x2="18.66" y2="341.73" stroke="#96968f" stroke-width="2.7"/>
<line x1="28.82" y1="337.92" x2="18.66" y2="341.73" stroke="#ececE6" stroke-width="0.9" stroke-opacity="0.8"/>
<line x1="18.66" y1="341.73" x2="10.67" y2="344.72" stroke="#dd2a2a" stroke-width="2.7"/>
<line x1="18.66" y1="341.73" x2="10.67" y2="344.72" stroke="#f7a8a8" stroke-width="0.8" stroke-opacity="0.7"/>
<line x1="57.57" y1="337.92" x2="63.51" y2="341.73" stroke="#96968f" stroke-width="2.7"/>
<line x1="57.57" y1="337.92" x2="63.51" y2="341.73" stroke="#ececE6" stroke-width="0.9" stroke-opacity="0.8"/>
<line x1="63.51" y1="341.73" x2="68.17" y2="344.72" stroke="#dd2a2a" stroke-width="2.7"/>
<line x1="63.51" y1="341.73" x2="68.17" y2="344.72" stroke="#f7a8a8" stroke-width="0.8" stroke-opacity="0.7"/>
<line x1="57.57" y1="337.92" x2="47.41" y2="341.73" stroke="#96968f" stroke-width="2.7"/>
<line x1="57.57" y1="337.92" x2="47.41" y2="341.73" stroke="#ececE6" stroke-width="0.9" stroke-opacity="0.8"/>
<line x1="47.41" y1="341.73" x2="39.42" y2="344.72" stroke="#dd2a2a" stroke-width="2.7"/>
<line x1="47.41" y1="341.73" x2="39.42" y2="344.72" stroke="#f7a8a8" stroke-width="0.8" stroke-opacity="0.7"/>
<line x1="86.32" y1="337.92" x2="92.26" y2="341.73" stroke="#96968f" stroke-width="2.7"/>
<line x1="86.32" y1="337.92" x2="92.26" y2="341.73" stroke="#ececE6" stroke-width="0.9" stroke-opacity="0.8"/>
<line x1="92.26" y1="341.73" x2="96.92" y2="344.72" stroke="#dd2a2a" stroke-width="2.7"/>
<line x1="92.26" y1="341.73" x2="96.92" y2="344.72" stroke="#f7a8a8" stroke-width="0.8" stroke-opacity="0.7"/>
<line x1="86.32" y1="337.92" x2="76.16" y2="341.73" stroke="#96968f" stroke-width="2.7"/>
<line x1="86.32" y1="337.92" x2="76.16" y2="341.73" stroke="#ececE6" stroke-width="0.9" stroke-opacity="0.8"/>
<line x1="76.16" y1="341.73" x2="68.17" y2="344.72" stroke="#dd2a2a" stroke-width="2.7"/>
<line x1="76.16" y1="341.73" x2="68.17" y2="344.72" stroke="#f7a8a8" stroke-width="0.8" stroke-opacity="0.7"/>
<line x1="115.07" y1="337.92" x2="121.01" y2="341.73" stroke="#96968f" stroke-width="2.7"/>
<line x1="115.07" y1="337.92" x2="121.01" y2="341.73" stroke="#ececE6" stroke-width="0.9" stroke-opacity="0.8"/>
<line x1="121.01" y1="341.73" x2="125.67" y2="344.72" stroke="#dd2a2a" stroke-width="2.7"/>
<line x1="121.01" y1="341.73" x2="125.67" y2="344.72" stroke="#f7a8a8" stroke-width="0.8" stroke-opacity="0.7"/>
<line x1="115.07" y1="337.92" x2="104.91" y2="341.73" stroke="#96968f" stroke-width="2.7"/>
<line x1="115.07" y1="337.92" x2="104.91" y2="341.73" stroke="#ececE6" stroke-width="0.9" stroke-opacity="0.8"/>
<line x1="104.91" y1="341.73" x2="96.92" y2="344.72" stroke="#dd2a2a" stroke-width="2.7"/>
<line x1="104.91" y1="341.73" x2="96.92" y2="344.72" stroke="#f7a8a8" stroke-width="0.8" stroke-opacity="0.7"/>
<line x1="143.82" y1="337.92" x2="149.76" y2="341.73" stroke="#96968f" stroke-width="2.7"/>
<line x1="143.82" y1="337.92" x2="149.76" y2="341.73" stroke="#ececE6" stroke-width="0.9" stroke-opacity="0.8"/>
<line x1="149.76" y1="341.73" x2="154.42" y2="344.72" stroke="#dd2a2a" stroke-width="2.7"/>
<line x1="149.76" y1="341.73" x2="154.42" y2="344.72" stroke="#f7a8a8" stroke-width="0.8" stroke-opacity="0.7"/>
<line x1="143.82" y1="337.92" x2="133.66" y2="341.73" stroke="#96968f" stroke-width="2.7"/>
<line x1="143.82" y1="337.92" x2="133.66" y2="341.73" stroke="#ececE6" stroke-width="0.9" stroke-opacity="0.8"/>
<line x1="133.66" y1="341.73" x2="125.67" y2="344.72" stroke="#dd2a2a" stroke-width="2.7"/>
<line x1="133.66" y1="341.73" x2="125.67" y2="344.72" stroke="#f7a8a8" stroke-width="0.8" stroke-opacity="0.7"/>
<line x1="172.57" y1="337.92" x2="178.51" y2="341.73" stroke="#96968f" stroke-width="2.7"/>
<line x1="172.57" y1="337.92" x2="178.51" y2="341.73" stroke="#ececE6" stroke-width="0.9" stroke-opacity="0.8"/>
<line x1="178.51" y1="341.73" x2="183.17" y2="344.72" stroke="#dd2a2a" stroke-width="2.7"/>
<line x1="178.51" y1="341.73" x2="183.17" y2="344.72" stroke="#f7a8a8" stroke-width="0.8" stroke-opacity="0.7"/>
<line x1="172.57" y1="337.92" x2="162.41" y2="341.73" stroke="#96968f" stroke-width="2.7"/>
<line x1="172.57" y1="337.92" x2="162.41" y2="341.73" stroke="#ececE6" stroke-width="0.9" stroke-opacity="0.8"/>
<line x1="162.41" y1="341.73" x2="154.42" y2="344.72" stroke="#dd2a2a" stroke-width="2.7"/>
<line x1="162.41" y1="341.73" x2="154.42" y2="344.72" stroke="#f7a8a8" stroke-width="0.8" stroke-opacity="0.7"/>
<line x1="11.15" y1="364.45" x2="21.31" y2="368.26" stroke="#96968f" stroke-width="2.7"/>
<line x1="11.15" y1="364.45" x2="21.31" y2="368.26" stroke="#ececE6" stroke-width="0.9" stroke-opacity="0.8"/>
<line x1="21.31" y1="368.26" x2="29.30" y2="371.25" stroke="#dd2a2a" stroke-width="2.7"/>
<line x1="21.31" y1="368.26" x2="29.30" y2="371.25" stroke="#f7a8a8" stroke-width="0.8" stroke-opacity="0.7"/>
<line x1="39.90" y1="364.45" x2="33.96" y2="368.26" stroke="#96968f" stroke-width="2.7"/>
<line x1="39.90" y1="364.45" x2="33.96" y2="368.26" stroke="#ececE6" stroke-width="0.9" stroke-opacity="0.8"/>
<line x1="33.96" y1="368.26" x2="29.30" y2="371.25" stroke="#dd2a2a" stroke-width="2.7"/>
<line x1="33.96" y1="368.26" x2="29.30" y2="371.25" stroke="#f7a8a8" stroke-width="0.8" stroke-opacity="0.7"/>
<line x1="39.90" y1="364.45" x2="50.06" y2="368.26" stroke="#96968f" stroke-width="2.7"/>
<line x1="39.90" y1="364.45" x2="50.06" y2="368.26" stroke="#ececE6" stroke-width="0.9" stroke-opacity="0.8"/>
<line x1="50.06" y1="368.26" x2="58.05" y2="371.25" stroke="#dd2a2a" stroke-width="2.7"/>
<line x1="50.06" y1="368.26" x2="58.05" y2="371.25" stroke="#f7a8a8" stroke-width="0.8" stroke-opacity="0.7"/>
<line x1="68.65" y1="364.45" x2="62.71" y2="368.26" stroke="#96968f" stroke-width="2.7"/>
<line x1="68.65" y1="364.45" x2="62.71" y2="368.26" stroke="#ececE6" stroke-width="0.9" stroke-opacity="0.8"/>
<line x1="62.71" y1="368.26" x2="58.05" y2="371.25" stroke="#dd2a2a" stroke-width="2.7"/>
<line x1="62.71" y1="368.26" x2="58.05" y2="371.25" stroke="#f7a8a8" stroke-width="0.8" stroke-opacity="0.7"/>
<line x1="68.65" y1="364.45" x2="78.81" y2="368.26" stroke="#96968f" stroke-width="2.7"/>
<line x1="68.65" y1="364.45" x2="78.81" y2="368.26" stroke="#ececE6" stroke-width="0.9" stroke-opacity="0.8"/>
<line x1="78.81" y1="368.26" x2="86.80" y2="371.25" stroke="#dd2a2a" stroke-width="2.7"/>
<line x1="78.81" y1="368.26" x2="86.80" y2="371.25" stroke="#f7a8a8" stroke-width="0.8" stroke-opacity="0.7"/>
<line x1="97.40" y1="364.45" x2="91.46" y2="368.26" stroke="#96968f" stroke-width="2.7"/>
<line x1="97.40" y1="364.45" x2="91.46" y2="368.26" stroke="#ececE6" stroke-width="0.9" stroke-opacity="0.8"/>
<line x1="91.46" y1="368.26" x2="86.80" y2="371.25" stroke="#dd2a2a" stroke-width="2.7"/>
<line x1="91.46" y1="368.26" x2="86.80" y2="371.25" stroke="#f7a8a8" stroke-width="0.8" stroke-opacity="0.7"/>
<line x1="97.40" y1="364.45" x2="107.56" y2="368.26" stroke="#96968f" stroke-width="2.7"/>
<line x1="97.40" y1="364.45" x2="107.56" y2="368.26" stroke="#ececE6" stroke-width="0.9" stroke-opacity="0.8"/>
<line x1="107.56" y1="368.26" x2="115.55" y2="371.25" stroke="#dd2a2a" stroke-width="2.7"/>
<line x1="107.56" y1="368.26" x2="115.55" y2="371.25" stroke="#f7a8a8" stroke-width="0.8" stroke-opacity="0.7"/>
<line x1="126.15" y1="364.45" x2="120.21" y2="368.26" stroke="#96968f" stroke-width="2.7"/>
<line x1="126.15" y1="364.45" x2="120.21" y2="368.26" stroke="#ececE6" stroke-width="0.9" stroke-opacity="0.8"/>
<line x1="120.21" y1="368.26" x2="115.55" y2="371.25" stroke="#dd2a2a" stroke-width="2.7"/>
<line x1="120.21" y1="368.26" x2="115.55" y2="371.25" stroke="#f7a8a8" stroke-width="0.8" stroke-opacity="0.7"/>
<line x1="126.15" y1="364.45" x2="136.31" y2="368.26" stroke="#96968f" stroke-width="2.7"/>
<line x1="126.15" y1="364.45" x2="136.31" y2="368.26" stroke="#ececE6" stroke-width="0.9" stroke-opacity="0.8"/>
<line x1="136.31" y1="368.26" x2="144.30" y2="371.25" stroke="#dd2a2a" stroke-width="2.7"/>
<line x1="136.31" y1="368.26" x2="144.30" y2="371.25" stroke="#f7a8a8" stroke-width="0.8" stroke-opacity="0.7"/>
<line x1="154.90" y1="364.45" x2="148.96" y2="368.26" stroke="#96968f" stroke-width="2.7"/>
<line x1="154.90" y1="364.45" x2="148.96" y2="368.26" stroke="#ececE6" stroke-width="0.9" stroke-opacity="0.8"/>
<line x1="148.96" y1="368.26" x2="144.30" y2="371.25" stroke="#dd2a2a" stroke-width="2.7"/>
<line x1="148.96" y1="368.26" x2="144.30" y2="371.25" stroke="#f7a8a8" stroke-width="0.8" stroke-opacity="0.7"/>
<line x1="154.90" y1="364.45" x2="165.06" y2="368.26" stroke="#96968f" stroke-width="2.7"/>
<line x1="154.90" y1="364.45" x2="165.06" y2="368.26" stroke="#ececE6" stroke-width="0.9" stroke-opacity="0.8"/>
<line x1="165.06" y1="368.26" x2="173.05" y2="371.25" stroke="#dd2a2a" stroke-width="2.7"/>
<line x1="165.06" y1="368.26" x2="173.05" y2="371.25" stroke="#f7a8a8" stroke-width="0.8" stroke-opacity="0.7"/>
<line x1="183.65" y1="364.45" x2="177.71" y2="368.26" stroke="#96968f" stroke-width="2.7"/>
<line x1="183.65" y1="364.45" x2="177.71" y2="368.26" stroke="#ececE6" stroke-width="0.9" stroke-opacity="0.8"/>
<line x1="177.71" y1="368.26" x2="173.05" y2="371.25" stroke="#dd2a2a" stroke-width="2.7"/>
<line x1="177.71" y1="368.26" x2="173.05" y2="371.25" stroke="#f7a8a8" stroke-width="0.8" stroke-opacity="0.7"/>
<line x1="29.78" y1="390.98" x2="35.72" y2="394.79" stroke="#96968f" stroke-width="2.7"/>
<line x1="29.78" y1="390.98" x2="35.72" y2="394.79" stroke="#ececE6" stroke-width="0.9" stroke-opacity="0.8"/>
<line x1="35.72" y1="394.79" x2="40.38" y2="397.78" stroke="#dd2a2a" stroke-width="2.7"/>
<line x1="35.72" y1="394.79" x2="40.38" y2="397.78" stroke="#f7a8a8" stroke-width="0.8" stroke-opacity="0.7"/>
<line x1="29.78" y1="390.98" x2="19.62" y2="394.79" stroke="#96968f" stroke-width="2.7"/>
<line x1="29.78" y1="390.98" x2="19.62" y2="394.79" stroke="#ececE6" stroke-width="0.9" stroke-opacity="0.8"/>
<line x1="19.62" y1="394.79" x2="11.63" y2="397.78" stroke="#dd2a2a" stroke-width="2.7"/>
<line x1="19.62" y1="394.79" x2="11.63" y2="397.78" stroke="#f7a8a8" stroke-width="0.8" stroke-opacity="0.7"/>
<line x1="58.53" y1="390.98" x2="64.47" y2="394.79" stroke="#96968f" stroke-width="2.7"/>
<line x1="58.53" y1="390.98" x2="64.47" y2="394.79" stroke="#ececE6" stroke-width="0.9" stroke-opacity="0.8"/>
<line x1="64.47" y1="394.79" x2="69.13" y2="397.78" stroke="#dd2a2a" stroke-width="2.7"/>
<line x1="64.47" y1="394.79" x2="69.13" y2="397.78" stroke="#f7a8a8" stroke-width="0.8" stroke-opacity="0.7"/>
<line x1="58.53" y1="390.98" x2="48.37" y2="394.79" stroke="#96968f" stroke-width="2.7"/>
<line x1="58.53" y1="390.98" x2="48.37" y2="394.79" stroke="#ececE6" stroke-width="0.9" stroke-opacity="0.8"/>
<line x1="48.37" y1="394.79" x2="40.38" y2="397.78" stroke="#dd2a2a" stroke-width="2.7"/>
<line x1="48.37" y1="394.79" x2="40.38" y2="397.78" stroke="#f7a8a8" stroke-width="0.8" stroke-opacity="0.7"/>
<line x1="87.28" y1="390.98" x2="93.22" y2="394.79" stroke="#96968f" stroke-width="2.7"/>
<line x1="87.28" y1="390.98" x2="93.22" y2="394.79" stroke="#ececE6" stroke-width="0.9" stroke-opacity="0.8"/>
<line x1="93.22" y1="394.79" x2="97.88" y2="397.78" stroke="#dd2a2a" stroke-width="2.7"/>
<line x1="93.22" y1="394.79" x2="97.88" y2="397.78" stroke="#f7a8a8" stroke-width="0.8" stroke-opacity="0.7"/>
<line x1="87.28" y1="390.98" x2="77.12" y2="394.79" stroke="#96968f" stroke-width="2.7"/>
<line x1="87.28" y1="390.98" x2="77.12" y2="394.79" stroke="#ececE6" stroke-width="0.9" stroke-opacity="0.8"/>
<line x1="77.12" y1="394.79" x2="69.13" y2="397.78" stroke="#dd2a2a" stroke-width="2.7"/>
<line x1="77.12" y1="394.79" x2="69.13" y2="397.78" stroke="#f7a8a8" stroke-width="0.8" stroke-opacity="0.7"/>
<line x1="116.03" y1="390.98" x2="121.97" y2="394.79" stroke="#96968f" stroke-width="2.7"/>
<line x1="116.03" y1="390.98" x2="121.97" y2="394.79" stroke="#ececE6" stroke-width="0.9" stroke-opacity="0.8"/>
<line x1="121.97" y1="394.79" x2="126.63" y2="397.78" stroke="#dd2a2a" stroke-width="2.7"/>
<line x1="121.97" y1="394.79" x2="126.63" y2="397.78" stroke="#f7a8a8" stroke-width="0.8" stroke-opacity="0.7"/>
<line x1="116.03" y1="390.98" x2="105.87" y2="394.79" stroke="#96968f" stroke-width="2.7"/>
<line x1="116.03" y1="390.98" x2="105.87" y2="394.79" stroke="#ececE6" stroke-width="0.9" stroke-opacity="0.8"/>
<line x1="105.87" y1="394.79" x2="97.88" y2="397.78" stroke="#dd2a2a" stroke-width="2.7"/>
<line x1="105.87" y1="394.79" x2="97.88" y2="397.78" stroke="#f7a8a8" stroke-width="0.8" stroke-opacity="0.7"/>
<line x1="144.78" y1="390.98" x2="150.72" y2="394.79" stroke="#96968f" stroke-width="2.7"/>
<line x1="144.78" y1="390.98" x2="150.72" y2="394.79" stroke="#ececE6" stroke-width="0.9" stroke-opacity="0.8"/>
<line x1="150.72" y1="394.79" x2="155.38" y2="397.78" stroke="#dd2a2a" stroke-width="2.7"/>
<line x1="150.72" y1="394.79" x2="155.38" y2="397.78" stroke="#f7a8a8" stroke-width="0.8" stroke-opacity="0.7"/>
<line x1="144.78" y1="390.98" x2="134.62" y2="394.79" stroke="#96968f" stroke-width="2.7"/>
<line x1="144.78" y1="390.98" x2="134.62" y2="394.79" stroke="#ececE6" stroke-width="0.9" stroke-opacity="0.8"/>
<line x1="134.62" y1="394.79" x2="126.63" y2="397.78" stroke="#dd2a2a" stroke-width="2.7"/>
<line x1="134.62" y1="394.79" x2="126.63" y2="397.78" stroke="#f7a8a8" stroke-width="0.8" stroke-opacity="0.7"/>
<line x1="173.53" y1="390.98" x2="179.47" y2="394.79" stroke="#96968f" stroke-width="2.7"/>
<line x1="173.53" y1="390.98" x2="179.47" y2="394.79" stroke="#ececE6" stroke-width="0.9" stroke-opacity="0.8"/>
<line x1="179.47" y1="394.79" x2="184.13" y2="397.78" stroke="#dd2a2a" stroke-width="2.7"/>
<line x1="179.47" y1="394.79" x2="184.13" y2="397.78" stroke="#f7a8a8" stroke-width="0.8" stroke-opacity="0.7"/>
<line x1="173.53" y1="390.98" x2="163.37" y2="394.79" stroke="#96968f" stroke-width="2.7"/>
<line x1="173.53" y1="390.98" x2="163.37" y2="394.79" stroke="#ececE6" stroke-width="0.9" stroke-opacity="0.8"/>
<line x1="163.37" y1="394.79" x2="155.38" y2="397.78" stroke="#dd2a2a" stroke-width="2.7"/>
<line x1="163.37" y1="394.79" x2="155.38" y2="397.78" stroke="#f7a8a8" stroke-width="0.8" stroke-opacity="0.7"/>
<line x1="12.11" y1="417.51" x2="22.27" y2="421.32" stroke="#96968f" stroke-width="2.7"/>
<line x1="12.11" y1="417.51" x2="22.27" y2="421.32" stroke="#ececE6" stroke-width="0.9" stroke-opacity="0.8"/>
<line x1="22.27" y1="421.32" x2="30.26" y2="424.31" stroke="#dd2a2a" stroke-width="2.7"/>
<line x1="22.27" y1="421.32" x2="30.26" y2="424.31" stroke="#f7a8a8" stroke-width="0.8" stroke-opacity="0.7"/>
<line x1="40.86" y1="417.51" x2="34.92" y2="421.32" stroke="#96968f" stroke-width="2.7"/>
<line x1="40.86" y1="417.51" x2="34.92" y2="421.32" stroke="#ececE6" stroke-width="0.9" stroke-opacity="0.8"/>
<line x1="34.92" y1="421.32" x2="30.26" y2="424.31" stroke="#dd2a2a" stroke-width="2.7"/>
<line x1="34.92" y1="421.32" x2="30.26" y2="424.31" stroke="#f7a8a8" stroke-width="0.8" stroke-opacity="0.7"/>
<line x1="40.86" y1="417.51" x2="51.02" y2="421.32" stroke="#96968f" stroke-width="2.7"/>
<line x1="40.86" y1="417.51" x2="51.02" y2="421.32" stroke="#ececE6" stroke-width="0.9" stroke-opacity="0.8"/>
<line x1="51.02" y1="421.32" x2="59.01" y2="424.31" stroke="#dd2a2a" stroke-width="2.7"/>
<line x1="51.02" y1="421.32" x2="59.01" y2="424.31" stroke="#f7a8a8" stroke-width="0.8" stroke-opacity="0.7"/>
<line x1="69.61" y1="417.51" x2="63.67" y2="421.32" stroke="#96968f" stroke-width="2.7"/>
<line x1="69.61" y1="417.51" x2="63.67" y2="421.32" stroke="#ececE6" stroke-width="0.9" stroke-opacity="0.8"/>
<line x1="63.67" y1="421.32" x2="59.01" y2="424.31" stroke="#dd2a2a" stroke-width="2.7"/>
<line x1="63.67" y1="421.32" x2="59.01" y2="424.31" stroke="#f7a8a8" stroke-width="0.8" stroke-opacity="0.7"/>
<line x1="69.61" y1="417.51" x2="79.77" y2="421.32" stroke="#96968f" stroke-width="2.7"/>
<line x1="69.61" y1="417.51" x2="79.77" y2="421.32" stroke="#ececE6" stroke-width="0.9" stroke-opacity="0.8"/>
<line x1="79.77" y1="421.32" x2="87.76" y2="424.31" stroke="#dd2a2a" stroke-width="2.7"/>
<line x1="79.77" y1="421.32" x2="87.76" y2="424.31" stroke="#f7a8a8" stroke-width="0.8" stroke-opacity="0.7"/>
<line x1="98.36" y1="417.51" x2="92.42" y2="421.32" stroke="#96968f" stroke-width="2.7"/>
<line x1="98.36" y1="417.51" x2="92.42" y2="421.32" stroke="#ececE6" stroke-width="0.9" stroke-opacity="0.8"/>
<line x1="92.42" y1="421.32" x2="87.76" y2="424.31" stroke="#dd2a2a" stroke-width="2.7"/>
<line x1="92.42" y1="421.32" x2="87.76" y2="424.31" stroke="#f7a8a8" stroke-width="0.8" stroke-opacity="0.7"/>
<line x1="98.36" y1="417.51" x2="108.52" y2="421.32" stroke="#96968f" stroke-width="2.7"/>
<line x1="98.36" y1="417.51" x2="108.52" y2="421.32" stroke="#ececE6" stroke-width="0.9" stroke-opacity="0.8"/>
<line x1="108.52" y1="421.32" x2="116.51" y2="424.31" stroke="#dd2a2a" stroke-width="2.7"/>
<line x1="108.52" y1="421.32" x2="116.51" y2="424.31" stroke="#f7a8a8" stroke-width="0.8" stroke-opacity="0.7"/>
<line x1="127.11" y1="417.51" x2="121.17" y2="421.32" stroke="#96968f" stroke-width="2.7"/>
<line x1="127.11" y1="417.51" x2="121.17" y2="421.32" stroke="#ececE6" stroke-width="0.9" stroke-opacity="0.8"/>
<line x1="121.17" y1="421.32" x2="116.51" y2="424.31" stroke="#dd2a2a" stroke-width="2.7"/>
<line x1="121.17" y1="421.32" x2="116.51" y2="424.31" stroke="#f7a8a8" stroke-width="0.8" stroke-opacity="0.7"/>
<line x1="127.11" y1="417.51" x2="137.27" y2="421.32" stroke="#96968f" stroke-width="2.7"/>
<line x1="127.11" y1="417.51" x2="137.27" y2="421.32" stroke="#ececE6" stroke-width="0.9" stroke-opacity="0.8"/>
<line x1="137.27" y1="421.32" x2="145.26" y2="424.31" stroke="#dd2a2a" stroke-width="2.7"/>
<line x1="137.27" y1="421.32" x2="145.26" y2="424.31" stroke="#f7a8a8" stroke-width="0.8" stroke-opacity="0.7"/>
<line x1="155.86" y1="417.51" x2="149.92" y2="421.32" stroke="#96968f" stroke-width="2.7"/>
<line x1="155.86" y1="417.51" x2="149.92" y2="421.32" stroke="#ececE6" stroke-width="0.9" stroke-opacity="0.8"/>
<line x1="149.92" y1="421.32" x2="145.26" y2="424.31" stroke="#dd2a2a" stroke-width="2.7"/>
<line x1="149.92" y1="421.32" x2="145.26" y2="424.31" stroke="#f7a8a8" stroke-width="0.8" stroke-opacity="0.7"/>
<line x1="155.86" y1="417.51" x2="166.02" y2="421.32" stroke="#96968f" stroke-width="2.7"/>
<line x1="155.86" y1="417.51" x2="166.02" y2="421.32" stroke="#ececE6" stroke-width="0.9" stroke-opacity="0.8"/>
<line x1="166.02" y1="421.32" x2="174.01" y2="424.31" stroke="#dd2a2a" stroke-width="2.7"/>
<line x1="166.02" y1="421.32" x2="174.01" y2="424.31" stroke="#f7a8a8" stroke-width="0.8" stroke-opacity="0.7"/>
<line x1="184.61" y1="417.51" x2="178.67" y2="421.32" stroke="#96968f" stroke-width="2.7"/>
<line x1="184.61" y1="417.51" x2="178.67" y2="421.32" stroke="#ececE6" stroke-width="0.9" stroke-opacity="0.8"/>
<line x1="178.67" y1="421.32" x2="174.01" y2="424.31" stroke="#dd2a2a" stroke-width="2.7"/>
<line x1="178.67" y1="421.32" x2="174.01" y2="424.31" stroke="#f7a8a8" stroke-width="0.8" stroke-opacity="0.7"/>
<line x1="30.74" y1="444.04" x2="36.68" y2="447.85" stroke="#96968f" stroke-width="2.7"/>
<line x1="30.74" y1="444.04" x2="36.68" y2="447.85" stroke="#ececE6" stroke-width="0.9" stroke-opacity="0.8"/>
<line x1="36.68" y1="447.85" x2="41.34" y2="450.84" stroke="#dd2a2a" stroke-width="2.7"/>
<line x1="36.68" y1="447.85" x2="41.34" y2="450.84" stroke="#f7a8a8" stroke-width="0.8" stroke-opacity="0.7"/>
<line x1="30.74" y1="444.04" x2="20.58" y2="447.85" stroke="#96968f" stroke-width="2.7"/>
<line x1="30.74" y1="444.04" x2="20.58" y2="447.85" stroke="#ececE6" stroke-width="0.9" stroke-opacity="0.8"/>
<line x1="20.58" y1="447.85" x2="12.59" y2="450.84" stroke="#dd2a2a" stroke-width="2.7"/>
<line x1="20.58" y1="447.85" x2="12.59" y2="450.84" stroke="#f7a8a8" stroke-width="0.8" stroke-opacity="0.7"/>
<line x1="59.49" y1="444.04" x2="65.43" y2="447.85" stroke="#96968f" stroke-width="2.7"/>
<line x1="59.49" y1="444.04" x2="65.43" y2="447.85" stroke="#ececE6" stroke-width="0.9" stroke-opacity="0.8"/>
<line x1="65.43" y1="447.85" x2="70.09" y2="450.84" stroke="#dd2a2a" stroke-width="2.7"/>
<line x1="65.43" y1="447.85" x2="70.09" y2="450.84" stroke="#f7a8a8" stroke-width="0.8" stroke-opacity="0.7"/>
<line x1="59.49" y1="444.04" x2="49.33" y2="447.85" stroke="#96968f" stroke-width="2.7"/>
<line x1="59.49" y1="444.04" x2="49.33" y2="447.85" stroke="#ececE6" stroke-width="0.9" stroke-opacity="0.8"/>
<line x1="49.33" y1="447.85" x2="41.34" y2="450.84" stroke="#dd2a2a" stroke-width="2.7"/>
<line x1="49.33" y1="447.85" x2="41.34" y2="450.84" stroke="#f7a8a8" stroke-width="0.8" stroke-opacity="0.7"/>
<line x1="88.24" y1="444.04" x2="94.18" y2="447.85" stroke="#96968f" stroke-width="2.7"/>
<line x1="88.24" y1="444.04" x2="94.18" y2="447.85" stroke="#ececE6" stroke-width="0.9" stroke-opacity="0.8"/>
<line x1="94.18" y1="447.85" x2="98.84" y2="450.84" stroke="#dd2a2a" stroke-width="2.7"/>
<line x1="94.18" y1="447.85" x2="98.84" y2="450.84" stroke="#f7a8a8" stroke-width="0.8" stroke-opacity="0.7"/>
<line x1="88.24" y1="444.04" x2="78.08" y2="447.85" stroke="#96968f" stroke-width="2.7"/>
<line x1="88.24" y1="444.04" x2="78.08" y2="447.85" stroke="#ececE6" stroke-width="0.9" stroke-opacity="0.8"/>
<line x1="78.08" y1="447.85" x2="70.09" y2="450.84" stroke="#dd2a2a" stroke-width="2.7"/>
<line x1="78.08" y1="447.85" x2="70.09" y2="450.84" stroke="#f7a8a8" stroke-width="0.8" stroke-opacity="0.7"/>
<line x1="116.99" y1="444.04" x2="122.93" y2="447.85" stroke="#96968f" stroke-width="2.7"/>
<line x1="116.99" y1="444.04" x2="122.93" y2="447.85" stroke="#ececE6" stroke-width="0.9" stroke-opacity="0.8"/>
<line x1="122.93" y1="447.85" x2="127.59" y2="450.84" stroke="#dd2a2a" stroke-width="2.7"/>
<line x1="122.93" y1="447.85" x2="127.59" y2="450.84" stroke="#f7a8a8" stroke-width="0.8" stroke-opacity="0.7"/>
<line x1="116.99" y1="444.04" x2="106.83" y2="447.85" stroke="#96968f" stroke-width="2.7"/>
<line x1="116.99" y1="444.04" x2="106.83" y2="447.85" stroke="#ececE6" stroke-width="0.9" stroke-opacity="0.8"/>
<line x1="106.83" y1="447.85" x2="98.84" y2="450.84" stroke="#dd2a2a" stroke-width="2.7"/>
<line x1="106.83" y1="447.85" x2="98.84" y2="450.84" stroke="#f7a8a8" stroke-width="0.8" stroke-opacity="0.7"/>
<line x1="145.74" y1="444.04" x2="151.68" y2="447.85" stroke="#96968f" stroke-width="2.7"/>
<line x1="145.74" y1="444.04" x2="151.68" y2="447.85" stroke="#ececE6" stroke-width="0.9" stroke-opacity="0.8"/>
<line x1="151.68" y1="447.85" x2="156.34" y2="450.84" stroke="#dd2a2a" stroke-width="2.7"/>
<line x1="151.68" y1="447.85" x2="156.34" y2="450.84" stroke="#f7a8a8" stroke-width="0.8" stroke-opacity="0.7"/>
<line x1="145.74" y1="444.04" x2="135.58" y2="447.85" stroke="#96968f" stroke-width="2.7"/>
<line x1="145.74" y1="444.04" x2="135.58" y2="447.85" stroke="#ececE6" stroke-width="0.9" stroke-opacity="0.8"/>
<line x1="135.58" y1="447.85" x2="127.59" y2="450.84" stroke="#dd2a2a" stroke-width="2.7"/>
<line x1="135.58" y1="447.85" x2="127.59" y2="450.84" stroke="#f7a8a8" stroke-width="0.8" stroke-opacity="0.7"/>
<line x1="174.49" y1="444.04" x2="180.43" y2="447.85" stroke="#96968f" stroke-width="2.7"/>
<line x1="174.49" y1="444.04" x2="180.43" y2="447.85" stroke="#ececE6" stroke-width="0.9" stroke-opacity="0.8"/>
<line x1="180.43" y1="447.85" x2="185.09" y2="450.84" stroke="#dd2a2a" stroke-width="2.7"/>
<line x1="180.43" y1="447.85" x2="185.09" y2="450.84" stroke="#f7a8a8" stroke-width="0.8" stroke-opacity="0.7"/>
<line x1="174.49" y1="444.04" x2="164.33" y2="447.85" stroke="#96968f" stroke-width="2.7"/>
<line x1="174.49" y1="444.04" x2="164.33" y2="447.85" stroke="#ececE6" stroke-width="0.9" stroke-opacity="0.8"/>
<line x1="164.33" y1="447.85" x2="156.34" y2="450.84" stroke="#dd2a2a" stroke-width="2.7"/>
<line x1="164.33" y1="447.85" x2="156.34" y2="450.84" stroke="#f7a8a8" stroke-width="0.8" stroke-opacity="0.7"/>
<line x1="37.98" y1="258.33" x2="37.71" y2="247.28" stroke="#96968f" stroke-width="2.7"/>
<line x1="37.98" y1="258.33" x2="37.71" y2="247.28" stroke="#ececE6" stroke-width="0.9" stroke-opacity="0.8"/>
<line x1="37.71" y1="247.28" x2="37.50" y2="238.60" stroke="#dd2a2a" stroke-width="2.7"/>
<line x1="37.71" y1="247.28" x2="37.50" y2="238.60" stroke="#f7a8a8" stroke-width="0.8" stroke-opacity="0.7"/>
<line x1="66.73" y1="258.33" x2="66.46" y2="247.28" stroke="#96968f" stroke-width="2.7"/>
<line x1="66.73" y1="258.33" x2="66.46" y2="247.28" stroke="#ececE6" stroke-width="0.9" stroke-opacity="0.8"/>
<line x1="66.46" y1="247.28" x2="66.25" y2="238.60" stroke="#dd2a2a" stroke-width="2.7"/>
<line x1="66.46" y1="247.28" x2="66.25" y2="238.60" stroke="#f7a8a8" stroke-width="0.8" stroke-opacity="0.7"/>
<line x1="95.48" y1="258.33" x2="95.21" y2="247.28" stroke="#96968f" stroke-width="2.7"/>
<line x1="95.48" y1="258.33" x2="95.21" y2="247.28" stroke="#ececE6" stroke-width="0.9" stroke-opacity="0.8"/>
<line x1="95.21" y1="247.28" x2="95.00" y2="238.60" stroke="#dd2a2a" stroke-width="2.7"/>
<line x1="95.21" y1="247.28" x2="95.00" y2="238.60" stroke="#f7a8a8" stroke-width="0.8" stroke-opacity="0.7"/>
<line x1="124.23" y1="258.33" x2="123.96" y2="247.28" stroke="#96968f" stroke-width="2.7"/>
<line x1="124.23" y1="258.33" x2="123.96" y2="247.28" stroke="#ececE6" stroke-width="0.9" stroke-opacity="0.8"/>
<line x1="123.96" y1="247.28" x2="123.75" y2="238.60" stroke="#dd2a2a" stroke-width="2.7"/>
<line x1="123.96" y1="247.28" x2="123.75" y2="238.60" stroke="#f7a8a8" stroke-width="0.8" stroke-opacity="0.7"/>
<line x1="27.86" y1="284.86" x2="27.59" y2="273.81" stroke="#96968f" stroke-width="2.7"/>
<line x1="27.86" y1="284.86" x2="27.59" y2="273.81" stroke="#ececE6" stroke-width="0.9" stroke-opacity="0.8"/>
<line x1="27.59" y1="273.81" x2="27.38" y2="265.13" stroke="#dd2a2a" stroke-width="2.7"/>
<line x1="27.59" y1="273.81" x2="27.38" y2="265.13" stroke="#f7a8a8" stroke-width="0.8" stroke-opacity="0.7"/>
<line x1="56.61" y1="284.86" x2="56.34" y2="273.81" stroke="#96968f" stroke-width="2.7"/>
<line x1="56.61" y1="284.86" x2="56.34" y2="273.81" stroke="#ececE6" stroke-width="0.9" stroke-opacity="0.8"/>
<line x1="56.34" y1="273.81" x2="56.13" y2="265.13" stroke="#dd2a2a" stroke-width="2.7"/>
<line x1="56.34" y1="273.81" x2="56.13" y2="265.13" stroke="#f7a8a8" stroke-width="0.8" stroke-opacity="0.7"/>
<line x1="85.36" y1="284.86" x2="85.09" y2="273.81" stroke="#96968f" stroke-width="2.7"/>
<line x1="85.36" y1="284.86" x2="85.09" y2="273.81" stroke="#ececE6" stroke-width="0.9" stroke-opacity="0.8"/>
<line x1="85.09" y1="273.81" x2="84.88" y2="265.13" stroke="#dd2a2a" stroke-width="2.7"/>
<line x1="85.09" y1="273.81" x2="84.88" y2="265.13" stroke="#f7a8a8" stroke-width="0.8" stroke-opacity="0.7"/>
<line x1="114.11" y1="284.86" x2="113.84" y2="273.81" stroke="#96968f" stroke-width="2.7"/>
<line x1="114.11" y1="284.86" x2="113.84" y2="273.81" stroke="#ececE6" stroke-width="0.9" stroke-opacity="0.8"/>
<line x1="113.84" y1="273.81" x2="113.63" y2="265.13" stroke="#dd2a2a" stroke-width="2.7"/>
<line x1="113.84" y1="273.81" x2="113.63" y2="265.13" stroke="#f7a8a8" stroke-width="0.8" stroke-opacity="0.7"/>
<line x1="38.94" y1="311.39" x2="38.67" y2="300.34" stroke="#96968f" stroke-width="2.7"/>
<line x1="38.94" y1="311.39" x2="38.67" y2="300.34" stroke="#ececE6" stroke-width="0.9" stroke-opacity="0.8"/>
<line x1="38.67" y1="300.34" x2="38.46" y2="291.66" stroke="#dd2a2a" stroke-width="2.7"/>
<line x1="38.67" y1="300.34" x2="38.46" y2="291.66" stroke="#f7a8a8" stroke-width="0.8" stroke-opacity="0.7"/>
<line x1="67.69" y1="311.39" x2="67.42" y2="300.34" stroke="#96968f" stroke-width="2.7"/>
<line x1="67.69" y1="311.39" x2="67.42" y2="300.34" stroke="#ececE6" stroke-width="0.9" stroke-opacity="0.8"/>
<line x1="67.42" y1="300.34" x2="67.21" y2="291.66" stroke="#dd2a2a" stroke-width="2.7"/>
<line x1="67.42" y1="300.34" x2="67.21" y2="291.66" stroke="#f7a8a8" stroke-width="0.8" stroke-opacity="0.7"/>
<line x1="96.44" y1="311.39" x2="96.17" y2="300.34" stroke="#96968f" stroke-width="2.7"/>
<line x1="96.44" y1="311.39" x2="96.17" y2="300.34" stroke="#ececE6" stroke-width="0.9" stroke-opacity="0.8"/>
<line x1="96.17" y1="300.34" x2="95.96" y2="291.66" stroke="#dd2a2a" stroke-width="2.7"/>
<line x1="96.17" y1="300.34" x2="95.96" y2="291.66" stroke="#f7a8a8" stroke-width="0.8" stroke-opacity="0.7"/>
<line x1="125.19" y1="311.39" x2="124.92" y2="300.34" stroke="#96968f" stroke-width="2.7"/>
<line x1="125.19" y1="311.39" x2="124.92" y2="300.34" stroke="#ececE6" stroke-width="0.9" stroke-opacity="0.8"/>
<line x1="124.92" y1="300.34" x2="124.71" y2="291.66" stroke="#dd2a2a" stroke-width="2.7"/>
<line x1="124.92" y1="300.34" x2="124.71" y2="291.66" stroke="#f7a8a8" stroke-width="0.8" stroke-opacity="0.7"/>
<line x1="153.94" y1="311.39" x2="153.67" y2="300.34" stroke="#96968f" stroke-width="2.7"/>
<line x1="153.94" y1="311.39" x2="153.67" y2="300.34" stroke="#ececE6" stroke-width="0.9" stroke-opacity="0.8"/>
<line x1="153.67" y1="300.34" x2="153.46" y2="291.66" stroke="#dd2a2a" stroke-width="2.7"/>
<line x1="153.67" y1="300.34" x2="153.46" y2="291.66" stroke="#f7a8a8" stroke-width="0.8" stroke-opacity="0.7"/>
<line x1="28.82" y1="337.92" x2="28.55" y2="326.87" stroke="#96968f" stroke-width="2.7"/>
<line x1="28.82" y1="337.92" x2="28.55" y2="326.87" stroke="#ececE6" stroke-width="0.9" stroke-opacity="0.8"/>
<line x1="28.55" y1="326.87" x2="28.34" y2="318.19" stroke="#dd2a2a" stroke-width="2.7"/>
<line x1="28.55" y1="326.87" x2="28.34" y2="318.19" stroke="#f7a8a8" stroke-width="0.8" stroke-opacity="0.7"/>
<line x1="57.57" y1="337.92" x2="57.30" y2="326.87" stroke="#96968f" stroke-width="2.7"/>
<line x1="57.57" y1="337.92" x2="57.30" y2="326.87" stroke="#ececE6" stroke-width="0.9" stroke-opacity="0.8"/>
<line x1="57.30" y1="326.87" x2="57.09" y2="318.19" stroke="#dd2a2a" stroke-width="2.7"/>
<line x1="57.30" y1="326.87" x2="57.09" y2="318.19" stroke="#f7a8a8" stroke-width="0.8" stroke-opacity="0.7"/>
<line x1="86.32" y1="337.92" x2="86.05" y2="326.87" stroke="#96968f" stroke-width="2.7"/>
<line x1="86.32" y1="337.92" x2="86.05" y2="326.87" stroke="#ececE6" stroke-width="0.9" stroke-opacity="0.8"/>
<line x1="86.05" y1="326.87" x2="85.84" y2="318.19" stroke="#dd2a2a" stroke-width="2.7"/>
<line x1="86.05" y1="326.87" x2="85.84" y2="318.19" stroke="#f7a8a8" stroke-width="0.8" stroke-opacity="0.7"/>
<line x1="115.07" y1="337.92" x2="114.80" y2="326.87" stroke="#96968f" stroke-width="2.7"/>
<line x1="115.07" y1="337.92" x2="114.80" y2="326.87" stroke="#ececE6" stroke-width="0.9" stroke-opacity="0.8"/>
<line x1="114.80" y1="326.87" x2="114.59" y2="318.19" stroke="#dd2a2a" stroke-width="2.7"/>
<line x1="114.80" y1="326.87" x2="114.59" y2="318.19" stroke="#f7a8a8" stroke-width="0.8" stroke-opacity="0.7"/>
<line x1="143.82" y1="337.92" x2="143.55" y2="326.87" stroke="#96968f" stroke-width="2.7"/>
<line x1="143.82" y1="337.92" x2="143.55" y2="326.87" stroke="#ececE6" stroke-width="0.9" stroke-opacity="0.8"/>
<line x1="143.55" y1="326.87" x2="143.34" y2="318.19" stroke="#dd2a2a" stroke-width="2.7"/>
<line x1="143.55" y1="326.87" x2="143.34" y2="318.19" stroke="#f7a8a8" stroke-width="0.8" stroke-opacity="0.7"/>
<line x1="39.90" y1="364.45" x2="39.63" y2="353.40" stroke="#96968f" stroke-width="2.7"/>
<line x1="39.90" y1="364.45" x2="39.63" y2="353.40" stroke="#ececE6" stroke-width="0.9" stroke-opacity="0.8"/>
<line x1="39.63" y1="353.40" x2="39.42" y2="344.72" stroke="#dd2a2a" stroke-width="2.7"/>
<line x1="39.63" y1="353.40" x2="39.42" y2="344.72" stroke="#f7a8a8" stroke-width="0.8" stroke-opacity="0.7"/>
<line x1="68.65" y1="364.45" x2="68.38" y2="353.40" stroke="#96968f" stroke-width="2.7"/>
<line x1="68.65" y1="364.45" x2="68.38" y2="353.40" stroke="#ececE6" stroke-width="0.9" stroke-opacity="0.8"/>
<line x1="68.38" y1="353.40" x2="68.17" y2="344.72" stroke="#dd2a2a" stroke-width="2.7"/>
<line x1="68.38" y1="353.40" x2="68.17" y2="344.72" stroke="#f7a8a8" stroke-width="0.8" stroke-opacity="0.7"/>
<line x1="97.40" y1="364.45" x2="97.13" y2="353.40" stroke="#96968f" stroke-width="2.7"/>
<line x1="97.40" y1="364.45" x2="97.13" y2="353.40" stroke="#ececE6" stroke-width="0.9" stroke-opacity="0.8"/>
<line x1="97.13" y1="353.40" x2="96.92" y2="344.72" stroke="#dd2a2a" stroke-width="2.7"/>
<line x1="97.13" y1="353.40" x2="96.92" y2="344.72" stroke="#f7a8a8" stroke-width="0.8" stroke-opacity="0.7"/>
<line x1="126.15" y1="364.45" x2="125.88" y2="353.40" stroke="#96968f" stroke-width="2.7"/>
<line x1="126.15" y1="364.45" x2="125.88" y2="353.40" stroke="#ececE6" stroke-width="0.9" stroke-opacity="0.8"/>
<line x1="125.88" y1="353.40" x2="125.67" y2="344.72" stroke="#dd2a2a" stroke-width="2.7"/>
<line x1="125.88" y1="353.40" x2="125.67" y2="344.72" stroke="#f7a8a8" stroke-width="0.8" stroke-opacity="0.7"/>
<line x1="154.90" y1="364.45" x2="154.63" y2="353.40" stroke="#96968f" stroke-width="2.7"/>
<line x1="154.90" y1="364.45" x2="154.63" y2="353.40" stroke="#ececE6" stroke-width="0.9" stroke-opacity="0.8"/>
<line x1="154.63" y1="353.40" x2="154.42" y2="344.72" stroke="#dd2a2a" stroke-width="2.7"/>
<line x1="154.63" y1="353.40" x2="154.42" y2="344.72" stroke="#f7a8a8" stroke-width="0.8" stroke-opacity="0.7"/>
<line x1="183.65" y1="364.45" x2="183.38" y2="353.40" stroke="#96968f" stroke-width="2.7"/>
<line x1="183.65" y1="364.45" x2="183.38" y2="353.40" stroke="#ececE6" stroke-width="0.9" stroke-opacity="0.8"/>
<line x1="183.38" y1="353.40" x2="183.17" y2="344.72" stroke="#dd2a2a" stroke-width="2.7"/>
<line x1="183.38" y1="353.40" x2="183.17" y2="344.72" stroke="#f7a8a8" stroke-width="0.8" stroke-opacity="0.7"/>
<line x1="29.78" y1="390.98" x2="29.51" y2="379.93" stroke="#96968f" stroke-width="2.7"/>
<line x1="29.78" y1="390.98" x2="29.51" y2="379.93" stroke="#ececE6" stroke-width="0.9" stroke-opacity="0.8"/>
<line x1="29.51" y1="379.93" x2="29.30" y2="371.25" stroke="#dd2a2a" stroke-width="2.7"/>
<line x1="29.51" y1="379.93" x2="29.30" y2="371.25" stroke="#f7a8a8" stroke-width="0.8" stroke-opacity="0.7"/>
<line x1="58.53" y1="390.98" x2="58.26" y2="379.93" stroke="#96968f" stroke-width="2.7"/>
<line x1="58.53" y1="390.98" x2="58.26" y2="379.93" stroke="#ececE6" stroke-width="0.9" stroke-opacity="0.8"/>
<line x1="58.26" y1="379.93" x2="58.05" y2="371.25" stroke="#dd2a2a" stroke-width="2.7"/>
<line x1="58.26" y1="379.93" x2="58.05" y2="371.25" stroke="#f7a8a8" stroke-width="0.8" stroke-opacity="0.7"/>
<line x1="87.28" y1="390.98" x2="87.01" y2="379.93" stroke="#96968f" stroke-width="2.7"/>
<line x1="87.28" y1="390.98" x2="87.01" y2="379.93" stroke="#ececE6" stroke-width="0.9" stroke-opacity="0.8"/>
<line x1="87.01" y1="379.93" x2="86.80" y2="371.25" stroke="#dd2a2a" stroke-width="2.7"/>
<line x1="87.01" y1="379.93" x2="86.80" y2="371.25" stroke="#f7a8a8" stroke-width="0.8" stroke-opacity="0.7"/>
<line x1="116.03" y1="390.98" x2="115.76" y2="379.93" stroke="#96968f" stroke-width="2.7"/>
<line x1="116.03" y1="390.98" x2="115.76" y2="379.93" stroke="#ececE6" stroke-width="0.9" stroke-opacity="0.8"/>
<line x1="115.76" y1="379.93" x2="115.55" y2="371.25" stroke="#dd2a2a" stroke-width="2.7"/>
<line x1="115.76" y1="379.93" x2="115.55" y2="371.25" stroke="#f7a8a8" stroke-width="0.8" stroke-opacity="0.7"/>
<line x1="144.78" y1="390.98" x2="144.51" y2="379.93" stroke="#96968f" stroke-width="2.7"/>
<line x1="144.78" y1="390.98" x2="144.51" y2="379.93" stroke="#ececE6" stroke-width="0.9" stroke-opacity="0.8"/>
<line x1="144.51" y1="379.93" x2="144.30" y2="371.25" stroke="#dd2a2a" stroke-width="2.7"/>
<line x1="144.51" y1="379.93" x2="144.30" y2="371.25" stroke="#f7a8a8" stroke-width="0.8" stroke-opacity="0.7"/>
<line x1="173.53" y1="390.98" x2="173.26" y2="379.93" stroke="#96968f" stroke-width="2.7"/>
<line x1="173.53" y1="390.98" x2="173.26" y2="379.93" stroke="#ececE6" stroke-width="0.9" stroke-opacity="0.8"/>
<line x1="173.26" y1="379.93" x2="173.05" y2="371.25" stroke="#dd2a2a" stroke-width="2.7"/>
<line x1="173.26" y1="379.93" x2="173.05" y2="371.25" stroke="#f7a8a8" stroke-width="0.8" stroke-opacity="0.7"/>
<line x1="40.86" y1="417.51" x2="40.59" y2="406.46" stroke="#96968f" stroke-width="2.7"/>
<line x1="40.86" y1="417.51" x2="40.59" y2="406.46" stroke="#ececE6" stroke-width="0.9" stroke-opacity="0.8"/>
<line x1="40.59" y1="406.46" x2="40.38" y2="397.78" stroke="#dd2a2a" stroke-width="2.7"/>
<line x1="40.59" y1="406.46" x2="40.38" y2="397.78" stroke="#f7a8a8" stroke-width="0.8" stroke-opacity="0.7"/>
<line x1="69.61" y1="417.51" x2="69.34" y2="406.46" stroke="#96968f" stroke-width="2.7"/>
<line x1="69.61" y1="417.51" x2="69.34" y2="406.46" stroke="#ececE6" stroke-width="0.9" stroke-opacity="0.8"/>
<line x1="69.34" y1="406.46" x2="69.13" y2="397.78" stroke="#dd2a2a" stroke-width="2.7"/>
<line x1="69.34" y1="406.46" x2="69.13" y2="397.78" stroke="#f7a8a8" stroke-width="0.8" stroke-opacity="0.7"/>
<line x1="98.36" y1="417.51" x2="98.09" y2="406.46" stroke="#96968f" stroke-width="2.7"/>
<line x1="98.36" y1="417.51" x2="98.09" y2="406.46" stroke="#ececE6" stroke-width="0.9" stroke-opacity="0.8"/>
<line x1="98.09" y1="406.46" x2="97.88" y2="397.78" stroke="#dd2a2a" stroke-width="2.7"/>
<line x1="98.09" y1="406.46" x2="97.88" y2="397.78" stroke="#f7a8a8" stroke-width="0.8" stroke-opacity="0.7"/>
<line x1="127.11" y1="417.51" x2="126.84" y2="406.46" stroke="#96968f" stroke-width="2.7"/>
<line x1="127.11" y1="417.51" x2="126.84" y2="406.46" stroke="#ececE6" stroke-width="0.9" stroke-opacity="0.8"/>
<line x1="126.84" y1="406.46" x2="126.63" y2="397.78" stroke="#dd2a2a" stroke-width="2.7"/>
<line x1="126.84" y1="406.46" x2="126.63" y2="397.78" stroke="#f7a8a8" stroke-width="0.8" stroke-opacity="0.7"/>
<line x1="155.86" y1="417.51" x2="155.59" y2="406.46" stroke="#96968f" stroke-width="2.7"/>
<line x1="155.86" y1="417.51" x2="155.59" y2="406.46" stroke="#ececE6" stroke-width="0.9" stroke-opacity="0.8"/>
<line x1="155.59" y1="406.46" x2="155.38" y2="397.78" stroke="#dd2a2a" stroke-width="2.7"/>
<line x1="155.59" y1="406.46" x2="155.38" y2="397.78" stroke="#f7a8a8" stroke-width="0.8" stroke-opacity="0.7"/>
<line x1="184.61" y1="417.51" x2="184.34" y2="406.46" stroke="#96968f" stroke-width="2.7"/>
<line x1="184.61" y1="417.51" x2="184.34" y2="406.46" stroke="#ececE6" stroke-width="0.9" stroke-opacity="0.8"/>
<line x1="184.34" y1="406.46" x2="184.13" y2="397.78" stroke="#dd2a2a" stroke-width="2.7"/>
<line x1="184.34" y1="406.46" x2="184.13" y2="397.78" stroke="#f7a8a8" stroke-width="0.8" stroke-opacity="0.7"/>
<line x1="30.74" y1="444.04" x2="30.47" y2="432.99" stroke="#96968f" stroke-width="2.7"/>
<line x1="30.74" y1="444.04" x2="30.47" y2="432.99" stroke="#ececE6" stroke-width="0.9" stroke-opacity="0.8"/>
<line x1="30.47" y1="432.99" x2="30.26" y2="424.31" stroke="#dd2a2a" stroke-width="2.7"/>
<line x1="30.47" y1="432.99" x2="30.26" y2="424.31" stroke="#f7a8a8" stroke-width="0.8" stroke-opacity="0.7"/>
<line x1="59.49" y1="444.04" x2="59.22" y2="432.99" stroke="#96968f" stroke-width="2.7"/>
<line x1="59.49" y1="444.04" x2="59.22" y2="432.99" stroke="#ececE6" stroke-width="0.9" stroke-opacity="0.8"/>
<line x1="59.22" y1="432.99" x2="59.01" y2="424.31" stroke="#dd2a2a" stroke-width="2.7"/>
<line x1="59.22" y1="432.99" x2="59.01" y2="424.31" stroke="#f7a8a8" stroke-width="0.8" stroke-opacity="0.7"/>
<line x1="88.24" y1="444.04" x2="87.97" y2="432.99" stroke="#96968f" stroke-width="2.7"/>
<line x1="88.24" y1="444.04" x2="87.97" y2="432.99" stroke="#ececE6" stroke-width="0.9" stroke-opacity="0.8"/>
<line x1="87.97" y1="432.99" x2="87.76" y2="424.31" stroke="#dd2a2a" stroke-width="2.7"/>
<line x1="87.97" y1="432.99" x2="87.76" y2="424.31" stroke="#f7a8a8" stroke-width="0.8" stroke-opacity="0.7"/>
<line x1="116.99" y1="444.04" x2="116.72" y2="432.99" stroke="#96968f" stroke-width="2.7"/>
<line x1="116.99" y1="444.04" x2="116.72" y2="432.99" stroke="#ececE6" stroke-width="0.9" stroke-opacity="0.8"/>
<line x1="116.72" y1="432.99" x2="116.51" y2="424.31" stroke="#dd2a2a" stroke-width="2.7"/>
<line x1="116.72" y1="432.99" x2="116.51" y2="424.31" stroke="#f7a8a8" stroke-width="0.8" stroke-opacity="0.7"/>
<line x1="145.74" y1="444.04" x2="145.47" y2="432.99" stroke="#96968f" stroke-width="2.7"/>
<line x1="145.74" y1="444.04" x2="145.47" y2="432.99" stroke="#ececE6" stroke-width="0.9" stroke-opacity="0.8"/>
<line x1="145.47" y1="432.99" x2="145.26" y2="424.31" stroke="#dd2a2a" stroke-width="2.7"/>
<line x1="145.47" y1="432.99" x2="145.26" y2="424.31" stroke="#f7a8a8" stroke-width="0.8" stroke-opacity="0.7"/>
<line x1="174.49" y1="444.04" x2="174.22" y2="432.99" stroke="#96968f" stroke-width="2.7"/>
<line x1="174.49" y1="444.04" x2="174.22" y2="432.99" stroke="#ececE6" stroke-width="0.9" stroke-opacity="0.8"/>
<line x1="174.22" y1="432.99" x2="174.01" y2="424.31" stroke="#dd2a2a" stroke-width="2.7"/>
<line x1="174.22" y1="432.99" x2="174.01" y2="424.31" stroke="#f7a8a8" stroke-width="0.8" stroke-opacity="0.7"/>
<circle cx="37.50" cy="238.60" r="3.5" fill="url(#gO)"/>
<circle cx="66.25" cy="238.60" r="3.5" fill="url(#gO)"/>
<circle cx="95.00" cy="238.60" r="3.5" fill="url(#gO)"/>
<circle cx="123.75" cy="238.60" r="3.5" fill="url(#gO)"/>
<circle cx="27.38" cy="265.13" r="3.5" fill="url(#gO)"/>
<circle cx="56.13" cy="265.13" r="3.5" fill="url(#gO)"/>
<circle cx="84.88" cy="265.13" r="3.5" fill="url(#gO)"/>
<circle cx="113.63" cy="265.13" r="3.5" fill="url(#gO)"/>
<circle cx="38.46" cy="291.66" r="3.5" fill="url(#gO)"/>
<circle cx="67.21" cy="291.66" r="3.5" fill="url(#gO)"/>
<circle cx="95.96" cy="291.66" r="3.5" fill="url(#gO)"/>
<circle cx="124.71" cy="291.66" r="3.5" fill="url(#gO)"/>
<circle cx="153.46" cy="291.66" r="3.5" fill="url(#gO)"/>
<circle cx="28.34" cy="318.19" r="3.5" fill="url(#gO)"/>
<circle cx="57.09" cy="318.19" r="3.5" fill="url(#gO)"/>
<circle cx="85.84" cy="318.19" r="3.5" fill="url(#gO)"/>
<circle cx="114.59" cy="318.19" r="3.5" fill="url(#gO)"/>
<circle cx="143.34" cy="318.19" r="3.5" fill="url(#gO)"/>
<circle cx="39.42" cy="344.72" r="3.5" fill="url(#gO)"/>
<circle cx="68.17" cy="344.72" r="3.5" fill="url(#gO)"/>
<circle cx="96.92" cy="344.72" r="3.5" fill="url(#gO)"/>
<circle cx="125.67" cy="344.72" r="3.5" fill="url(#gO)"/>
<circle cx="154.42" cy="344.72" r="3.5" fill="url(#gO)"/>
<circle cx="183.17" cy="344.72" r="3.5" fill="url(#gO)"/>
<circle cx="29.30" cy="371.25" r="3.5" fill="url(#gO)"/>
<circle cx="58.05" cy="371.25" r="3.5" fill="url(#gO)"/>
<circle cx="86.80" cy="371.25" r="3.5" fill="url(#gO)"/>
<circle cx="115.55" cy="371.25" r="3.5" fill="url(#gO)"/>
<circle cx="144.30" cy="371.25" r="3.5" fill="url(#gO)"/>
<circle cx="173.05" cy="371.25" r="3.5" fill="url(#gO)"/>
<circle cx="40.38" cy="397.78" r="3.5" fill="url(#gO)"/>
<circle cx="69.13" cy="397.78" r="3.5" fill="url(#gO)"/>
<circle cx="97.88" cy="397.78" r="3.5" fill="url(#gO)"/>
<circle cx="126.63" cy="397.78" r="3.5" fill="url(#gO)"/>
<circle cx="155.38" cy="397.78" r="3.5" fill="url(#gO)"/>
<circle cx="184.13" cy="397.78" r="3.5" fill="url(#gO)"/>
<circle cx="30.26" cy="424.31" r="3.5" fill="url(#gO)"/>
<circle cx="59.01" cy="424.31" r="3.5" fill="url(#gO)"/>
<circle cx="87.76" cy="424.31" r="3.5" fill="url(#gO)"/>
<circle cx="116.51" cy="424.31" r="3.5" fill="url(#gO)"/>
<circle cx="145.26" cy="424.31" r="3.5" fill="url(#gO)"/>
<circle cx="174.01" cy="424.31" r="3.5" fill="url(#gO)"/>
<circle cx="41.34" cy="450.84" r="3.5" fill="url(#gO)"/>
<circle cx="70.09" cy="450.84" r="3.5" fill="url(#gO)"/>
<circle cx="98.84" cy="450.84" r="3.5" fill="url(#gO)"/>
<circle cx="127.59" cy="450.84" r="3.5" fill="url(#gO)"/>
<circle cx="156.34" cy="450.84" r="3.5" fill="url(#gO)"/>
<circle cx="185.09" cy="450.84" r="3.5" fill="url(#gO)"/>
<circle cx="26.90" cy="231.80" r="5.9" fill="url(#gZn)"/>
<circle cx="55.65" cy="231.80" r="5.9" fill="url(#gZn)"/>
<circle cx="84.40" cy="231.80" r="5.9" fill="url(#gZn)"/>
<circle cx="113.15" cy="231.80" r="5.9" fill="url(#gZn)"/>
<circle cx="37.98" cy="258.33" r="5.9" fill="url(#gZn)"/>
<circle cx="66.73" cy="258.33" r="5.9" fill="url(#gZn)"/>
<circle cx="95.48" cy="258.33" r="5.9" fill="url(#gZn)"/>
<circle cx="124.23" cy="258.33" r="5.9" fill="url(#gZn)"/>
<circle cx="27.86" cy="284.86" r="5.9" fill="url(#gZn)"/>
<circle cx="56.61" cy="284.86" r="5.9" fill="url(#gZn)"/>
<circle cx="85.36" cy="284.86" r="5.9" fill="url(#gZn)"/>
<circle cx="114.11" cy="284.86" r="5.9" fill="url(#gZn)"/>
<circle cx="142.86" cy="284.86" r="5.9" fill="url(#gZn)"/>
<circle cx="38.94" cy="311.39" r="5.9" fill="url(#gZn)"/>
<circle cx="67.69" cy="311.39" r="5.9" fill="url(#gZn)"/>
<circle cx="96.44" cy="311.39" r="5.9" fill="url(#gZn)"/>
<circle cx="125.19" cy="311.39" r="5.9" fill="url(#gZn)"/>
<circle cx="153.94" cy="311.39" r="5.9" fill="url(#gZn)"/>
<circle cx="28.82" cy="337.92" r="5.9" fill="url(#gZn)"/>
<circle cx="57.57" cy="337.92" r="5.9" fill="url(#gZn)"/>
<circle cx="86.32" cy="337.92" r="5.9" fill="url(#gZn)"/>
<circle cx="115.07" cy="337.92" r="5.9" fill="url(#gZn)"/>
<circle cx="143.82" cy="337.92" r="5.9" fill="url(#gZn)"/>
<circle cx="172.57" cy="337.92" r="5.9" fill="url(#gZn)"/>
<circle cx="39.90" cy="364.45" r="5.9" fill="url(#gZn)"/>
<circle cx="68.65" cy="364.45" r="5.9" fill="url(#gZn)"/>
<circle cx="97.40" cy="364.45" r="5.9" fill="url(#gZn)"/>
<circle cx="126.15" cy="364.45" r="5.9" fill="url(#gZn)"/>
<circle cx="154.90" cy="364.45" r="5.9" fill="url(#gZn)"/>
<circle cx="183.65" cy="364.45" r="5.9" fill="url(#gZn)"/>
<circle cx="29.78" cy="390.98" r="5.9" fill="url(#gZn)"/>
<circle cx="58.53" cy="390.98" r="5.9" fill="url(#gZn)"/>
<circle cx="87.28" cy="390.98" r="5.9" fill="url(#gZn)"/>
<circle cx="116.03" cy="390.98" r="5.9" fill="url(#gZn)"/>
<circle cx="144.78" cy="390.98" r="5.9" fill="url(#gZn)"/>
<circle cx="173.53" cy="390.98" r="5.9" fill="url(#gZn)"/>
<circle cx="40.86" cy="417.51" r="5.9" fill="url(#gZn)"/>
<circle cx="69.61" cy="417.51" r="5.9" fill="url(#gZn)"/>
<circle cx="98.36" cy="417.51" r="5.9" fill="url(#gZn)"/>
<circle cx="127.11" cy="417.51" r="5.9" fill="url(#gZn)"/>
<circle cx="155.86" cy="417.51" r="5.9" fill="url(#gZn)"/>
<circle cx="184.61" cy="417.51" r="5.9" fill="url(#gZn)"/>
<circle cx="30.74" cy="444.04" r="5.9" fill="url(#gZn)"/>
<circle cx="59.49" cy="444.04" r="5.9" fill="url(#gZn)"/>
<circle cx="88.24" cy="444.04" r="5.9" fill="url(#gZn)"/>
<circle cx="116.99" cy="444.04" r="5.9" fill="url(#gZn)"/>
<circle cx="145.74" cy="444.04" r="5.9" fill="url(#gZn)"/>
<circle cx="174.49" cy="444.04" r="5.9" fill="url(#gZn)"/>
<rect x="0" y="215" width="62" height="250" fill="url(#fadeL)"/>
<line x1="86.50" y1="236.50" x2="91.41" y2="248.41" stroke="#f00000" stroke-width="1.8"/>
<polygon points="93.50,253.50 88.61,249.57 94.20,247.26" fill="#f00000"/>
<line x1="139.50" y1="287.50" x2="131.45" y2="300.80" stroke="#f08a30" stroke-width="1.8"/>
<polygon points="128.60,305.50 128.86,299.23 134.04,302.36" fill="#f08a30"/>
<line x1="180.00" y1="416.50" x2="163.50" y2="416.50" stroke="#0a10e8" stroke-width="1.8"/>
<polygon points="158.00,416.50 163.50,413.48 163.50,419.52" fill="#0a10e8"/>
<text x="71.50" y="251.60" style="font-family:'Liberation Sans',sans-serif;font-size:11.5px;font-weight:normal" fill="#111" text-anchor="start" >V</text>
<text x="79.00" y="254.60" style="font-family:'Liberation Sans',sans-serif;font-size:7.8px;font-weight:normal" fill="#111" text-anchor="start" >Zn</text>
<text x="135.20" y="306.20" style="font-family:'Liberation Sans',sans-serif;font-size:11.5px;font-weight:normal" fill="#111" text-anchor="start" >V</text>
<text x="142.60" y="309.20" style="font-family:'Liberation Sans',sans-serif;font-size:7.8px;font-weight:normal" fill="#111" text-anchor="start" >Zn</text>
<text x="163.20" y="411.00" style="font-family:'Liberation Sans',sans-serif;font-size:11.5px;font-weight:normal" fill="#111" text-anchor="start" >V</text>
<text x="170.60" y="414.00" style="font-family:'Liberation Sans',sans-serif;font-size:7.8px;font-weight:normal" fill="#111" text-anchor="start" >Zn</text>
<line x1="66.50" y1="227.00" x2="66.50" y2="203.50" stroke="#f00000" stroke-width="1.7" stroke-dasharray="1.6,1.4"/>
<polygon points="66.50,196.50 70.35,203.50 62.65,203.50" fill="#f00000"/>
<line x1="84.80" y1="227.00" x2="84.80" y2="206.50" stroke="#777" stroke-width="1.7" stroke-dasharray="1.6,1.4"/>
<polygon points="84.80,199.50 88.65,206.50 80.95,206.50" fill="#777"/>
<circle cx="67.1" cy="190.8" r="4.2" fill="#f01010"/>
<circle cx="67.1" cy="190.8" r="1.7" fill="#fff" fill-opacity="0.9"/>
<circle cx="85.4" cy="190.2" r="5.2" fill="url(#gZn)"/>
<text x="26.60" y="195.00" style="font-family:'Liberation Sans',sans-serif;font-size:12px;font-weight:normal" fill="#f00000" text-anchor="start" >5.1 eV</text>
<text x="95.00" y="195.00" style="font-family:'Liberation Sans',sans-serif;font-size:12px;font-weight:normal" fill="#666" text-anchor="start" >0.3 eV</text>
<text x="17.20" y="225.20" style="font-family:'Liberation Sans',sans-serif;font-size:12.9px;font-weight:normal" fill="#111" text-anchor="start" >(0001)</text>
<text x="-0.50" y="195.00" style="font-family:'Liberation Sans',sans-serif;font-size:15px;font-weight:bold" fill="#000" text-anchor="start" >d</text>
<line x1="146.50" y1="282.00" x2="175.36" y2="266.17" stroke="#777" stroke-width="1.7" stroke-dasharray="1.6,1.4"/>
<polygon points="181.50,262.80 177.21,269.54 173.51,262.79" fill="#777"/>
<line x1="155.50" y1="288.50" x2="178.01" y2="276.58" stroke="#f00000" stroke-width="1.7" stroke-dasharray="1.6,1.4"/>
<polygon points="184.20,273.30 179.82,279.98 176.21,273.17" fill="#f00000"/>
<text x="157.00" y="232.50" style="font-family:'Liberation Sans',sans-serif;font-size:12px;font-weight:normal" fill="#666" text-anchor="start" transform="rotate(57 157 232.5)">1.2 eV</text>
<text x="181.80" y="280.50" style="font-family:'Liberation Sans',sans-serif;font-size:12px;font-weight:normal" fill="#f00000" text-anchor="start" transform="rotate(55 181.8 280.5)">4.5 eV</text>
<text x="160.50" y="286.50" style="font-family:'Liberation Serif',serif;font-size:14.3px;font-weight:normal" fill="#111" text-anchor="start" transform="rotate(57 160.5 286.5)">(10<tspan text-decoration="overline">1</tspan>1)</text>
<text x="189.00" y="350.00" style="font-family:'Liberation Serif',serif;font-size:14.3px;font-weight:normal" fill="#111" text-anchor="start" transform="rotate(90 189 350)">(10<tspan text-decoration="overline">1</tspan>0)</text>
<line x1="186.50" y1="396.50" x2="213.50" y2="396.50" stroke="#f00000" stroke-width="1.7" stroke-dasharray="1.6,1.4"/>
<polygon points="220.50,396.50 213.50,400.35 213.50,392.65" fill="#f00000"/>
<line x1="190.00" y1="416.50" x2="212.90" y2="416.50" stroke="#777" stroke-width="1.7" stroke-dasharray="1.6,1.4"/>
<polygon points="219.90,416.50 212.90,420.35 212.90,412.65" fill="#777"/>
<text x="226.00" y="372.30" style="font-family:'Liberation Sans',sans-serif;font-size:12px;font-weight:normal" fill="#f00000" text-anchor="start" transform="rotate(90 226 372.3)">4.8 eV</text>
<text x="225.50" y="413.50" style="font-family:'Liberation Sans',sans-serif;font-size:12px;font-weight:normal" fill="#555" text-anchor="start" transform="rotate(90 225.5 413.5)">5.5 eV</text>
<line x1="126.80" y1="454.00" x2="126.80" y2="467.30" stroke="#f00000" stroke-width="1.7" stroke-dasharray="1.6,1.4"/>
<polygon points="126.80,473.80 123.22,467.30 130.38,467.30" fill="#f00000"/>
<line x1="146.00" y1="449.50" x2="146.00" y2="466.00" stroke="#777" stroke-width="1.7" stroke-dasharray="1.6,1.4"/>
<polygon points="146.00,472.50 142.43,466.00 149.57,466.00" fill="#777"/>
<text x="121.00" y="471.80" style="font-family:'Liberation Sans',sans-serif;font-size:12px;font-weight:normal" fill="#f00000" text-anchor="end" >1.2 eV</text>
<text x="151.40" y="471.80" style="font-family:'Liberation Sans',sans-serif;font-size:12px;font-weight:normal" fill="#555" text-anchor="start" >6.2 eV</text>
<text x="70.30" y="389.20" style="font-family:'Liberation Sans',sans-serif;font-size:12px;font-weight:normal" fill="#555" text-anchor="start" >Zn</text>
<text x="101.00" y="408.30" style="font-family:'Liberation Sans',sans-serif;font-size:12px;font-weight:normal" fill="#f00000" text-anchor="start" >O</text>
</g>
</svg></body></html>
